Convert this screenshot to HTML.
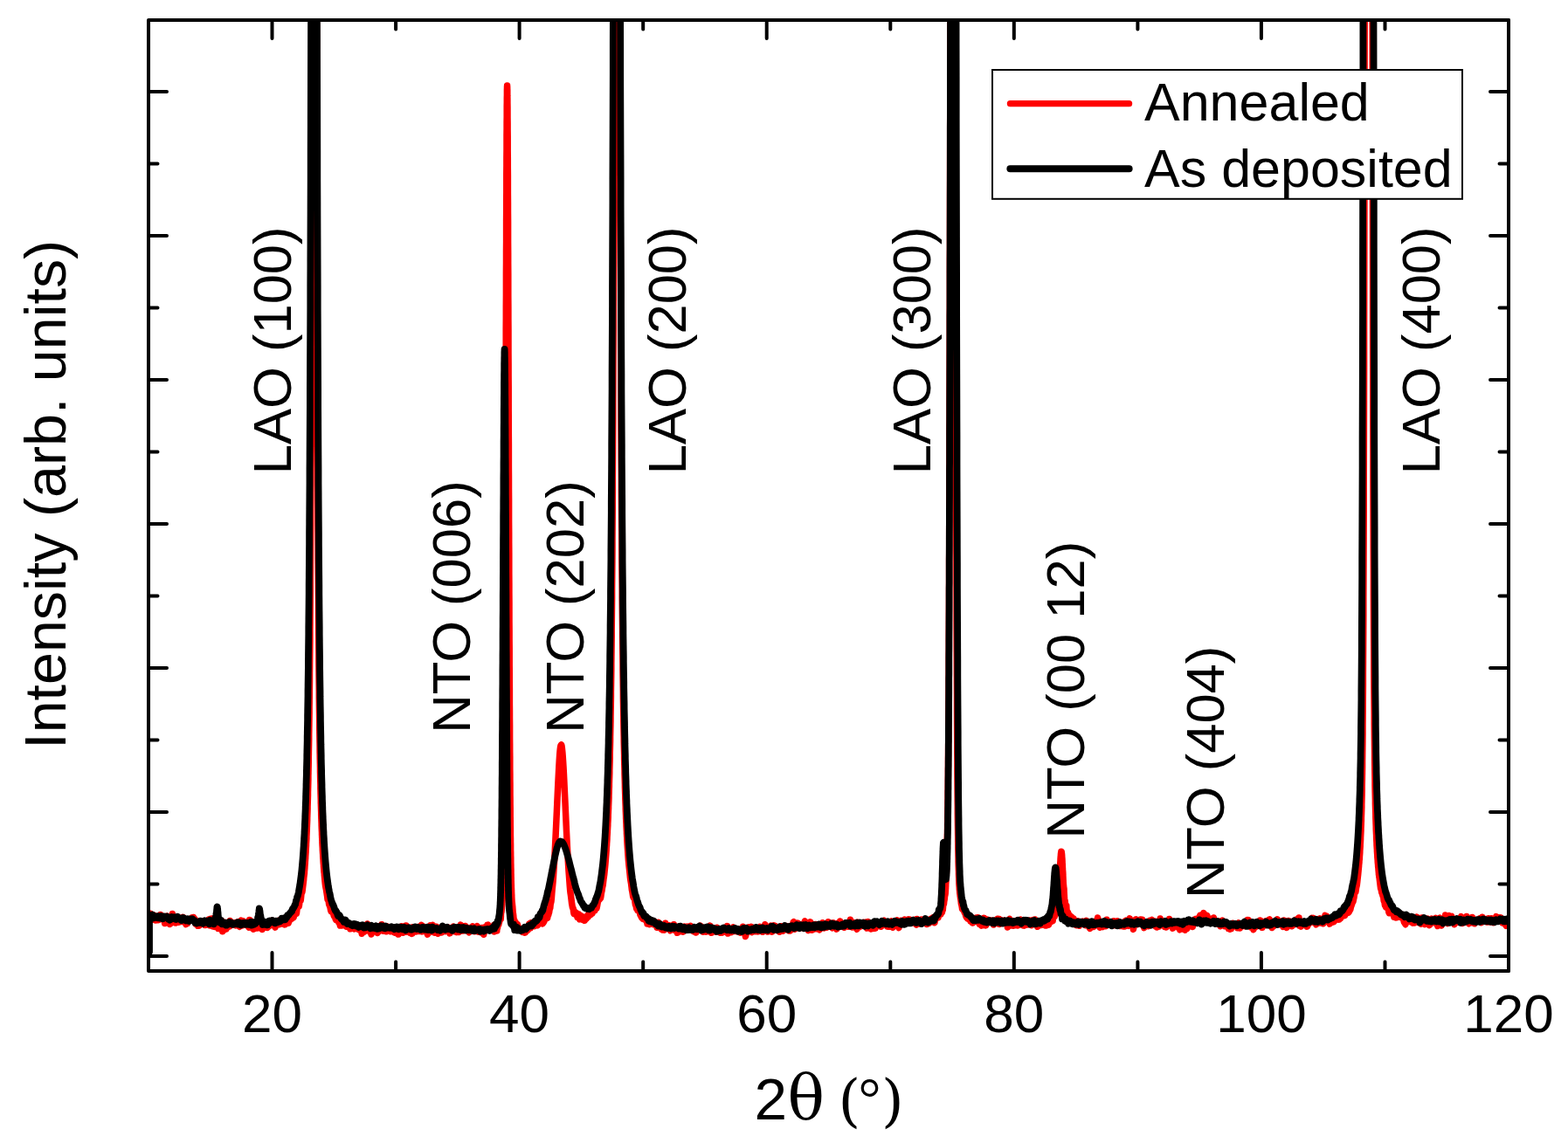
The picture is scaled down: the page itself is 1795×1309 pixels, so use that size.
<!DOCTYPE html>
<html><head><meta charset="utf-8"><title>XRD</title>
<style>
html,body{margin:0;padding:0;background:#fff;}
svg{display:block;}
text{font-family:"Liberation Sans",Arial,sans-serif;fill:#000;}
.serif{font-family:"DejaVu Serif","Liberation Serif",serif;}
.serif2{font-family:"Liberation Serif",serif;}
</style></head>
<body>
<svg width="1795" height="1309" viewBox="0 0 1795 1309">
<rect x="0" y="0" width="1795" height="1309" fill="#fff"/>
<defs><clipPath id="pc"><rect x="170.0" y="23.0" width="1557.0" height="1089.0"/></clipPath></defs>
<g clip-path="url(#pc)" fill="none" stroke-linejoin="round" stroke-linecap="round">
<polyline stroke="#ff0000" stroke-width="7.5" points="171.0,1048.0 171.4,1049.8 171.8,1049.2 172.2,1046.1 172.6,1047.5 173.0,1050.5 173.4,1049.6 173.8,1048.8 174.2,1048.5 174.6,1048.6 175.0,1051.7 175.4,1053.3 175.8,1052.3 176.2,1050.9 176.6,1048.3 177.0,1048.8 177.4,1051.3 177.8,1052.1 178.2,1054.0 178.6,1053.0 179.0,1051.7 179.4,1049.9 179.8,1050.4 180.2,1053.3 180.6,1053.7 181.0,1053.6 181.4,1052.5 181.8,1053.6 182.2,1052.2 182.6,1050.9 183.0,1052.9 183.4,1050.7 183.8,1047.4 184.2,1048.7 184.6,1050.0 185.0,1050.1 185.4,1050.7 185.8,1049.1 186.2,1049.3 186.6,1052.6 187.0,1052.7 187.4,1051.8 187.8,1051.5 188.2,1053.5 188.6,1057.5 189.0,1054.5 189.4,1052.5 189.8,1055.1 190.2,1052.9 190.6,1050.8 191.0,1049.9 191.4,1049.2 191.8,1050.7 192.2,1052.7 192.6,1052.9 193.0,1053.6 193.4,1054.5 193.8,1052.6 194.2,1055.1 194.6,1058.5 195.0,1055.8 195.4,1056.3 195.8,1057.2 196.2,1054.3 196.6,1055.3 197.0,1051.5 197.4,1046.4 197.8,1050.0 198.2,1052.0 198.6,1050.3 199.0,1053.1 199.4,1055.5 199.8,1052.2 200.2,1051.1 200.6,1053.9 201.0,1057.1 201.4,1053.3 201.8,1051.2 202.2,1053.2 202.6,1050.5 203.0,1050.8 203.4,1051.0 203.8,1050.4 204.2,1054.7 204.6,1056.1 205.0,1055.2 205.4,1055.5 205.8,1055.1 206.2,1055.7 206.6,1053.8 207.0,1052.0 207.4,1054.4 207.8,1053.4 208.2,1051.1 208.6,1053.1 209.0,1055.5 209.4,1053.2 209.8,1050.4 210.2,1052.5 210.6,1054.7 211.0,1053.9 211.4,1054.9 211.8,1056.7 212.2,1055.9 212.6,1057.5 213.0,1058.6 213.4,1056.2 213.8,1055.6 214.2,1057.3 214.6,1057.4 215.0,1053.9 215.4,1053.1 215.8,1054.4 216.2,1053.1 216.6,1053.1 217.0,1053.8 217.4,1053.1 217.8,1052.0 218.2,1053.1 218.6,1051.8 219.0,1052.0 219.4,1054.3 219.8,1053.7 220.2,1050.8 220.6,1052.7 221.0,1053.6 221.4,1050.4 221.8,1053.8 222.2,1054.8 222.6,1054.0 223.0,1052.4 223.4,1052.8 223.8,1056.4 224.2,1058.2 224.6,1057.8 225.0,1057.5 225.4,1058.8 225.8,1057.9 226.2,1056.6 226.6,1060.3 227.0,1060.2 227.4,1059.1 227.8,1060.1 228.2,1060.0 228.6,1058.7 229.0,1057.1 229.4,1058.0 229.8,1056.7 230.2,1056.4 230.6,1055.6 231.0,1055.2 231.4,1055.9 231.8,1057.3 232.2,1058.0 232.6,1055.4 233.0,1055.0 233.4,1056.6 233.8,1055.8 234.2,1057.6 234.6,1059.5 235.0,1059.1 235.4,1057.9 235.8,1056.6 236.2,1059.2 236.6,1057.8 236.6,1057.8 236.7,1056.5 236.8,1055.2 236.8,1055.0 236.9,1055.8 237.0,1056.7 237.0,1056.7 237.1,1057.5 237.2,1058.4 237.2,1058.7 237.3,1058.5 237.4,1058.2 237.4,1058.2 237.5,1058.0 237.6,1057.7 237.6,1057.3 237.7,1056.9 237.8,1056.5 237.8,1056.5 237.9,1056.0 238.0,1055.6 238.0,1055.5 238.1,1055.7 238.2,1055.9 238.2,1055.9 238.3,1056.1 238.4,1056.4 238.4,1056.1 238.5,1055.4 238.6,1054.7 238.6,1054.7 238.7,1054.1 238.8,1053.4 238.8,1053.4 238.9,1054.1 239.0,1054.7 239.0,1054.7 239.1,1055.4 239.2,1056.0 239.2,1056.0 239.3,1055.3 239.4,1054.6 239.4,1054.6 239.5,1053.9 239.6,1053.2 239.6,1052.8 239.7,1052.8 239.8,1052.8 239.8,1052.8 239.9,1052.9 240.0,1052.9 240.0,1053.7 240.1,1055.2 240.2,1056.7 240.2,1056.7 240.3,1058.2 240.4,1059.7 240.4,1059.9 240.5,1058.9 240.6,1057.9 240.6,1057.9 240.7,1056.9 240.8,1055.8 240.8,1055.0 240.9,1054.3 241.0,1053.7 241.0,1053.7 241.1,1053.0 241.2,1052.3 241.2,1052.8 241.3,1054.5 241.4,1056.1 241.4,1056.1 241.5,1057.8 241.6,1059.5 241.6,1059.9 241.7,1058.9 241.8,1058.0 241.8,1058.0 241.9,1057.1 242.0,1056.2 242.0,1055.3 242.1,1054.5 242.2,1053.7 242.2,1053.7 242.3,1052.9 242.4,1052.0 242.4,1052.2 242.5,1053.3 242.6,1054.4 242.6,1054.4 242.7,1055.6 242.8,1056.7 242.8,1057.5 242.9,1058.0 243.0,1058.4 243.0,1058.4 243.1,1058.9 243.2,1059.4 243.2,1059.4 243.3,1059.1 243.4,1058.7 243.4,1058.7 243.5,1058.4 243.6,1058.1 243.6,1058.2 243.7,1058.9 243.8,1059.6 243.8,1059.6 243.9,1060.3 244.0,1061.0 244.0,1060.9 244.1,1059.9 244.2,1058.9 244.2,1058.9 244.3,1058.0 244.4,1057.0 244.4,1056.7 244.5,1057.1 244.6,1057.5 244.6,1057.5 244.7,1057.9 244.8,1058.3 244.8,1058.1 244.9,1057.3 245.0,1056.5 245.0,1056.5 245.1,1055.7 245.2,1054.9 245.2,1054.8 245.3,1055.5 245.4,1056.1 245.4,1056.1 245.5,1056.8 245.6,1057.5 245.6,1058.2 245.7,1059.0 245.8,1059.8 245.8,1059.8 245.9,1060.6 246.0,1061.4 246.0,1061.5 246.1,1061.1 246.2,1060.6 246.2,1060.6 246.3,1060.2 246.4,1059.7 246.4,1059.4 246.5,1059.3 246.6,1059.2 246.6,1059.2 246.7,1059.1 246.8,1059.0 246.8,1058.5 246.9,1057.4 247.0,1056.4 247.0,1056.4 247.1,1055.3 247.2,1054.3 247.2,1054.2 247.3,1055.1 247.4,1056.0 247.4,1056.0 247.5,1056.9 247.6,1057.8 247.6,1058.0 247.7,1057.6 247.8,1057.1 247.8,1057.1 247.9,1056.7 248.0,1056.2 248.0,1056.5 248.1,1057.7 248.2,1058.8 248.2,1058.8 248.3,1059.9 248.4,1061.0 248.4,1061.1 248.5,1060.4 248.6,1059.6 248.6,1059.6 248.7,1058.8 248.8,1058.0 248.8,1057.9 248.9,1058.5 249.0,1059.1 249.0,1059.1 249.1,1059.6 249.2,1060.2 249.2,1060.2 249.3,1059.4 249.4,1058.7 249.4,1058.7 249.5,1058.0 249.6,1057.2 249.6,1057.6 249.7,1059.1 249.8,1060.5 249.8,1060.5 249.9,1062.0 250.0,1063.5 250.0,1063.4 250.1,1061.7 250.2,1060.0 250.2,1060.0 250.3,1058.3 250.4,1056.6 250.4,1056.1 250.5,1056.7 250.6,1057.3 250.6,1057.3 250.7,1057.9 250.8,1058.4 250.8,1059.2 250.9,1060.2 251.0,1061.1 251.0,1061.1 251.1,1062.1 251.2,1063.0 251.2,1062.9 251.3,1061.8 251.4,1060.6 251.4,1060.6 251.5,1059.4 251.6,1058.3 251.6,1057.3 251.7,1056.6 251.8,1055.9 251.8,1055.9 251.9,1055.3 252.0,1054.7 252.0,1054.8 252.1,1055.6 252.2,1056.3 252.2,1056.3 252.3,1057.1 252.4,1057.8 252.4,1058.4 252.5,1058.7 252.6,1059.0 252.6,1059.0 252.7,1059.3 252.8,1059.6 252.8,1059.8 252.9,1059.9 253.0,1059.9 253.0,1059.9 253.1,1060.1 253.2,1060.2 253.2,1059.7 253.3,1058.4 253.4,1057.2 253.4,1057.2 253.5,1055.9 253.6,1054.6 253.6,1054.7 253.7,1056.1 253.8,1057.5 253.8,1057.5 253.9,1058.9 254.0,1060.3 254.0,1060.5 254.1,1059.5 254.2,1058.5 254.2,1058.5 254.3,1057.4 254.4,1056.4 254.4,1057.0 254.5,1059.2 254.6,1061.5 254.6,1061.5 254.7,1063.8 254.8,1066.1 254.8,1066.7 254.9,1065.8 255.0,1064.9 255.0,1064.9 255.1,1064.0 255.2,1063.0 255.2,1062.4 255.3,1062.2 255.4,1061.9 255.4,1061.9 255.5,1061.6 255.6,1061.3 255.6,1061.4 255.7,1061.9 255.8,1062.4 255.8,1062.4 255.9,1063.0 256.0,1063.5 256.0,1063.7 256.1,1063.5 256.2,1063.3 256.2,1063.3 256.3,1063.1 256.4,1062.9 256.4,1062.4 256.5,1061.4 256.6,1060.4 256.6,1060.4 256.7,1059.5 256.8,1058.6 256.8,1058.8 256.9,1060.2 257.0,1061.6 257.0,1061.6 257.1,1063.1 257.2,1064.5 257.2,1064.7 257.3,1063.7 257.4,1062.7 257.4,1062.7 257.5,1061.7 257.6,1060.7 257.6,1059.7 257.7,1058.9 257.8,1058.1 257.8,1058.1 257.9,1057.3 258.0,1056.4 258.0,1056.8 258.1,1058.4 258.2,1060.1 258.2,1060.1 258.3,1061.7 258.4,1063.3 258.4,1064.1 258.5,1064.1 258.6,1064.1 258.6,1064.1 258.7,1064.1 258.8,1064.1 258.8,1064.0 258.9,1063.8 259.0,1063.6 259.0,1063.6 259.1,1063.3 259.2,1063.1 259.2,1062.7 259.3,1062.2 259.4,1061.8 259.4,1061.8 259.5,1061.3 259.6,1060.8 259.6,1060.1 259.7,1059.3 259.8,1058.4 259.8,1058.4 259.9,1057.6 260.0,1056.7 260.0,1056.8 260.1,1057.6 260.2,1058.5 260.2,1058.5 260.3,1059.4 260.4,1060.3 260.4,1061.0 260.5,1061.5 260.6,1061.9 260.6,1061.9 261.0,1061.7 261.4,1061.3 261.8,1059.3 262.2,1058.6 262.6,1061.0 263.0,1057.7 263.4,1054.4 263.8,1055.5 264.2,1057.9 264.6,1059.6 265.0,1059.4 265.4,1058.6 265.8,1058.6 266.2,1058.5 266.6,1059.0 267.0,1059.1 267.4,1057.9 267.8,1057.4 268.2,1056.9 268.6,1057.6 269.0,1057.7 269.4,1058.9 269.8,1059.8 270.2,1058.1 270.6,1057.1 271.0,1056.3 271.4,1057.5 271.8,1058.0 272.2,1057.0 272.6,1055.8 273.0,1056.9 273.4,1058.9 273.8,1059.8 274.2,1061.3 274.6,1060.2 275.0,1055.9 275.4,1055.9 275.8,1055.9 276.2,1054.1 276.6,1057.7 277.0,1060.0 277.4,1057.7 277.8,1055.9 278.2,1056.5 278.6,1054.8 279.0,1055.4 279.4,1057.1 279.8,1058.8 280.2,1057.9 280.6,1056.9 281.0,1057.8 281.4,1058.2 281.8,1058.4 282.2,1058.4 282.6,1059.5 283.0,1057.6 283.4,1057.9 283.8,1059.5 284.2,1060.2 284.6,1061.6 285.0,1062.1 285.0,1062.1 285.1,1061.7 285.2,1061.4 285.2,1060.3 285.3,1058.7 285.4,1057.1 285.4,1057.1 285.5,1055.5 285.6,1053.8 285.6,1053.5 285.7,1054.5 285.8,1055.5 285.8,1055.5 285.9,1056.5 286.0,1057.4 286.0,1057.5 286.1,1056.7 286.2,1055.8 286.2,1055.8 286.3,1055.0 286.4,1054.1 286.4,1054.1 286.5,1054.9 286.6,1055.8 286.6,1055.8 286.7,1056.6 286.8,1057.4 286.8,1058.1 286.9,1058.6 287.0,1059.1 287.0,1059.1 287.1,1059.7 287.2,1060.2 287.2,1059.9 287.3,1058.9 287.4,1057.8 287.4,1057.8 287.5,1056.8 287.6,1055.8 287.6,1055.3 287.7,1055.4 287.8,1055.4 287.8,1055.4 287.9,1055.5 288.0,1055.6 288.0,1056.1 288.1,1056.8 288.2,1057.5 288.2,1057.5 288.3,1058.2 288.4,1058.9 288.4,1059.2 288.5,1059.0 288.6,1058.8 288.6,1058.8 288.7,1058.6 288.8,1058.4 288.8,1058.9 288.9,1059.9 289.0,1060.9 289.0,1060.9 289.1,1061.9 289.2,1063.0 289.2,1063.2 289.3,1062.6 289.4,1061.9 289.4,1061.9 289.5,1061.3 289.6,1060.7 289.6,1060.5 289.7,1060.6 289.8,1060.8 289.8,1060.8 289.9,1060.9 290.0,1061.1 290.0,1061.5 290.1,1062.2 290.2,1062.8 290.2,1062.8 290.3,1063.5 290.4,1064.1 290.4,1063.9 290.5,1062.7 290.6,1061.6 290.6,1061.6 290.7,1060.4 290.8,1059.2 290.8,1058.8 290.9,1059.0 291.0,1059.3 291.0,1059.3 291.1,1059.5 291.2,1059.8 291.2,1059.6 291.3,1059.1 291.4,1058.5 291.4,1058.5 291.5,1058.0 291.6,1057.4 291.6,1057.5 291.7,1058.1 291.8,1058.7 291.8,1058.7 291.9,1059.4 292.0,1060.0 292.0,1060.5 292.1,1060.9 292.2,1061.3 292.2,1061.3 292.3,1061.6 292.4,1062.0 292.4,1062.3 292.5,1062.4 292.6,1062.6 292.6,1062.6 292.7,1062.7 292.8,1062.8 292.8,1062.5 292.9,1061.7 293.0,1061.0 293.0,1061.0 293.1,1060.2 293.2,1059.4 293.2,1058.8 293.3,1058.4 293.4,1058.1 293.4,1058.1 293.5,1057.7 293.6,1057.3 293.6,1057.1 293.7,1057.1 293.8,1057.0 293.8,1057.0 293.9,1057.0 294.0,1057.0 294.0,1056.9 294.1,1056.6 294.2,1056.3 294.2,1056.3 294.3,1056.0 294.4,1055.7 294.4,1056.0 294.5,1056.8 294.6,1057.7 294.6,1057.7 294.7,1058.5 294.8,1059.4 294.8,1060.2 294.9,1060.9 295.0,1061.6 295.0,1061.6 295.1,1062.2 295.2,1062.9 295.2,1062.3 295.3,1060.4 295.4,1058.6 295.4,1058.6 295.5,1056.7 295.6,1054.8 295.6,1053.9 295.7,1053.9 295.8,1054.0 295.8,1054.0 295.9,1054.0 296.0,1054.0 296.0,1055.0 296.1,1056.9 296.2,1058.7 296.2,1058.7 296.3,1060.6 296.4,1062.4 296.4,1062.5 296.5,1060.9 296.6,1059.3 296.6,1059.3 296.7,1057.7 296.8,1056.1 296.8,1055.8 296.9,1056.7 297.0,1057.7 297.0,1057.7 297.1,1058.6 297.2,1059.5 297.2,1059.6 297.3,1058.7 297.4,1057.7 297.4,1057.7 297.5,1056.8 297.6,1055.9 297.6,1056.0 297.7,1057.0 297.8,1058.0 297.8,1058.0 297.9,1059.0 298.0,1060.0 298.0,1060.5 298.1,1060.4 298.2,1060.4 298.2,1060.4 298.3,1060.4 298.4,1060.4 298.4,1060.2 298.5,1059.9 298.6,1059.6 298.6,1059.6 298.7,1059.3 298.8,1059.1 298.8,1059.1 298.9,1059.5 299.0,1059.9 299.0,1059.9 299.1,1060.3 299.2,1060.7 299.2,1060.7 299.3,1060.4 299.4,1060.1 299.4,1060.1 299.5,1059.7 299.6,1059.4 299.6,1059.4 299.7,1059.8 299.8,1060.1 299.8,1060.1 299.9,1060.4 300.0,1060.8 300.0,1061.3 300.1,1062.0 300.2,1062.8 300.2,1062.8 300.3,1063.5 300.4,1064.2 300.4,1064.4 300.5,1064.1 300.6,1063.7 300.6,1063.7 300.7,1063.4 300.8,1063.1 300.8,1062.5 300.9,1061.6 301.0,1060.7 301.0,1060.7 301.1,1059.8 301.2,1058.8 301.2,1058.3 301.3,1058.2 301.4,1058.1 301.4,1058.1 301.5,1058.0 301.6,1057.9 301.6,1058.0 301.7,1058.2 301.8,1058.5 301.8,1058.5 301.9,1058.7 302.0,1059.0 302.0,1059.1 302.1,1059.0 302.2,1059.0 302.2,1059.0 302.3,1058.9 302.4,1058.9 302.4,1058.9 302.5,1059.0 302.6,1059.1 302.6,1059.1 302.7,1059.2 302.8,1059.3 302.8,1059.1 302.9,1058.7 303.0,1058.3 303.0,1058.3 303.1,1057.9 303.2,1057.6 303.2,1057.7 303.3,1058.3 303.4,1058.9 303.4,1058.9 303.5,1059.5 303.6,1060.2 303.6,1060.3 303.7,1060.0 303.8,1059.7 303.8,1059.7 303.9,1059.3 304.0,1059.0 304.0,1058.9 304.1,1059.1 304.2,1059.2 304.2,1059.2 304.3,1059.4 304.4,1059.6 304.4,1059.6 304.5,1059.4 304.6,1059.2 304.6,1059.2 304.7,1059.0 304.8,1058.8 304.8,1058.9 304.9,1059.2 305.0,1059.5 305.0,1059.5 305.1,1059.9 305.2,1060.2 305.2,1059.9 305.3,1058.9 305.4,1058.0 305.4,1058.0 305.5,1057.0 305.6,1056.1 305.6,1056.3 305.7,1057.8 305.8,1059.2 305.8,1059.2 305.9,1060.7 306.0,1062.1 306.0,1062.5 306.1,1061.9 306.2,1061.2 306.2,1061.2 306.3,1060.6 306.4,1060.0 306.4,1059.7 306.5,1059.7 306.6,1059.8 306.6,1059.8 306.7,1059.8 306.8,1059.9 306.8,1059.9 306.9,1060.0 307.0,1060.1 307.0,1060.1 307.1,1060.1 307.2,1060.2 307.2,1060.3 307.3,1060.5 307.4,1060.7 307.4,1060.7 307.5,1060.9 307.6,1061.1 307.6,1061.1 307.7,1060.9 307.8,1060.6 307.8,1060.6 307.9,1060.4 308.0,1060.2 308.0,1059.9 308.1,1059.6 308.2,1059.2 308.2,1059.2 308.3,1058.9 308.4,1058.6 308.4,1058.3 308.5,1058.0 308.6,1057.8 308.6,1057.8 308.7,1057.5 308.8,1057.2 308.8,1056.7 308.9,1055.9 309.0,1055.1 309.4,1055.3 309.8,1056.8 310.2,1055.9 310.6,1058.9 311.0,1056.9 311.4,1054.2 311.8,1058.2 312.2,1059.5 312.6,1059.8 313.0,1057.3 313.4,1055.0 313.8,1058.0 314.2,1059.4 314.6,1061.2 315.0,1062.1 315.4,1060.3 315.8,1060.4 316.2,1059.6 316.6,1058.7 317.0,1057.8 317.4,1057.2 317.8,1057.2 318.2,1057.5 318.6,1056.3 319.0,1054.2 319.4,1056.6 319.8,1058.7 320.2,1056.8 320.6,1055.9 321.0,1055.5 321.4,1058.1 321.8,1057.4 322.2,1056.9 322.6,1057.9 323.0,1056.4 323.4,1057.0 323.8,1055.8 324.2,1056.8 324.6,1057.9 325.0,1056.0 325.4,1053.6 325.8,1056.3 326.2,1058.9 326.6,1056.3 327.0,1054.1 327.4,1054.1 327.8,1054.5 328.2,1055.6 328.6,1054.4 329.0,1053.0 329.4,1053.1 329.8,1054.6 330.2,1057.3 330.6,1055.3 331.0,1053.3 331.4,1054.5 331.8,1053.0 332.2,1049.9 332.6,1051.1 333.0,1052.5 333.4,1050.8 333.8,1051.8 334.2,1052.1 334.6,1048.4 335.0,1048.2 335.4,1049.8 335.8,1051.0 336.2,1050.4 336.6,1047.6 337.0,1047.5 337.4,1047.4 337.8,1044.8 338.2,1044.0 338.6,1044.4 339.0,1044.8 339.4,1046.4 339.8,1043.0 340.2,1039.1 340.6,1038.6 341.0,1038.3 341.4,1037.7 341.8,1037.6 342.2,1038.2 342.6,1035.8 343.0,1032.1 343.4,1030.2 343.8,1030.7 344.2,1031.4 344.6,1027.5 345.0,1023.5 345.4,1022.5 345.8,1022.0 346.2,1019.9 346.6,1016.4 347.0,1013.1 347.4,1009.7 347.5,1008.8 347.6,1008.0 347.7,1007.1 347.7,1006.2 347.8,1005.5 347.8,1005.3 347.9,1004.4 348.0,1003.5 348.1,1002.9 348.1,1002.4 348.2,1002.0 348.2,1001.8 348.3,1001.2 348.4,1000.6 348.5,999.5 348.5,998.4 348.6,997.5 348.6,997.2 348.7,996.1 348.8,995.0 348.9,993.9 348.9,992.8 349.0,992.0 349.0,991.7 349.1,990.6 349.2,989.5 349.3,988.4 349.3,987.3 349.4,986.4 349.4,986.1 349.5,985.0 349.6,983.8 349.7,982.5 349.7,981.2 349.8,980.2 349.8,979.8 349.9,978.4 350.0,977.0 350.1,975.7 350.1,974.3 350.2,973.3 350.2,972.9 350.3,971.5 350.4,970.0 350.5,968.5 350.5,967.0 350.6,965.8 350.6,965.3 350.7,963.7 350.8,962.0 350.9,960.1 350.9,958.1 351.0,956.6 351.0,956.1 351.1,954.0 351.2,951.9 351.3,949.9 351.3,947.9 351.4,946.4 351.4,945.8 351.5,943.7 351.6,941.5 351.7,939.2 351.7,936.9 351.8,935.0 351.8,934.4 351.9,931.8 352.0,929.2 352.1,926.4 352.1,923.5 352.2,921.2 352.2,920.5 352.3,917.4 352.4,914.2 352.5,910.9 352.5,907.5 352.6,904.8 352.6,904.0 352.7,900.3 352.8,896.6 352.9,892.8 352.9,888.9 353.0,885.9 353.0,884.9 353.1,880.7 353.2,876.3 353.3,871.9 353.3,867.2 353.4,863.6 353.4,862.4 353.5,857.4 353.6,852.3 353.7,846.8 353.7,841.2 353.8,836.8 353.8,835.3 353.9,829.2 354.0,822.8 354.1,816.2 354.1,809.4 354.2,804.1 354.2,802.3 354.3,794.9 354.4,787.2 354.5,779.1 354.5,770.8 354.6,764.2 354.6,762.0 354.7,752.9 354.8,743.3 354.9,733.3 354.9,722.7 355.0,714.5 355.0,711.7 355.1,700.1 355.2,688.0 355.3,675.3 355.3,661.9 355.4,651.4 355.4,647.9 355.5,633.1 355.6,617.5 355.7,601.0 355.7,583.5 355.8,569.7 355.8,565.0 355.9,545.5 356.0,524.9 356.1,503.3 356.1,480.4 356.2,462.3 356.2,456.1 356.3,430.3 356.4,402.8 356.5,373.4 356.5,342.0 356.6,317.1 356.6,308.5 356.7,272.6 356.8,234.3 356.9,193.3 356.9,149.2 357.0,114.1 357.0,101.9 357.1,51.0 357.2,-3.8 357.3,-50.0 357.3,-50.0 357.4,-50.0 357.4,-50.0 357.5,-50.0 357.6,-50.0 357.7,-50.0 357.7,-50.0 357.8,-50.0 357.8,-50.0 357.9,-50.0 358.0,-50.0 358.1,-50.0 358.1,-50.0 358.2,-50.0 358.2,-50.0 358.3,-50.0 358.4,-50.0 358.5,-50.0 358.5,-50.0 358.6,-50.0 358.6,-50.0 358.7,-50.0 358.8,-50.0 358.9,-50.0 358.9,-50.0 359.0,-50.0 359.0,-50.0 359.1,-50.0 359.2,-50.0 359.3,-50.0 359.3,-50.0 359.4,-50.0 359.4,-50.0 359.5,-50.0 359.6,-50.0 359.7,-50.0 359.7,-50.0 359.8,-50.0 359.8,-50.0 359.9,-50.0 360.0,-50.0 360.1,-50.0 360.1,-50.0 360.2,-50.0 360.2,-50.0 360.3,-50.0 360.4,-50.0 360.5,-50.0 360.5,-50.0 360.6,-50.0 360.6,-50.0 360.7,-50.0 360.8,-50.0 360.9,-50.0 360.9,-50.0 361.0,-50.0 361.0,-50.0 361.1,-50.0 361.2,-50.0 361.3,-50.0 361.3,-50.0 361.4,-50.0 361.4,-50.0 361.5,-50.0 361.6,-50.0 361.7,-50.0 361.7,-50.0 361.8,-50.0 361.8,-50.0 361.9,-50.0 362.0,-50.0 362.1,-50.0 362.1,-50.0 362.2,-50.0 362.2,-50.0 362.3,-50.0 362.4,-33.0 362.5,24.0 362.5,76.8 362.6,114.0 362.6,125.9 362.7,171.6 362.8,214.1 362.9,253.8 362.9,290.8 363.0,316.9 363.0,325.4 363.1,357.8 363.2,388.1 363.3,416.7 363.3,443.5 363.4,462.6 363.4,468.7 363.5,492.5 363.6,514.9 363.7,536.0 363.7,556.0 363.8,570.3 363.8,575.0 363.9,592.9 364.0,609.8 364.1,625.8 364.1,641.0 364.2,651.8 364.2,655.3 364.3,669.0 364.4,682.0 364.5,694.5 364.5,706.4 364.6,715.0 364.6,717.8 364.7,728.7 364.8,739.1 364.9,748.9 364.9,758.2 365.0,765.0 365.0,767.2 365.1,775.8 365.2,784.0 365.3,791.9 365.3,799.5 365.4,805.0 365.4,806.8 365.5,813.8 365.6,820.5 365.7,827.0 365.7,833.2 365.8,837.7 365.8,839.1 365.9,844.9 366.0,850.4 366.1,855.7 366.1,860.9 366.2,864.6 366.2,865.8 366.3,870.6 366.4,875.2 366.5,879.6 366.5,883.9 366.6,886.9 366.6,888.0 366.7,891.9 366.8,895.8 366.9,899.5 366.9,903.1 367.0,905.7 367.0,906.6 367.1,910.0 367.2,913.3 367.3,916.4 367.3,919.5 367.4,921.7 367.4,922.4 367.5,925.2 367.6,928.0 367.7,930.7 367.7,933.4 367.8,935.4 367.8,936.0 367.9,938.6 368.0,941.0 368.1,943.3 368.1,945.5 368.2,947.1 368.2,947.7 368.3,949.8 368.4,951.8 368.5,953.8 368.5,955.9 368.6,957.3 368.6,957.8 368.7,959.7 368.8,961.6 368.9,963.5 368.9,965.3 369.0,966.6 369.0,967.0 369.1,968.7 369.2,970.4 369.3,971.9 369.3,973.4 369.4,974.5 369.4,974.9 369.5,976.3 369.6,977.7 369.7,979.1 369.7,980.5 369.8,981.5 369.8,981.9 369.9,983.2 370.0,984.5 370.1,985.7 370.1,986.8 370.2,987.6 370.2,987.9 370.3,989.0 370.4,990.0 370.5,991.2 370.5,992.5 370.6,993.4 370.6,993.7 370.7,994.9 370.8,996.1 370.9,997.1 370.9,998.0 371.0,998.6 371.0,998.8 371.1,999.6 371.2,1000.3 371.3,1001.2 371.3,1002.2 371.4,1003.0 371.4,1003.2 371.8,1007.4 372.2,1011.5 372.6,1014.8 373.0,1016.8 373.4,1018.6 373.8,1021.3 374.2,1023.8 374.6,1026.3 375.0,1029.9 375.4,1029.5 375.8,1028.7 376.2,1032.1 376.6,1035.4 377.0,1036.7 377.4,1037.1 377.8,1038.5 378.2,1040.0 378.6,1042.3 379.0,1043.6 379.4,1041.8 379.8,1041.7 380.2,1044.1 380.6,1044.6 381.0,1045.0 381.4,1046.2 381.8,1046.5 382.2,1048.5 382.6,1049.4 383.0,1047.9 383.4,1047.8 383.8,1049.3 384.2,1052.7 384.6,1053.3 385.0,1053.0 385.4,1053.9 385.8,1050.4 386.2,1051.0 386.6,1053.3 387.0,1051.9 387.4,1052.2 387.8,1056.3 388.2,1056.3 388.6,1054.0 389.0,1057.8 389.4,1060.0 389.8,1057.2 390.2,1056.8 390.6,1058.6 391.0,1058.6 391.4,1059.9 391.8,1059.2 392.2,1057.5 392.6,1059.7 393.0,1057.7 393.4,1055.4 393.8,1058.3 394.2,1057.3 394.6,1056.0 395.0,1056.1 395.4,1057.1 395.8,1058.0 396.2,1058.9 396.6,1061.2 397.0,1060.5 397.4,1059.1 397.8,1059.6 398.2,1060.4 398.6,1058.7 399.0,1060.1 399.4,1062.1 399.8,1061.6 400.2,1059.4 400.6,1059.3 401.0,1063.8 401.4,1063.6 401.8,1059.4 402.2,1059.1 402.6,1061.3 403.0,1061.8 403.4,1061.8 403.8,1062.4 404.2,1062.3 404.6,1062.1 405.0,1061.9 405.4,1061.8 405.8,1063.9 406.2,1063.0 406.6,1062.4 407.0,1061.7 407.4,1060.2 407.8,1061.1 408.2,1063.5 408.6,1063.1 409.0,1063.4 409.4,1062.6 409.8,1060.8 410.2,1063.7 410.6,1064.7 411.0,1062.3 411.4,1059.9 411.8,1062.5 412.2,1062.7 412.6,1062.5 413.0,1063.6 413.4,1063.0 413.8,1066.7 414.2,1069.2 414.6,1068.0 415.0,1064.8 415.4,1064.6 415.8,1066.8 416.2,1066.2 416.6,1067.4 417.0,1064.6 417.4,1062.5 417.8,1064.2 418.2,1062.2 418.6,1063.8 419.0,1062.9 419.4,1060.6 419.8,1062.5 420.2,1059.7 420.6,1058.0 421.0,1059.9 421.4,1063.2 421.8,1066.0 422.2,1066.1 422.6,1065.6 423.0,1062.2 423.4,1062.5 423.8,1064.9 424.2,1066.3 424.6,1068.8 425.0,1069.9 425.4,1069.0 425.8,1067.1 426.2,1064.6 426.6,1063.6 427.0,1063.3 427.4,1064.7 427.8,1065.2 428.2,1064.1 428.6,1064.7 429.0,1064.4 429.4,1065.8 429.8,1065.2 430.2,1064.3 430.6,1063.1 431.0,1064.4 431.4,1064.8 431.8,1064.4 432.2,1068.4 432.6,1064.5 433.0,1060.7 433.4,1063.7 433.8,1066.7 434.2,1066.5 434.6,1065.5 435.0,1065.2 435.4,1065.4 435.8,1064.6 436.2,1064.7 436.6,1062.9 437.0,1058.8 437.4,1063.7 437.8,1065.8 438.2,1061.7 438.6,1063.9 439.0,1066.2 439.4,1065.0 439.8,1063.3 440.2,1062.9 440.6,1064.6 441.0,1061.9 441.4,1062.3 441.8,1064.3 442.2,1065.1 442.6,1066.8 443.0,1063.9 443.4,1061.0 443.8,1062.0 444.2,1063.8 444.6,1063.1 445.0,1062.3 445.4,1064.0 445.8,1065.1 446.2,1066.4 446.6,1066.6 447.0,1064.2 447.4,1061.9 447.8,1064.5 448.2,1066.8 448.6,1065.6 449.0,1065.8 449.4,1064.3 449.8,1064.2 450.2,1063.1 450.6,1062.8 451.0,1064.3 451.4,1066.8 451.8,1068.2 452.2,1064.9 452.6,1064.3 453.0,1065.5 453.4,1064.5 453.8,1063.6 454.2,1064.7 454.6,1068.4 455.0,1069.4 455.4,1064.0 455.8,1065.0 456.2,1070.1 456.6,1067.2 457.0,1066.6 457.4,1067.5 457.8,1065.7 458.2,1064.9 458.6,1063.3 459.0,1062.5 459.4,1061.7 459.8,1060.8 460.2,1064.3 460.6,1066.2 461.0,1065.7 461.4,1068.2 461.8,1067.1 462.2,1066.5 462.6,1066.8 463.0,1065.2 463.4,1064.5 463.8,1064.3 464.2,1062.1 464.6,1059.9 465.0,1059.9 465.4,1061.9 465.8,1065.1 466.2,1067.2 466.6,1066.0 467.0,1065.6 467.4,1065.6 467.8,1066.0 468.2,1066.4 468.6,1065.7 469.0,1065.5 469.4,1065.2 469.8,1068.5 470.2,1067.0 470.6,1064.4 471.0,1065.2 471.4,1066.4 471.8,1069.4 472.2,1067.4 472.6,1061.7 473.0,1063.0 473.4,1067.0 473.8,1063.9 474.2,1062.9 474.6,1065.2 475.0,1062.6 475.4,1063.6 475.8,1067.1 476.2,1066.5 476.6,1064.2 477.0,1062.7 477.4,1063.1 477.8,1064.4 478.2,1063.6 478.6,1064.6 479.0,1066.4 479.4,1061.3 479.8,1063.2 480.2,1066.5 480.6,1063.6 481.0,1063.6 481.4,1061.8 481.8,1061.8 482.2,1061.1 482.6,1059.3 483.0,1064.0 483.4,1066.9 483.8,1064.2 484.2,1060.8 484.6,1062.2 485.0,1063.4 485.4,1062.6 485.8,1063.8 486.2,1062.6 486.6,1063.6 487.0,1063.0 487.4,1064.8 487.8,1066.4 488.2,1064.1 488.6,1065.8 489.0,1068.0 489.4,1070.1 489.8,1069.4 490.2,1068.8 490.6,1068.5 491.0,1067.3 491.4,1063.7 491.8,1060.5 492.2,1060.0 492.6,1062.7 493.0,1065.0 493.4,1064.6 493.8,1064.9 494.2,1064.5 494.6,1062.6 495.0,1060.7 495.4,1059.4 495.8,1063.3 496.2,1067.4 496.6,1064.0 497.0,1062.6 497.4,1065.4 497.8,1068.2 498.2,1066.7 498.6,1064.7 499.0,1066.9 499.4,1064.0 499.8,1061.2 500.2,1063.6 500.6,1063.8 501.0,1066.9 501.4,1069.2 501.8,1066.6 502.2,1064.1 502.6,1064.9 503.0,1067.1 503.4,1065.3 503.8,1064.1 504.2,1063.0 504.6,1063.6 505.0,1066.9 505.4,1068.0 505.8,1067.2 506.2,1066.3 506.6,1064.2 507.0,1062.2 507.4,1064.6 507.8,1066.3 508.2,1063.9 508.6,1064.3 509.0,1066.5 509.4,1066.6 509.8,1065.3 510.2,1063.2 510.6,1063.2 511.0,1065.8 511.4,1065.2 511.8,1061.9 512.2,1062.3 512.6,1061.8 513.0,1062.0 513.4,1063.7 513.8,1065.0 514.2,1065.8 514.6,1066.1 515.0,1068.9 515.4,1067.1 515.8,1062.9 516.2,1063.7 516.6,1064.7 517.0,1064.3 517.4,1063.7 517.8,1064.4 518.2,1065.4 518.6,1061.6 519.0,1061.2 519.4,1064.6 519.8,1066.6 520.2,1065.5 520.6,1063.0 521.0,1065.7 521.4,1066.3 521.8,1065.2 522.2,1066.7 522.6,1067.6 523.0,1066.8 523.4,1064.0 523.8,1065.0 524.2,1065.6 524.6,1063.0 525.0,1065.9 525.4,1067.5 525.8,1063.0 526.2,1060.9 526.6,1061.9 527.0,1061.4 527.4,1059.1 527.8,1061.3 528.2,1065.2 528.6,1064.7 529.0,1063.5 529.4,1064.1 529.8,1066.0 530.2,1064.7 530.6,1063.5 531.0,1064.0 531.4,1065.1 531.8,1065.6 532.2,1062.3 532.6,1060.5 533.0,1064.5 533.4,1063.9 533.8,1061.8 534.2,1062.5 534.6,1064.3 535.0,1065.4 535.4,1063.6 535.8,1062.6 536.2,1063.3 536.6,1066.4 537.0,1067.8 537.4,1064.8 537.8,1065.7 538.2,1066.8 538.6,1062.8 539.0,1062.8 539.4,1063.0 539.8,1061.8 540.2,1061.8 540.6,1062.6 541.0,1063.0 541.4,1060.9 541.8,1062.5 542.2,1064.2 542.6,1065.2 543.0,1066.7 543.4,1066.0 543.8,1065.5 544.2,1066.5 544.6,1065.8 545.0,1062.6 545.4,1063.4 545.8,1061.6 546.2,1060.5 546.6,1063.7 547.0,1063.7 547.4,1065.4 547.8,1067.3 548.2,1066.0 548.6,1064.6 549.0,1065.9 549.4,1065.3 549.8,1063.0 550.2,1064.7 550.6,1065.9 551.0,1067.9 551.4,1067.2 551.8,1062.4 552.2,1064.1 552.6,1068.6 553.0,1067.7 553.4,1067.9 553.8,1070.2 554.2,1066.7 554.6,1063.2 555.0,1061.9 555.4,1062.9 555.8,1065.4 556.2,1065.3 556.6,1062.5 557.0,1060.6 557.4,1060.3 557.8,1059.2 558.2,1059.2 558.6,1059.1 559.0,1060.6 559.4,1063.2 559.8,1064.3 560.2,1063.8 560.6,1062.3 561.0,1062.5 561.4,1064.4 561.8,1064.2 562.2,1063.6 562.6,1063.6 563.0,1062.6 563.4,1062.8 563.8,1061.8 564.2,1062.9 564.6,1062.2 565.0,1061.4 565.4,1061.8 565.6,1059.6 565.7,1061.0 565.8,1062.5 565.8,1063.3 565.8,1064.0 565.9,1065.5 566.0,1067.0 566.1,1066.7 566.2,1066.4 566.2,1066.2 566.2,1066.0 566.3,1065.7 566.4,1065.4 566.5,1064.5 566.6,1063.6 566.6,1063.2 566.6,1062.8 566.7,1061.9 566.8,1061.0 566.9,1061.2 567.0,1061.3 567.0,1061.4 567.0,1061.4 567.1,1061.6 567.2,1061.7 567.3,1061.3 567.4,1060.9 567.4,1060.7 567.4,1060.5 567.5,1060.0 567.6,1059.6 567.7,1060.1 567.8,1060.5 567.8,1060.7 567.8,1060.9 567.9,1061.4 568.0,1061.8 568.1,1061.9 568.2,1062.0 568.2,1062.1 568.2,1062.2 568.3,1062.3 568.4,1062.4 568.5,1063.1 568.6,1063.8 568.6,1064.2 568.6,1064.2 568.6,1064.6 568.7,1064.9 568.7,1065.3 568.8,1065.6 568.8,1066.0 568.8,1065.1 568.9,1064.1 568.9,1063.2 569.0,1062.3 569.0,1061.4 569.0,1061.4 569.0,1060.4 569.1,1059.5 569.1,1058.6 569.2,1057.7 569.2,1056.8 569.2,1057.3 569.3,1057.9 569.3,1058.5 569.4,1059.0 569.4,1059.6 569.4,1059.6 569.4,1060.1 569.5,1060.7 569.5,1061.2 569.6,1061.8 569.6,1062.3 569.6,1061.8 569.7,1061.3 569.7,1060.8 569.8,1060.2 569.8,1059.7 569.8,1059.7 569.8,1059.2 569.9,1058.7 569.9,1058.2 570.0,1057.7 570.0,1057.2 570.0,1057.3 570.1,1057.4 570.1,1057.5 570.2,1057.6 570.2,1057.8 570.2,1057.8 570.2,1057.9 570.3,1058.0 570.3,1058.1 570.4,1058.2 570.4,1058.3 570.4,1058.4 570.5,1058.4 570.5,1058.5 570.6,1058.6 570.6,1058.6 570.6,1058.6 570.6,1058.7 570.7,1058.7 570.7,1058.8 570.8,1058.8 570.8,1058.8 570.8,1058.7 570.9,1058.5 570.9,1058.3 571.0,1058.1 571.0,1058.0 571.0,1058.0 571.0,1057.8 571.1,1057.6 571.1,1057.5 571.2,1057.3 571.2,1057.1 571.2,1057.0 571.3,1056.9 571.3,1056.8 571.4,1056.6 571.4,1056.5 571.4,1056.5 571.4,1056.4 571.5,1056.3 571.5,1056.1 571.6,1056.0 571.6,1055.9 571.6,1055.6 571.7,1055.4 571.7,1055.2 571.8,1055.0 571.8,1054.7 571.8,1054.7 571.8,1054.5 571.9,1054.3 571.9,1054.0 572.0,1053.8 572.0,1053.6 572.0,1053.5 572.1,1053.5 572.1,1053.4 572.2,1053.3 572.2,1053.3 572.2,1053.3 572.2,1053.2 572.3,1053.1 572.3,1053.1 572.4,1053.0 572.4,1052.9 572.4,1052.8 572.5,1052.7 572.5,1052.7 572.6,1052.6 572.6,1052.5 572.6,1052.5 572.6,1052.4 572.7,1052.3 572.7,1052.2 572.8,1052.1 572.8,1052.0 572.8,1052.0 572.9,1052.1 572.9,1052.2 573.0,1052.2 573.0,1052.3 573.0,1052.3 573.0,1052.3 573.1,1052.4 573.1,1052.4 573.2,1052.4 573.2,1052.5 573.2,1051.7 573.3,1051.0 573.3,1050.3 573.4,1049.5 573.4,1048.8 573.4,1048.8 573.4,1048.0 573.5,1047.3 573.5,1046.5 573.6,1045.8 573.6,1045.0 573.6,1045.0 573.7,1045.0 573.7,1044.9 573.8,1044.8 573.8,1044.8 573.8,1044.8 573.8,1044.7 573.9,1044.6 573.9,1044.5 574.0,1044.4 574.0,1044.3 574.0,1043.9 574.1,1043.4 574.1,1042.9 574.2,1042.4 574.2,1042.0 574.2,1042.0 574.2,1041.5 574.3,1041.0 574.3,1040.5 574.4,1040.0 574.4,1039.4 574.4,1039.1 574.5,1038.7 574.5,1038.3 574.6,1038.0 574.6,1037.6 574.6,1037.6 574.6,1037.1 574.7,1036.7 574.7,1036.2 574.8,1035.7 574.8,1035.2 574.8,1034.7 574.9,1034.2 574.9,1033.6 575.0,1033.0 575.0,1032.4 575.0,1032.4 575.0,1031.7 575.1,1031.1 575.1,1030.4 575.2,1029.7 575.2,1028.9 575.2,1028.4 575.3,1027.8 575.3,1027.2 575.4,1026.5 575.4,1025.8 575.4,1025.8 575.4,1025.0 575.5,1024.2 575.5,1023.3 575.6,1022.4 575.6,1021.4 575.6,1020.3 575.7,1019.1 575.7,1017.8 575.8,1016.5 575.8,1015.1 575.8,1015.1 575.8,1013.6 575.9,1012.1 575.9,1010.4 576.0,1008.7 576.0,1007.0 576.0,1005.0 576.1,1003.0 576.1,1000.9 576.2,998.7 576.2,996.6 576.2,996.6 576.2,994.3 576.3,991.9 576.3,989.5 576.4,986.9 576.4,984.2 576.4,981.4 576.5,978.5 576.5,975.4 576.6,972.3 576.6,969.0 576.6,969.0 576.6,965.6 576.7,962.0 576.7,958.3 576.8,954.5 576.8,950.5 576.8,946.5 576.9,942.3 576.9,938.0 577.0,933.5 577.0,928.9 577.0,928.9 577.0,924.1 577.1,919.1 577.1,914.0 577.2,908.6 577.2,903.1 577.2,897.4 577.3,891.4 577.3,885.3 577.4,879.0 577.4,872.5 577.4,872.5 577.4,865.7 577.5,858.8 577.5,851.7 577.6,844.4 577.6,836.9 577.6,829.2 577.7,821.3 577.7,813.3 577.8,805.0 577.8,796.5 577.8,796.5 577.8,787.8 577.9,778.8 577.9,769.7 578.0,760.4 578.0,750.8 578.0,741.1 578.1,731.1 578.1,720.9 578.2,710.6 578.2,700.0 578.2,700.0 578.2,689.2 578.3,678.3 578.3,667.1 578.4,655.8 578.4,644.4 578.4,632.7 578.5,620.8 578.5,608.8 578.6,596.7 578.6,584.4 578.6,584.4 578.6,571.9 578.7,559.4 578.7,546.7 578.8,534.0 578.8,521.1 578.8,508.2 578.9,495.2 578.9,482.2 579.0,469.1 579.0,455.9 579.0,455.9 579.0,442.8 579.1,429.6 579.1,416.5 579.2,403.4 579.2,390.3 579.2,377.2 579.3,364.2 579.3,351.3 579.4,338.5 579.4,325.8 579.4,325.8 579.4,313.2 579.5,300.8 579.5,288.6 579.6,276.6 579.6,264.8 579.6,253.2 579.7,241.9 579.7,230.8 579.8,220.1 579.8,209.7 579.8,209.7 579.8,199.6 579.9,189.8 579.9,180.5 580.0,171.5 580.0,163.0 580.0,155.0 580.1,147.4 580.1,140.3 580.2,133.7 580.2,127.6 580.2,127.6 580.2,122.1 580.3,117.1 580.3,112.6 580.4,108.7 580.4,105.4 580.4,102.8 580.5,100.7 580.5,99.2 580.6,98.4 580.6,98.1 580.6,98.1 580.6,98.5 580.7,99.5 580.7,101.1 580.8,103.2 580.8,106.0 580.8,109.4 580.9,113.3 580.9,117.8 581.0,122.8 581.0,128.4 581.0,128.4 581.0,134.5 581.1,141.1 581.1,148.2 581.2,155.8 581.2,163.9 581.2,172.4 581.3,181.3 581.3,190.7 581.4,200.4 581.4,210.5 581.4,210.5 581.4,220.9 581.5,231.6 581.5,242.6 581.6,253.9 581.6,265.5 581.6,277.2 581.7,289.2 581.7,301.4 581.8,313.7 581.8,326.2 581.8,326.2 581.8,338.8 581.9,351.6 581.9,364.4 582.0,377.4 582.0,390.4 582.0,403.5 582.1,416.7 582.1,429.8 582.2,443.0 582.2,456.2 582.2,456.2 582.2,469.4 582.3,482.5 582.3,495.6 582.4,508.6 582.4,521.5 582.4,534.4 582.5,547.1 582.5,559.8 582.6,572.4 582.6,584.8 582.6,584.8 582.6,597.1 582.7,609.2 582.7,621.2 582.8,633.1 582.8,644.8 582.8,656.3 582.9,667.7 582.9,678.9 583.0,689.9 583.0,700.7 583.0,700.7 583.0,711.3 583.1,721.7 583.1,732.0 583.2,742.0 583.2,751.8 583.2,761.4 583.3,770.8 583.3,779.9 583.4,788.8 583.4,797.6 583.4,797.6 583.4,806.1 583.5,814.4 583.5,822.5 583.6,830.4 583.6,838.1 583.6,845.6 583.7,852.8 583.7,859.9 583.8,866.8 583.8,873.4 583.8,873.4 583.8,879.9 583.9,886.2 583.9,892.2 584.0,898.1 584.0,903.8 584.0,909.5 584.1,914.9 584.1,920.1 584.2,925.2 584.2,930.1 584.2,930.1 584.2,934.9 584.3,939.5 584.3,943.9 584.4,948.1 584.4,952.3 584.4,956.1 584.5,959.9 584.5,963.5 584.6,967.0 584.6,970.3 584.6,970.3 584.6,973.5 584.7,976.6 584.7,979.6 584.8,982.4 584.8,985.2 584.8,987.8 584.9,990.4 584.9,992.8 585.0,995.2 585.0,997.4 585.0,997.4 585.0,999.6 585.1,1001.7 585.1,1003.7 585.2,1005.6 585.2,1007.4 585.2,1009.1 585.3,1010.7 585.3,1012.2 585.4,1013.6 585.4,1014.9 585.4,1014.9 585.4,1016.1 585.5,1017.3 585.5,1018.4 585.6,1019.5 585.6,1020.5 585.6,1021.7 585.7,1022.9 585.7,1024.0 585.8,1025.1 585.8,1026.2 585.8,1026.2 585.8,1027.3 585.9,1028.3 585.9,1029.3 586.0,1030.3 586.0,1031.2 586.0,1031.8 586.1,1032.3 586.1,1032.7 586.2,1033.1 586.2,1033.5 586.2,1033.5 586.2,1033.9 586.3,1034.2 586.3,1034.5 586.4,1034.7 586.4,1035.0 586.4,1035.4 586.5,1035.9 586.5,1036.3 586.6,1036.7 586.6,1037.0 586.6,1037.0 586.6,1037.4 586.7,1037.8 586.7,1038.1 586.8,1038.4 586.8,1038.7 586.8,1039.4 586.9,1040.0 586.9,1040.7 587.0,1041.3 587.0,1042.0 587.0,1042.0 587.0,1042.6 587.1,1043.2 587.1,1043.8 587.2,1044.5 587.2,1045.1 587.2,1045.3 587.3,1045.6 587.3,1045.8 587.4,1046.1 587.4,1046.3 587.4,1046.3 587.4,1046.5 587.5,1046.7 587.5,1046.9 587.6,1047.2 587.6,1047.4 587.6,1047.8 587.7,1048.2 587.7,1048.6 587.8,1049.0 587.8,1049.5 587.8,1049.5 587.8,1049.9 587.9,1050.3 587.9,1050.7 588.0,1051.2 588.0,1051.6 588.0,1052.0 588.1,1052.3 588.1,1052.7 588.2,1053.1 588.2,1053.5 588.2,1053.5 588.2,1053.9 588.3,1054.2 588.3,1054.6 588.4,1055.0 588.4,1055.4 588.4,1055.2 588.5,1055.1 588.5,1055.0 588.6,1054.9 588.6,1054.7 588.6,1054.7 588.6,1054.6 588.7,1054.5 588.7,1054.3 588.8,1054.2 588.8,1054.0 588.8,1054.6 588.9,1055.1 588.9,1055.6 589.0,1056.2 589.0,1056.7 589.0,1056.7 589.0,1057.3 589.1,1057.8 589.1,1058.4 589.2,1058.9 589.2,1059.4 589.2,1059.1 589.3,1058.7 589.3,1058.3 589.4,1057.9 589.4,1057.5 589.4,1057.5 589.4,1057.1 589.5,1056.7 589.5,1056.3 589.6,1055.9 589.6,1055.9 589.7,1056.8 589.8,1057.6 589.8,1057.6 589.9,1058.4 590.0,1059.2 590.0,1059.3 590.1,1058.6 590.2,1057.8 590.2,1057.8 590.3,1057.1 590.4,1056.4 590.4,1056.4 590.5,1057.2 590.6,1058.0 590.6,1058.0 590.7,1058.9 590.8,1059.7 590.8,1060.1 590.9,1060.0 591.0,1060.0 591.0,1060.0 591.1,1060.0 591.2,1060.0 591.2,1060.0 591.3,1060.3 591.4,1060.5 591.4,1060.5 591.5,1060.7 591.6,1060.9 591.6,1061.3 591.7,1061.8 591.8,1062.4 591.8,1062.4 591.9,1062.9 592.0,1063.5 592.0,1063.2 592.1,1062.1 592.2,1061.0 592.2,1061.0 592.3,1060.0 592.4,1058.9 592.4,1058.8 592.5,1059.9 592.6,1061.0 593.0,1062.4 593.4,1062.5 593.8,1064.2 594.2,1063.9 594.6,1063.4 595.0,1062.9 595.4,1064.3 595.8,1065.1 596.2,1065.2 596.6,1064.5 597.0,1065.8 597.4,1066.5 597.8,1066.5 598.2,1067.4 598.6,1066.9 599.0,1067.3 599.4,1067.4 599.8,1067.2 600.2,1067.6 600.6,1068.0 601.0,1066.9 601.4,1068.0 601.8,1066.1 602.2,1065.6 602.6,1066.5 603.0,1062.7 603.4,1063.0 603.8,1064.3 604.2,1065.3 604.6,1064.3 605.0,1061.3 605.4,1061.4 605.8,1058.1 606.2,1057.8 606.6,1058.5 607.0,1059.4 607.4,1062.8 607.8,1061.0 608.2,1056.8 608.6,1057.2 609.0,1059.5 609.4,1060.3 609.8,1059.6 610.2,1057.1 610.6,1057.3 611.0,1057.6 611.4,1060.2 611.8,1060.6 612.2,1057.5 612.6,1058.1 613.0,1057.1 613.4,1056.3 613.8,1057.4 614.2,1057.1 614.6,1056.8 615.0,1058.9 615.4,1059.8 615.8,1056.6 616.2,1055.6 616.6,1058.3 617.0,1057.9 617.4,1056.7 617.8,1057.1 618.2,1057.1 618.6,1056.5 619.0,1055.2 619.4,1054.1 619.8,1054.6 620.2,1054.5 620.6,1056.5 621.0,1057.9 621.4,1055.7 621.8,1056.7 622.2,1056.7 622.6,1055.4 623.0,1054.8 623.4,1053.1 623.8,1051.3 624.2,1050.4 624.6,1052.0 625.0,1051.2 625.4,1048.7 625.8,1048.4 626.2,1049.1 626.6,1051.6 627.0,1049.3 627.4,1047.2 627.8,1047.7 628.2,1045.8 628.6,1045.0 629.0,1042.3 629.4,1040.7 629.8,1039.9 630.2,1035.7 630.6,1034.1 631.0,1032.4 631.4,1028.6 631.8,1023.2 632.2,1018.4 632.6,1014.7 633.0,1010.3 633.4,1005.6 633.8,998.9 634.2,992.4 634.6,986.0 635.0,979.0 635.4,971.5 635.8,963.3 636.2,955.0 636.6,946.5 637.0,937.7 637.4,928.9 637.8,920.0 638.2,911.2 638.6,902.3 639.0,894.1 639.4,886.4 639.8,878.7 640.2,871.6 640.6,865.2 641.0,860.3 641.4,856.7 641.8,854.5 642.2,853.3 642.6,852.9 643.0,854.2 643.4,857.1 643.8,860.8 644.2,865.7 644.6,871.7 645.0,878.2 645.4,885.4 645.8,893.5 646.2,902.1 646.6,910.6 647.0,919.0 647.4,928.1 647.8,936.7 648.2,945.6 648.6,954.2 649.0,962.3 649.4,970.4 649.8,977.5 650.2,984.1 650.6,991.2 651.0,997.6 651.4,1002.8 651.8,1008.2 652.2,1013.6 652.6,1018.8 653.0,1022.4 653.4,1025.0 653.8,1028.0 654.2,1031.2 654.6,1034.8 655.0,1036.8 655.4,1039.2 655.8,1040.0 656.2,1040.3 656.6,1044.3 657.0,1046.4 657.4,1046.0 657.8,1044.6 658.2,1044.3 658.6,1045.7 659.0,1047.4 659.4,1047.7 659.8,1046.2 660.2,1046.0 660.6,1048.5 661.0,1050.5 661.4,1048.5 661.8,1047.3 662.2,1047.1 662.6,1047.0 663.0,1051.7 663.4,1052.8 663.8,1050.5 664.2,1050.3 664.6,1049.8 665.0,1048.5 665.4,1049.8 665.8,1051.4 666.2,1052.9 666.6,1051.1 667.0,1049.8 667.4,1053.4 667.8,1050.8 668.2,1050.3 668.6,1050.8 669.0,1050.8 669.4,1054.3 669.8,1053.4 670.2,1051.8 670.6,1050.7 671.0,1050.3 671.4,1052.1 671.8,1051.2 672.2,1049.4 672.6,1049.6 673.0,1050.4 673.4,1047.7 673.8,1046.5 674.2,1047.1 674.6,1047.0 675.0,1048.4 675.4,1047.7 675.8,1047.7 676.2,1046.2 676.6,1044.3 677.0,1044.5 677.4,1045.1 677.8,1046.3 678.2,1045.6 678.6,1043.8 679.0,1043.2 679.4,1043.2 679.8,1043.1 680.2,1042.4 680.6,1042.4 681.0,1042.5 681.4,1039.1 681.8,1038.3 682.2,1038.2 682.6,1038.6 683.0,1040.2 683.4,1038.2 683.8,1036.2 684.2,1033.8 684.6,1030.5 685.0,1030.3 685.4,1031.1 685.8,1029.6 686.2,1029.2 686.6,1029.7 687.0,1029.1 687.4,1028.7 687.8,1027.2 688.2,1024.2 688.6,1021.8 689.0,1020.3 689.4,1017.4 689.8,1015.3 690.2,1013.6 690.6,1010.1 691.0,1006.5 691.4,1004.1 691.8,1001.0 692.2,997.0 692.6,993.1 693.0,988.9 693.4,984.0 693.8,978.9 694.0,976.2 694.1,975.0 694.2,973.8 694.2,973.2 694.2,972.5 694.3,971.3 694.4,970.0 694.5,968.8 694.6,967.6 694.6,967.0 694.6,966.4 694.7,965.2 694.8,964.0 694.9,962.5 695.0,961.0 695.0,960.2 695.0,959.4 695.1,957.8 695.2,956.2 695.3,954.8 695.4,953.4 695.4,952.6 695.4,951.9 695.5,950.4 695.6,948.8 695.7,947.1 695.8,945.4 695.8,944.5 695.8,943.6 695.9,941.8 696.0,940.0 696.1,938.0 696.2,935.9 696.2,934.9 696.2,933.8 696.3,931.7 696.4,929.5 696.5,927.5 696.6,925.5 696.6,924.5 696.6,923.5 696.7,921.4 696.8,919.2 696.9,916.6 697.0,914.0 697.0,912.7 697.0,911.3 697.1,908.6 697.2,905.7 697.3,903.1 697.4,900.4 697.4,899.1 697.4,897.7 697.5,894.9 697.6,892.0 697.7,888.8 697.8,885.5 697.8,883.9 697.8,882.2 697.9,878.7 698.0,875.2 698.1,871.7 698.2,868.1 698.2,866.2 698.2,864.4 698.3,860.5 698.4,856.6 698.5,852.5 698.6,848.2 698.6,846.0 698.6,843.8 698.7,839.3 698.8,834.6 698.9,830.1 699.0,825.3 699.0,822.9 699.0,820.4 699.1,815.4 699.2,810.2 699.3,804.6 699.4,798.8 699.4,795.8 699.4,792.8 699.5,786.6 699.6,780.2 699.7,773.8 699.8,767.0 699.8,763.6 699.8,760.1 699.9,752.9 700.0,745.5 700.1,737.6 700.2,729.5 700.2,725.4 700.2,721.1 700.3,712.4 700.4,703.4 700.5,694.1 700.6,684.4 700.6,679.4 700.6,674.4 700.7,663.9 700.8,653.0 700.9,641.7 701.0,629.9 701.0,623.9 701.0,617.7 701.1,604.9 701.2,591.6 701.3,577.7 701.4,563.2 701.4,555.7 701.4,548.1 701.5,532.3 701.6,515.8 701.7,498.6 701.8,480.6 701.8,471.3 701.8,461.7 701.9,442.0 702.0,421.3 702.1,399.5 702.2,376.6 702.2,364.7 702.2,352.6 702.3,327.3 702.4,300.8 702.5,272.8 702.6,243.4 702.6,228.1 702.6,212.3 702.7,179.6 702.8,145.0 702.9,108.5 703.0,69.8 703.0,49.7 703.0,28.9 703.1,-14.4 703.2,-50.0 703.3,-50.0 703.4,-50.0 703.4,-50.0 703.4,-50.0 703.5,-50.0 703.6,-50.0 703.7,-50.0 703.8,-50.0 703.8,-50.0 703.8,-50.0 703.9,-50.0 704.0,-50.0 704.1,-50.0 704.2,-50.0 704.2,-50.0 704.2,-50.0 704.3,-50.0 704.4,-50.0 704.5,-50.0 704.6,-50.0 704.6,-50.0 704.6,-50.0 704.7,-50.0 704.8,-50.0 704.9,-50.0 705.0,-50.0 705.0,-50.0 705.0,-50.0 705.1,-50.0 705.2,-50.0 705.3,-50.0 705.4,-50.0 705.4,-50.0 705.4,-50.0 705.5,-50.0 705.6,-50.0 705.7,-50.0 705.8,-50.0 705.8,-50.0 705.8,-50.0 705.9,-50.0 706.0,-50.0 706.1,-50.0 706.2,-50.0 706.2,-50.0 706.2,-50.0 706.3,-50.0 706.4,-50.0 706.5,-50.0 706.6,-50.0 706.6,-50.0 706.6,-50.0 706.7,-50.0 706.8,-50.0 706.9,-50.0 707.0,-50.0 707.0,-50.0 707.0,-50.0 707.1,-50.0 707.2,-50.0 707.3,-50.0 707.4,-50.0 707.4,-50.0 707.4,-50.0 707.5,-50.0 707.6,-50.0 707.7,-50.0 707.8,-50.0 707.8,-50.0 707.8,-50.0 707.9,-50.0 708.0,-50.0 708.1,-50.0 708.2,-50.0 708.2,-50.0 708.2,-50.0 708.3,-50.0 708.4,-50.0 708.5,-50.0 708.6,-50.0 708.6,-50.0 708.6,-50.0 708.7,-50.0 708.8,-50.0 708.9,-50.0 709.0,-50.0 709.0,-50.0 709.0,-50.0 709.1,-50.0 709.2,-50.0 709.3,-50.0 709.4,-50.0 709.4,-50.0 709.4,-50.0 709.5,-50.0 709.6,-50.0 709.7,-13.6 709.8,29.7 709.8,50.5 709.8,70.7 709.9,109.4 710.0,146.0 710.1,180.6 710.2,213.2 710.2,228.9 710.2,244.2 710.3,273.6 710.4,301.5 710.5,328.0 710.6,353.2 710.6,365.3 710.6,377.1 710.7,399.9 710.8,421.7 710.9,442.4 711.0,462.2 711.0,471.8 711.0,481.2 711.1,499.2 711.2,516.5 711.3,532.9 711.4,548.7 711.4,556.3 711.4,563.7 711.5,578.1 711.6,592.0 711.7,605.3 711.8,618.1 711.8,624.3 711.8,630.4 711.9,642.2 712.0,653.5 712.1,664.3 712.2,674.7 712.2,679.7 712.2,684.6 712.3,694.2 712.4,703.4 712.5,712.4 712.6,721.1 712.6,725.3 712.6,729.4 712.7,737.4 712.8,745.2 712.9,752.7 713.0,759.9 713.0,763.5 713.0,767.0 713.1,773.7 713.2,780.3 713.3,786.7 713.4,792.9 713.4,796.0 713.4,799.0 713.5,804.8 713.6,810.5 713.7,815.9 713.8,821.1 713.8,823.6 713.8,826.1 713.9,831.0 714.0,835.8 714.1,840.3 714.2,844.6 714.2,846.7 714.2,848.8 714.3,852.9 714.4,856.9 714.5,861.0 714.6,865.0 714.6,866.9 714.6,868.8 714.7,872.6 714.8,876.2 714.9,879.6 715.0,882.9 715.0,884.5 715.0,886.1 715.1,889.2 715.2,892.2 715.3,895.3 715.4,898.3 715.4,899.8 715.4,901.3 715.5,904.1 715.6,906.9 715.7,909.5 715.8,912.0 715.8,913.3 715.8,914.5 715.9,916.9 716.0,919.2 716.1,921.6 716.2,924.0 716.2,925.1 716.2,926.3 716.3,928.5 716.4,930.7 716.5,932.8 716.6,934.8 716.6,935.7 716.6,936.7 716.7,938.6 716.8,940.4 716.9,942.3 717.0,944.1 717.0,945.0 717.0,945.8 717.1,947.6 717.2,949.3 717.3,951.0 717.4,952.6 717.4,953.4 717.4,954.2 717.5,955.8 717.6,957.3 717.7,958.9 717.8,960.3 717.8,961.1 717.8,961.8 717.9,963.2 718.2,967.9 718.6,973.8 719.0,979.8 719.4,985.1 719.8,989.3 720.2,993.3 720.6,996.9 721.0,1000.7 721.4,1005.0 721.8,1007.8 722.2,1010.0 722.6,1012.5 723.0,1015.7 723.4,1019.2 723.8,1021.0 724.2,1023.5 724.6,1026.2 725.0,1027.7 725.4,1027.6 725.8,1027.3 726.2,1028.3 726.6,1029.4 727.0,1033.2 727.4,1036.1 727.8,1036.1 728.2,1037.8 728.6,1040.5 729.0,1040.8 729.4,1040.8 729.8,1042.4 730.2,1041.8 730.6,1040.3 731.0,1042.0 731.4,1043.8 731.8,1043.1 732.2,1044.8 732.6,1046.2 733.0,1048.1 733.4,1048.3 733.8,1048.2 734.2,1050.2 734.6,1050.7 735.0,1051.5 735.4,1051.5 735.8,1052.1 736.2,1051.6 736.6,1048.7 737.0,1049.6 737.4,1052.8 737.8,1052.5 738.2,1050.9 738.6,1051.7 739.0,1053.2 739.4,1054.1 739.8,1054.8 740.2,1053.5 740.6,1055.2 741.0,1058.0 741.4,1055.3 741.8,1056.3 742.2,1057.9 742.6,1058.1 743.0,1056.4 743.4,1056.8 743.8,1058.6 744.2,1054.3 744.6,1055.2 745.0,1057.4 745.4,1055.2 745.8,1055.3 746.2,1054.2 746.6,1055.1 747.0,1057.2 747.4,1056.0 747.8,1058.1 748.2,1058.6 748.6,1056.2 749.0,1055.3 749.4,1056.4 749.8,1059.3 750.2,1059.0 750.6,1056.7 751.0,1058.9 751.4,1060.5 751.8,1059.6 752.2,1062.3 752.6,1060.8 753.0,1058.3 753.4,1057.3 753.8,1056.3 754.2,1059.1 754.6,1060.8 755.0,1058.6 755.4,1058.6 755.8,1061.8 756.2,1061.2 756.6,1063.4 757.0,1064.1 757.4,1060.5 757.8,1061.1 758.2,1059.8 758.6,1061.3 759.0,1065.0 759.4,1062.5 759.8,1062.2 760.2,1063.5 760.6,1065.2 761.0,1063.6 761.4,1059.3 761.8,1057.3 762.2,1058.5 762.6,1059.1 763.0,1059.2 763.4,1061.8 763.8,1061.4 764.2,1059.6 764.6,1061.9 765.0,1063.0 765.4,1062.0 765.8,1063.8 766.2,1062.1 766.6,1059.9 767.0,1064.6 767.4,1065.8 767.8,1061.8 768.2,1061.8 768.6,1062.5 769.0,1061.4 769.4,1061.7 769.8,1063.4 770.2,1063.9 770.6,1064.3 771.0,1061.7 771.4,1058.8 771.8,1062.1 772.2,1063.6 772.6,1064.4 773.0,1065.7 773.4,1062.4 773.8,1062.9 774.2,1063.3 774.6,1062.9 775.0,1065.8 775.4,1068.3 775.8,1066.6 776.2,1064.9 776.6,1065.6 777.0,1065.8 777.4,1062.6 777.8,1061.0 778.2,1064.3 778.6,1065.4 779.0,1063.9 779.4,1064.4 779.8,1066.8 780.2,1065.7 780.6,1063.8 781.0,1063.1 781.4,1063.4 781.8,1065.4 782.2,1067.2 782.6,1065.0 783.0,1061.7 783.4,1061.3 783.8,1063.8 784.2,1065.1 784.6,1064.0 785.0,1064.3 785.4,1064.3 785.8,1063.6 786.2,1061.8 786.6,1061.3 787.0,1063.0 787.4,1064.5 787.8,1063.8 788.2,1062.6 788.6,1064.8 789.0,1064.6 789.4,1062.9 789.8,1063.2 790.2,1061.8 790.6,1060.4 791.0,1061.3 791.4,1062.7 791.8,1065.1 792.2,1065.1 792.6,1063.7 793.0,1066.2 793.4,1066.4 793.8,1065.9 794.2,1066.8 794.6,1063.8 795.0,1062.1 795.4,1063.1 795.8,1065.6 796.2,1066.8 796.6,1065.7 797.0,1068.0 797.4,1066.7 797.8,1064.2 798.2,1064.8 798.6,1063.9 799.0,1064.5 799.4,1065.5 799.8,1064.9 800.2,1063.6 800.6,1061.9 801.0,1061.5 801.4,1061.7 801.8,1060.1 802.2,1061.1 802.6,1064.5 803.0,1064.0 803.4,1062.4 803.8,1062.6 804.2,1063.9 804.6,1064.7 805.0,1067.2 805.4,1065.7 805.8,1063.9 806.2,1065.9 806.6,1065.5 807.0,1064.2 807.4,1062.6 807.8,1062.1 808.2,1064.4 808.6,1067.1 809.0,1065.3 809.4,1064.1 809.8,1065.8 810.2,1066.6 810.6,1066.2 811.0,1065.3 811.4,1066.2 811.8,1064.0 812.2,1063.0 812.6,1062.5 813.0,1060.1 813.4,1061.8 813.8,1062.7 814.2,1064.7 814.6,1068.2 815.0,1066.8 815.4,1065.1 815.8,1065.0 816.2,1064.8 816.6,1065.2 817.0,1066.0 817.4,1065.2 817.8,1063.7 818.2,1063.7 818.6,1066.0 819.0,1066.2 819.4,1067.0 819.8,1067.1 820.2,1066.8 820.6,1065.2 821.0,1062.2 821.4,1064.2 821.8,1065.6 822.2,1064.7 822.6,1066.9 823.0,1067.4 823.4,1065.2 823.8,1064.4 824.2,1066.2 824.6,1068.2 825.0,1066.8 825.4,1063.7 825.8,1064.0 826.2,1065.9 826.6,1066.2 827.0,1068.1 827.4,1066.4 827.8,1065.3 828.2,1067.3 828.6,1067.1 829.0,1065.3 829.4,1063.6 829.8,1063.0 830.2,1062.6 830.6,1064.7 831.0,1066.5 831.4,1063.4 831.8,1063.3 832.2,1063.4 832.6,1060.6 833.0,1064.3 833.4,1069.1 833.8,1065.9 834.2,1063.7 834.6,1066.3 835.0,1067.0 835.4,1065.8 835.8,1065.7 836.2,1066.7 836.6,1066.7 837.0,1067.2 837.4,1067.5 837.8,1065.8 838.2,1065.7 838.6,1064.0 839.0,1065.2 839.4,1064.6 839.8,1061.9 840.2,1064.5 840.6,1065.0 841.0,1065.0 841.4,1066.5 841.8,1065.0 842.2,1063.6 842.6,1065.6 843.0,1065.3 843.4,1064.4 843.8,1066.7 844.2,1066.3 844.6,1063.8 845.0,1064.2 845.4,1064.4 845.8,1064.9 846.2,1065.1 846.6,1065.6 847.0,1066.3 847.4,1066.5 847.8,1068.2 848.2,1066.4 848.6,1066.5 849.0,1066.7 849.4,1064.9 849.8,1065.4 850.2,1064.0 850.6,1061.2 851.0,1064.1 851.4,1066.2 851.8,1063.6 852.2,1066.7 852.6,1068.4 853.0,1070.1 853.4,1072.5 853.8,1071.0 854.2,1068.8 854.6,1068.3 855.0,1065.5 855.4,1064.0 855.8,1065.2 856.2,1063.7 856.6,1063.4 857.0,1061.9 857.4,1062.7 857.8,1066.4 858.2,1063.6 858.6,1062.2 859.0,1066.0 859.4,1066.5 859.8,1063.1 860.2,1061.3 860.6,1063.9 861.0,1067.7 861.4,1065.2 861.8,1063.0 862.2,1063.6 862.6,1063.4 863.0,1065.0 863.4,1065.2 863.8,1063.7 864.2,1066.1 864.6,1066.5 865.0,1063.2 865.4,1064.9 865.8,1065.2 866.2,1063.6 866.6,1065.0 867.0,1064.1 867.4,1064.0 867.8,1066.9 868.2,1066.8 868.6,1065.3 869.0,1064.3 869.4,1062.0 869.8,1061.6 870.2,1064.0 870.6,1065.1 871.0,1064.8 871.4,1063.5 871.8,1062.7 872.2,1063.7 872.6,1065.4 873.0,1067.3 873.4,1067.1 873.8,1064.5 874.2,1063.9 874.6,1063.4 875.0,1062.9 875.4,1060.5 875.8,1058.7 876.2,1060.0 876.6,1062.8 877.0,1064.3 877.4,1064.0 877.8,1065.8 878.2,1064.5 878.6,1064.8 879.0,1067.0 879.4,1064.8 879.8,1066.6 880.2,1065.8 880.6,1062.3 881.0,1063.6 881.4,1065.1 881.8,1064.6 882.2,1060.7 882.6,1060.1 883.0,1062.4 883.4,1065.5 883.8,1067.2 884.2,1064.3 884.6,1060.9 885.0,1060.9 885.4,1060.5 885.8,1060.0 886.2,1061.8 886.6,1060.9 887.0,1060.9 887.4,1061.3 887.8,1060.5 888.2,1063.4 888.6,1065.3 889.0,1063.2 889.4,1061.6 889.8,1062.3 890.2,1064.0 890.6,1064.9 891.0,1066.1 891.4,1065.6 891.8,1062.1 892.2,1064.2 892.6,1067.2 893.0,1065.6 893.4,1066.0 893.8,1063.0 894.2,1060.7 894.6,1062.1 895.0,1064.3 895.4,1063.5 895.8,1061.5 896.2,1065.0 896.6,1066.2 897.0,1063.7 897.4,1065.3 897.8,1064.1 898.2,1062.2 898.6,1063.7 899.0,1063.7 899.4,1063.4 899.8,1061.4 900.2,1061.7 900.6,1060.7 901.0,1061.0 901.4,1062.3 901.8,1063.0 902.2,1063.1 902.6,1061.4 903.0,1062.9 903.4,1065.9 903.8,1063.0 904.2,1061.9 904.6,1065.9 905.0,1064.1 905.4,1062.0 905.8,1064.4 906.2,1063.6 906.6,1061.0 907.0,1063.3 907.4,1062.1 907.8,1058.1 908.2,1056.0 908.6,1055.7 909.0,1057.1 909.4,1061.0 909.8,1064.2 910.2,1060.1 910.6,1060.9 911.0,1063.4 911.4,1060.4 911.8,1060.5 912.2,1061.4 912.6,1059.6 913.0,1057.1 913.4,1057.2 913.8,1059.8 914.2,1060.8 914.6,1059.9 915.0,1061.7 915.4,1061.3 915.8,1061.4 916.2,1062.5 916.6,1061.7 917.0,1061.1 917.4,1061.0 917.8,1061.4 918.2,1058.9 918.6,1059.8 919.0,1061.8 919.4,1062.8 919.8,1062.9 920.2,1060.2 920.6,1058.4 921.0,1056.2 921.4,1054.9 921.8,1059.2 922.2,1062.5 922.6,1061.9 923.0,1060.8 923.4,1061.1 923.8,1061.9 924.2,1059.5 924.6,1058.2 925.0,1062.6 925.4,1065.6 925.8,1064.3 926.2,1062.2 926.6,1060.9 927.0,1059.9 927.4,1058.4 927.8,1055.9 928.2,1057.1 928.6,1059.2 929.0,1059.6 929.4,1063.3 929.8,1065.2 930.2,1062.5 930.6,1062.7 931.0,1061.7 931.4,1061.9 931.8,1063.8 932.2,1061.4 932.6,1061.3 933.0,1063.1 933.4,1061.5 933.8,1058.4 934.2,1062.0 934.6,1063.8 935.0,1063.6 935.4,1063.2 935.8,1062.3 936.2,1062.5 936.6,1062.9 937.0,1063.2 937.4,1061.3 937.8,1063.7 938.2,1065.0 938.6,1060.3 939.0,1059.5 939.4,1060.9 939.8,1059.3 940.2,1059.3 940.6,1059.7 941.0,1060.1 941.4,1059.4 941.8,1056.8 942.2,1057.3 942.6,1061.2 943.0,1060.4 943.4,1060.3 943.8,1062.9 944.2,1061.5 944.6,1061.0 945.0,1060.2 945.4,1058.8 945.8,1058.1 946.2,1059.1 946.6,1062.2 947.0,1060.8 947.4,1060.6 947.8,1058.7 948.2,1055.8 948.6,1057.2 949.0,1060.6 949.4,1061.1 949.8,1059.9 950.2,1058.1 950.6,1057.6 951.0,1061.5 951.4,1061.6 951.8,1057.9 952.2,1058.0 952.6,1061.7 953.0,1062.8 953.4,1061.9 953.8,1057.6 954.2,1056.8 954.6,1060.3 955.0,1059.7 955.4,1059.5 955.8,1060.3 956.2,1060.0 956.6,1061.9 957.0,1061.0 957.4,1063.0 957.8,1064.1 958.2,1061.5 958.6,1060.4 959.0,1060.0 959.4,1060.7 959.8,1058.6 960.2,1056.8 960.6,1059.1 961.0,1061.1 961.4,1057.8 961.8,1055.0 962.2,1057.4 962.6,1059.9 963.0,1060.7 963.4,1058.8 963.8,1058.3 964.2,1059.3 964.6,1057.6 965.0,1058.1 965.4,1060.5 965.8,1062.0 966.2,1062.2 966.6,1060.7 967.0,1059.1 967.4,1058.0 967.8,1057.2 968.2,1057.7 968.6,1057.5 969.0,1058.8 969.4,1060.0 969.8,1060.4 970.2,1060.4 970.6,1061.3 971.0,1061.3 971.4,1060.8 971.8,1060.8 972.2,1059.7 972.6,1058.3 973.0,1055.1 973.4,1053.2 973.8,1057.6 974.2,1060.3 974.6,1058.9 975.0,1058.8 975.4,1058.3 975.8,1061.9 976.2,1061.2 976.6,1058.3 977.0,1059.8 977.4,1058.3 977.8,1056.6 978.2,1057.1 978.6,1058.4 979.0,1058.8 979.4,1060.7 979.8,1060.2 980.2,1060.0 980.6,1063.6 981.0,1064.2 981.4,1060.5 981.8,1056.2 982.2,1058.8 982.6,1062.4 983.0,1060.4 983.4,1061.4 983.8,1061.6 984.2,1059.9 984.6,1058.7 985.0,1058.6 985.4,1059.1 985.8,1057.7 986.2,1059.5 986.6,1060.3 987.0,1056.8 987.4,1057.3 987.8,1060.3 988.2,1058.1 988.6,1056.3 989.0,1057.4 989.4,1057.5 989.8,1057.7 990.2,1059.0 990.6,1058.2 991.0,1060.1 991.4,1059.7 991.8,1056.0 992.2,1059.4 992.6,1063.0 993.0,1060.3 993.4,1057.1 993.8,1055.7 994.2,1057.6 994.6,1059.4 995.0,1056.9 995.4,1057.3 995.8,1060.4 996.2,1061.2 996.6,1062.7 997.0,1063.9 997.4,1062.2 997.8,1061.0 998.2,1061.5 998.6,1063.2 999.0,1063.4 999.4,1062.9 999.8,1061.8 1000.2,1061.2 1000.6,1062.5 1001.0,1061.4 1001.4,1058.1 1001.8,1060.7 1002.2,1063.1 1002.6,1060.0 1003.0,1059.3 1003.4,1059.3 1003.8,1056.6 1004.2,1056.5 1004.6,1056.9 1005.0,1057.4 1005.4,1059.2 1005.8,1060.4 1006.2,1060.4 1006.6,1059.4 1007.0,1059.4 1007.4,1058.5 1007.8,1057.3 1008.2,1059.3 1008.6,1061.3 1009.0,1059.1 1009.4,1058.8 1009.8,1058.7 1010.2,1057.0 1010.6,1057.4 1011.0,1059.6 1011.4,1058.6 1011.8,1054.9 1012.2,1054.3 1012.6,1058.7 1013.0,1058.7 1013.4,1058.2 1013.8,1059.3 1014.2,1059.1 1014.6,1059.5 1015.0,1056.7 1015.4,1056.3 1015.8,1061.1 1016.2,1061.2 1016.6,1058.7 1017.0,1058.2 1017.4,1057.1 1017.8,1057.9 1018.2,1058.7 1018.6,1061.3 1019.0,1060.9 1019.4,1057.9 1019.8,1057.3 1020.2,1056.0 1020.6,1054.9 1021.0,1057.6 1021.4,1057.4 1021.8,1058.5 1022.2,1062.2 1022.6,1059.9 1023.0,1057.0 1023.4,1057.3 1023.8,1058.6 1024.2,1059.8 1024.6,1058.6 1025.0,1056.5 1025.4,1057.4 1025.8,1057.6 1026.2,1057.0 1026.6,1055.1 1027.0,1053.8 1027.4,1055.0 1027.8,1056.7 1028.2,1058.7 1028.6,1061.7 1029.0,1062.5 1029.4,1060.0 1029.8,1060.0 1030.2,1059.0 1030.6,1055.5 1031.0,1058.4 1031.4,1057.6 1031.8,1054.2 1032.2,1055.5 1032.6,1058.3 1033.0,1058.2 1033.4,1057.5 1033.8,1057.8 1034.2,1055.0 1034.6,1055.5 1035.0,1057.0 1035.4,1054.8 1035.8,1053.1 1036.2,1053.4 1036.6,1055.8 1037.0,1057.6 1037.4,1056.7 1037.8,1056.8 1038.2,1056.0 1038.6,1056.0 1039.0,1055.8 1039.4,1053.2 1039.8,1052.9 1040.2,1054.8 1040.6,1055.8 1041.0,1057.0 1041.4,1054.7 1041.8,1053.1 1042.2,1056.1 1042.6,1055.3 1043.0,1055.3 1043.4,1056.1 1043.8,1054.3 1044.2,1056.2 1044.6,1055.7 1045.0,1055.5 1045.4,1056.7 1045.8,1054.1 1046.2,1053.4 1046.6,1053.7 1047.0,1053.8 1047.4,1055.1 1047.8,1053.8 1048.2,1055.1 1048.6,1058.7 1049.0,1059.0 1049.4,1056.8 1049.8,1052.4 1050.2,1053.2 1050.6,1056.3 1051.0,1057.8 1051.4,1057.5 1051.8,1057.1 1052.2,1057.9 1052.6,1055.6 1053.0,1057.4 1053.4,1057.4 1053.8,1054.7 1054.2,1057.0 1054.6,1055.1 1055.0,1053.1 1055.4,1055.8 1055.8,1054.9 1056.2,1053.8 1056.6,1054.3 1057.0,1053.2 1057.4,1054.1 1057.8,1054.0 1058.2,1053.4 1058.6,1055.5 1059.0,1056.6 1059.4,1056.5 1059.8,1054.7 1060.2,1054.2 1060.6,1057.3 1061.0,1058.4 1061.4,1057.3 1061.8,1055.6 1062.2,1054.3 1062.6,1055.4 1063.0,1057.8 1063.4,1056.8 1063.8,1056.1 1064.2,1055.2 1064.6,1054.7 1065.0,1053.6 1065.4,1052.3 1065.8,1052.5 1066.2,1053.4 1066.6,1055.9 1067.0,1054.2 1067.4,1052.7 1067.8,1053.4 1068.0,1053.7 1068.1,1053.1 1068.2,1052.6 1068.2,1052.3 1068.2,1052.0 1068.3,1051.4 1068.4,1050.9 1068.5,1051.1 1068.6,1051.3 1068.6,1051.5 1068.6,1051.6 1068.7,1051.8 1068.8,1052.0 1068.9,1052.0 1069.0,1052.0 1069.0,1052.0 1069.0,1052.0 1069.1,1051.9 1069.2,1051.9 1069.3,1052.6 1069.4,1053.4 1069.4,1053.8 1069.4,1054.2 1069.5,1054.9 1069.6,1055.7 1069.7,1055.9 1069.8,1056.1 1069.8,1056.2 1069.8,1056.3 1069.9,1056.5 1070.0,1056.7 1070.1,1055.7 1070.2,1054.7 1070.2,1054.2 1070.2,1053.7 1070.3,1052.6 1070.4,1051.6 1070.5,1051.6 1070.6,1051.6 1070.6,1051.5 1070.6,1051.5 1070.7,1051.5 1070.8,1051.5 1070.9,1051.6 1071.0,1051.7 1071.0,1051.8 1071.0,1051.9 1071.1,1052.0 1071.2,1052.1 1071.3,1051.6 1071.4,1051.2 1071.4,1050.9 1071.4,1050.7 1071.5,1050.2 1071.6,1049.7 1071.7,1049.7 1071.8,1049.7 1071.8,1049.7 1071.8,1049.7 1071.9,1049.7 1072.0,1049.7 1072.1,1050.1 1072.2,1050.5 1072.2,1050.7 1072.2,1050.9 1072.3,1051.2 1072.4,1051.6 1072.5,1051.2 1072.6,1050.7 1072.6,1050.5 1072.6,1050.3 1072.7,1049.9 1072.8,1049.5 1072.9,1049.2 1073.0,1048.9 1073.0,1048.7 1073.0,1048.6 1073.1,1048.3 1073.2,1048.0 1073.3,1047.7 1073.4,1047.4 1073.4,1047.2 1073.4,1047.1 1073.5,1046.7 1073.6,1046.4 1073.7,1047.3 1073.8,1048.2 1073.8,1048.6 1073.8,1049.1 1073.9,1050.0 1074.0,1050.9 1074.1,1049.8 1074.2,1048.8 1074.2,1048.2 1074.2,1047.7 1074.3,1046.6 1074.4,1045.6 1074.5,1045.9 1074.6,1046.2 1074.6,1046.4 1074.6,1046.5 1074.7,1046.8 1074.8,1047.1 1074.9,1046.6 1075.0,1046.0 1075.0,1045.7 1075.0,1045.4 1075.1,1044.9 1075.2,1044.3 1075.3,1044.5 1075.4,1044.7 1075.4,1044.8 1075.4,1044.9 1075.5,1045.1 1075.6,1045.3 1075.7,1045.6 1075.8,1045.9 1075.8,1046.1 1075.8,1046.2 1075.9,1046.6 1076.0,1046.9 1076.1,1046.6 1076.2,1046.4 1076.2,1046.2 1076.2,1046.1 1076.3,1045.8 1076.4,1045.5 1076.5,1045.9 1076.6,1046.3 1076.6,1046.4 1076.6,1046.6 1076.7,1047.0 1076.8,1047.3 1076.9,1047.0 1077.0,1046.7 1077.0,1046.5 1077.0,1046.4 1077.1,1046.1 1077.2,1045.7 1077.3,1045.0 1077.4,1044.2 1077.4,1043.8 1077.4,1043.4 1077.5,1042.6 1077.6,1041.8 1077.7,1041.3 1077.8,1040.7 1077.8,1040.5 1077.8,1040.2 1077.9,1039.6 1078.0,1039.1 1078.1,1040.3 1078.2,1041.4 1078.2,1042.0 1078.2,1042.6 1078.3,1043.7 1078.4,1044.8 1078.5,1043.9 1078.6,1042.9 1078.6,1042.4 1078.6,1042.0 1078.7,1041.0 1078.8,1040.0 1078.9,1040.6 1079.0,1041.1 1079.0,1041.4 1079.0,1041.7 1079.1,1042.2 1079.2,1042.7 1079.3,1041.8 1079.3,1041.5 1079.4,1040.8 1079.4,1040.6 1079.4,1040.4 1079.4,1039.9 1079.5,1039.7 1079.5,1039.0 1079.5,1038.7 1079.6,1038.0 1079.6,1037.9 1079.7,1037.4 1079.7,1037.2 1079.8,1036.7 1079.8,1036.5 1079.8,1036.4 1079.8,1036.1 1079.9,1035.9 1079.9,1035.4 1079.9,1035.3 1080.0,1034.8 1080.0,1034.8 1080.1,1035.0 1080.1,1035.0 1080.2,1035.1 1080.2,1035.2 1080.2,1035.2 1080.2,1035.3 1080.3,1035.3 1080.3,1035.4 1080.3,1035.5 1080.4,1035.6 1080.4,1035.4 1080.5,1034.9 1080.5,1034.7 1080.6,1034.2 1080.6,1034.0 1080.6,1033.8 1080.6,1033.5 1080.7,1033.3 1080.7,1032.7 1080.7,1032.6 1080.8,1032.0 1080.8,1031.9 1080.9,1031.7 1080.9,1031.6 1081.0,1031.4 1081.0,1031.3 1081.0,1031.2 1081.0,1031.0 1081.1,1030.9 1081.1,1030.6 1081.1,1030.5 1081.2,1030.3 1081.2,1030.0 1081.3,1029.4 1081.3,1029.2 1081.4,1028.6 1081.4,1028.3 1081.4,1028.1 1081.4,1027.7 1081.5,1027.5 1081.5,1026.8 1081.5,1026.6 1081.6,1025.9 1081.6,1025.9 1081.7,1025.8 1081.7,1025.7 1081.8,1025.6 1081.8,1025.6 1081.8,1025.5 1081.8,1025.4 1081.9,1025.3 1081.9,1025.1 1081.9,1025.0 1082.0,1024.8 1082.0,1024.6 1082.1,1024.0 1082.1,1023.9 1082.2,1023.3 1082.2,1023.0 1082.2,1022.8 1082.2,1022.4 1082.3,1022.2 1082.3,1021.5 1082.3,1021.2 1082.4,1020.5 1082.4,1020.0 1082.5,1018.8 1082.5,1018.4 1082.6,1017.1 1082.6,1016.7 1082.6,1016.3 1082.6,1015.4 1082.7,1014.9 1082.7,1013.6 1082.7,1013.2 1082.8,1011.8 1082.8,1011.5 1082.9,1010.7 1082.9,1010.5 1083.0,1009.6 1083.0,1009.3 1083.0,1008.9 1083.0,1008.3 1083.1,1007.9 1083.1,1006.8 1083.1,1006.4 1083.2,1005.1 1083.2,1004.5 1083.3,1002.5 1083.3,1001.9 1083.4,999.9 1083.4,999.2 1083.4,998.6 1083.4,997.2 1083.5,996.5 1083.5,994.5 1083.5,993.8 1083.6,991.7 1083.6,991.0 1083.7,989.1 1083.7,988.4 1083.8,986.3 1083.8,985.6 1083.8,984.8 1083.8,983.3 1083.9,982.6 1083.9,980.2 1083.9,979.4 1084.0,976.9 1084.0,976.1 1084.1,973.4 1084.1,972.4 1084.2,969.6 1084.2,968.6 1084.2,967.7 1084.2,965.7 1084.3,964.7 1084.3,961.6 1084.3,960.5 1084.4,957.3 1084.4,956.2 1084.5,952.9 1084.5,951.8 1084.6,948.3 1084.6,947.1 1084.6,946.0 1084.6,943.5 1084.7,942.3 1084.7,938.5 1084.7,937.2 1084.8,933.3 1084.8,932.0 1084.9,928.0 1084.9,926.6 1085.0,922.4 1085.0,921.0 1085.0,919.5 1085.0,916.6 1085.1,915.0 1085.1,910.3 1085.1,908.7 1085.2,903.7 1085.2,901.9 1085.3,896.4 1085.3,894.5 1085.4,888.6 1085.4,886.5 1085.4,884.4 1085.4,880.2 1085.5,878.0 1085.5,871.1 1085.5,868.8 1085.6,861.4 1085.6,858.9 1085.7,850.9 1085.7,848.2 1085.8,839.6 1085.8,836.7 1085.8,833.6 1085.8,827.4 1085.9,824.2 1085.9,814.2 1085.9,810.8 1086.0,800.0 1086.0,796.2 1086.1,784.5 1086.1,780.5 1086.2,767.9 1086.2,763.5 1086.2,759.1 1086.2,749.9 1086.3,745.3 1086.3,730.7 1086.3,725.7 1086.4,710.1 1086.4,704.8 1086.5,688.3 1086.5,682.6 1086.6,665.0 1086.6,659.0 1086.6,652.8 1086.6,640.2 1086.7,633.7 1086.7,613.7 1086.7,606.9 1086.8,585.6 1086.8,578.3 1086.9,555.7 1086.9,548.0 1087.0,524.1 1087.0,515.9 1087.0,507.6 1087.0,490.7 1087.1,482.1 1087.1,455.5 1087.1,446.4 1087.2,418.5 1087.2,408.9 1087.3,379.6 1087.3,369.6 1087.4,338.9 1087.4,328.4 1087.4,317.8 1087.4,296.3 1087.5,285.3 1087.5,251.9 1087.5,240.5 1087.6,205.6 1087.6,193.8 1087.7,157.6 1087.7,145.3 1087.8,107.9 1087.8,95.1 1087.8,82.3 1087.8,56.4 1087.9,43.3 1087.9,3.3 1087.9,-10.3 1088.0,-50.0 1088.0,-50.0 1088.1,-50.0 1088.1,-50.0 1088.2,-50.0 1088.2,-50.0 1088.2,-50.0 1088.2,-50.0 1088.3,-50.0 1088.3,-50.0 1088.3,-50.0 1088.4,-50.0 1088.4,-50.0 1088.5,-50.0 1088.5,-50.0 1088.6,-50.0 1088.6,-50.0 1088.6,-50.0 1088.6,-50.0 1088.7,-50.0 1088.7,-50.0 1088.7,-50.0 1088.8,-50.0 1088.8,-50.0 1088.9,-50.0 1088.9,-50.0 1089.0,-50.0 1089.0,-50.0 1089.0,-50.0 1089.0,-50.0 1089.1,-50.0 1089.1,-50.0 1089.1,-50.0 1089.2,-50.0 1089.2,-50.0 1089.3,-50.0 1089.3,-50.0 1089.4,-50.0 1089.4,-50.0 1089.4,-50.0 1089.4,-50.0 1089.5,-50.0 1089.5,-50.0 1089.5,-50.0 1089.6,-50.0 1089.6,-50.0 1089.7,-50.0 1089.7,-50.0 1089.8,-50.0 1089.8,-50.0 1089.8,-50.0 1089.8,-50.0 1089.9,-50.0 1089.9,-50.0 1089.9,-50.0 1090.0,-50.0 1090.0,-50.0 1090.1,-50.0 1090.1,-50.0 1090.2,-50.0 1090.2,-50.0 1090.2,-50.0 1090.2,-50.0 1090.3,-50.0 1090.3,-50.0 1090.3,-50.0 1090.4,-50.0 1090.4,-50.0 1090.5,-50.0 1090.5,-50.0 1090.6,-50.0 1090.6,-50.0 1090.6,-50.0 1090.6,-50.0 1090.7,-50.0 1090.7,-50.0 1090.7,-50.0 1090.8,-50.0 1090.8,-50.0 1090.9,-50.0 1090.9,-50.0 1091.0,-50.0 1091.0,-50.0 1091.0,-50.0 1091.0,-50.0 1091.1,-50.0 1091.1,-50.0 1091.1,-50.0 1091.2,-50.0 1091.2,-50.0 1091.3,-50.0 1091.3,-50.0 1091.4,-50.0 1091.4,-50.0 1091.4,-50.0 1091.4,-50.0 1091.5,-50.0 1091.5,-50.0 1091.5,-50.0 1091.6,-50.0 1091.6,-50.0 1091.7,-50.0 1091.7,-50.0 1091.8,-50.0 1091.8,-50.0 1091.8,-50.0 1091.8,-50.0 1091.9,-50.0 1091.9,-50.0 1091.9,-50.0 1092.0,-50.0 1092.1,-50.0 1092.2,-50.0 1092.2,-50.0 1092.3,-50.0 1092.3,-50.0 1092.4,-50.0 1092.5,-50.0 1092.6,-50.0 1092.6,-50.0 1092.7,-50.0 1092.7,-50.0 1092.8,-50.0 1092.9,-50.0 1093.0,-50.0 1093.0,-50.0 1093.1,-50.0 1093.1,-50.0 1093.2,-50.0 1093.3,-50.0 1093.4,-50.0 1093.4,-50.0 1093.5,-50.0 1093.5,-50.0 1093.6,-33.4 1093.7,21.3 1093.8,74.5 1093.8,87.5 1093.9,126.0 1093.9,175.9 1094.0,223.9 1094.1,270.1 1094.2,314.6 1094.2,325.4 1094.3,357.2 1094.3,398.0 1094.4,437.1 1094.5,474.4 1094.6,510.0 1094.6,518.6 1094.7,543.8 1094.7,576.0 1094.8,606.4 1094.9,635.2 1095.0,662.3 1095.0,668.8 1095.1,687.9 1095.1,712.0 1095.2,734.7 1095.3,756.1 1095.4,776.2 1095.4,781.0 1095.5,795.0 1095.5,812.5 1095.6,828.9 1095.7,844.0 1095.8,858.0 1095.8,861.3 1095.9,871.0 1095.9,883.1 1096.0,894.3 1096.1,904.7 1096.2,914.4 1096.2,916.7 1096.3,923.3 1096.3,931.6 1096.4,939.2 1096.5,946.3 1096.6,952.9 1096.6,954.4 1096.7,958.9 1096.7,964.5 1096.8,969.6 1096.9,974.3 1097.0,978.6 1097.0,979.6 1097.1,982.6 1097.1,986.2 1097.2,989.8 1097.3,993.0 1097.4,995.9 1097.4,996.6 1097.5,998.6 1097.5,1001.1 1097.6,1003.3 1097.7,1005.6 1097.8,1007.7 1097.8,1008.2 1097.9,1009.7 1097.9,1011.5 1098.0,1013.2 1098.1,1014.5 1098.2,1015.8 1098.2,1016.0 1098.3,1016.9 1098.3,1017.9 1098.4,1018.9 1098.5,1019.8 1098.6,1020.7 1098.6,1021.0 1098.7,1021.6 1098.7,1022.4 1098.8,1023.1 1098.9,1023.8 1099.0,1024.5 1099.0,1024.6 1099.1,1025.1 1099.1,1025.7 1099.2,1026.2 1099.3,1026.8 1099.4,1027.4 1099.4,1027.5 1099.5,1027.9 1099.5,1028.5 1099.6,1029.0 1099.7,1029.5 1099.8,1029.9 1099.8,1030.0 1099.9,1030.4 1099.9,1030.8 1100.0,1031.3 1100.1,1032.1 1100.2,1032.9 1100.2,1033.1 1100.3,1033.7 1100.3,1034.5 1100.4,1035.1 1100.5,1035.3 1100.6,1035.6 1100.6,1035.6 1100.7,1035.8 1100.7,1036.0 1100.8,1036.3 1100.9,1036.7 1101.0,1037.2 1101.0,1037.3 1101.1,1037.6 1101.1,1038.1 1101.2,1038.5 1101.3,1039.1 1101.4,1039.6 1101.4,1039.8 1101.5,1040.2 1101.5,1040.7 1101.6,1041.1 1101.7,1041.2 1101.8,1041.2 1101.8,1041.2 1101.9,1041.2 1101.9,1041.3 1102.0,1041.2 1102.1,1040.9 1102.2,1040.6 1102.2,1040.5 1102.3,1040.3 1102.3,1040.0 1102.4,1039.9 1102.5,1040.3 1102.6,1040.8 1102.6,1040.9 1102.7,1041.2 1102.7,1041.7 1102.8,1042.0 1102.9,1042.1 1103.0,1042.1 1103.0,1042.1 1103.1,1042.1 1103.1,1042.2 1103.2,1042.1 1103.4,1041.7 1103.8,1043.7 1104.2,1045.1 1104.6,1044.1 1105.0,1044.8 1105.4,1047.8 1105.8,1049.3 1106.2,1050.1 1106.6,1050.9 1107.0,1049.7 1107.4,1050.8 1107.8,1052.2 1108.2,1051.6 1108.6,1049.5 1109.0,1048.7 1109.4,1048.5 1109.8,1048.8 1110.2,1050.5 1110.6,1052.9 1111.0,1054.9 1111.4,1054.2 1111.8,1053.8 1112.2,1053.5 1112.6,1055.1 1113.0,1056.9 1113.4,1057.0 1113.8,1055.8 1114.2,1053.9 1114.6,1055.1 1115.0,1055.2 1115.4,1054.6 1115.8,1053.3 1116.2,1054.1 1116.6,1055.4 1117.0,1055.1 1117.4,1054.4 1117.8,1051.0 1118.2,1051.8 1118.6,1055.7 1119.0,1053.4 1119.4,1050.7 1119.8,1052.1 1120.2,1053.2 1120.6,1051.6 1121.0,1054.5 1121.4,1058.4 1121.8,1055.7 1122.2,1052.4 1122.6,1054.0 1123.0,1059.3 1123.4,1060.0 1123.8,1058.9 1124.2,1056.5 1124.6,1055.2 1125.0,1054.4 1125.4,1056.7 1125.8,1059.6 1126.2,1054.4 1126.6,1051.4 1127.0,1054.9 1127.4,1057.7 1127.8,1056.7 1128.2,1057.1 1128.6,1059.9 1129.0,1059.2 1129.4,1054.0 1129.8,1053.3 1130.2,1054.0 1130.6,1053.2 1131.0,1055.4 1131.4,1056.3 1131.8,1054.2 1132.2,1054.1 1132.6,1054.0 1133.0,1054.2 1133.4,1054.6 1133.8,1054.1 1134.2,1054.1 1134.6,1054.8 1135.0,1055.4 1135.4,1054.9 1135.8,1054.9 1136.2,1055.6 1136.6,1054.4 1137.0,1057.3 1137.4,1059.0 1137.8,1056.2 1138.2,1056.4 1138.6,1055.5 1139.0,1056.7 1139.4,1056.6 1139.8,1055.5 1140.2,1054.1 1140.6,1053.2 1141.0,1053.3 1141.4,1056.6 1141.8,1056.2 1142.2,1052.3 1142.6,1054.3 1143.0,1057.9 1143.4,1055.8 1143.8,1052.4 1144.2,1055.4 1144.6,1058.4 1145.0,1056.4 1145.4,1053.5 1145.8,1053.9 1146.2,1056.7 1146.6,1057.4 1147.0,1056.8 1147.4,1056.5 1147.8,1055.4 1148.2,1056.4 1148.6,1056.5 1149.0,1056.2 1149.4,1055.3 1149.8,1054.1 1150.2,1055.9 1150.6,1056.2 1151.0,1054.7 1151.4,1056.1 1151.8,1058.1 1152.2,1057.7 1152.6,1056.4 1153.0,1058.0 1153.4,1062.0 1153.8,1059.5 1154.2,1054.1 1154.6,1053.6 1155.0,1053.9 1155.4,1052.8 1155.8,1052.4 1156.2,1055.3 1156.6,1058.4 1157.0,1059.7 1157.4,1059.9 1157.8,1057.7 1158.2,1058.3 1158.6,1058.3 1159.0,1056.4 1159.4,1055.5 1159.8,1057.5 1160.2,1060.3 1160.6,1058.2 1161.0,1056.5 1161.4,1057.4 1161.8,1058.3 1162.2,1059.6 1162.6,1059.7 1163.0,1059.0 1163.4,1056.6 1163.8,1055.3 1164.2,1054.2 1164.6,1056.3 1165.0,1059.9 1165.4,1058.0 1165.8,1057.4 1166.2,1059.1 1166.6,1059.2 1167.0,1054.9 1167.4,1053.9 1167.8,1053.6 1168.2,1053.2 1168.6,1054.8 1169.0,1056.1 1169.4,1058.6 1169.8,1057.7 1170.2,1057.2 1170.6,1059.2 1171.0,1059.7 1171.4,1059.1 1171.8,1056.4 1172.2,1055.9 1172.6,1059.4 1173.0,1060.0 1173.4,1056.6 1173.8,1055.6 1174.2,1057.6 1174.6,1056.4 1175.0,1056.6 1175.4,1056.6 1175.8,1055.0 1176.2,1055.7 1176.6,1059.0 1177.0,1058.5 1177.4,1054.8 1177.8,1056.2 1178.2,1056.4 1178.6,1056.0 1179.0,1054.1 1179.4,1054.7 1179.8,1058.0 1180.2,1056.2 1180.6,1058.3 1181.0,1059.6 1181.4,1057.4 1181.8,1055.8 1182.2,1053.7 1182.6,1054.5 1183.0,1054.4 1183.4,1055.5 1183.8,1058.4 1184.2,1056.5 1184.6,1052.9 1185.0,1053.0 1185.4,1053.7 1185.8,1054.7 1186.2,1056.8 1186.6,1056.5 1187.0,1056.8 1187.4,1059.0 1187.8,1061.3 1188.2,1059.2 1188.6,1057.8 1189.0,1058.0 1189.4,1055.6 1189.8,1057.5 1190.2,1059.3 1190.6,1057.7 1191.0,1057.5 1191.4,1056.9 1191.8,1054.8 1192.2,1057.1 1192.6,1059.4 1193.0,1057.2 1193.4,1057.1 1193.8,1058.2 1194.2,1056.5 1194.6,1055.6 1195.0,1055.5 1195.4,1056.0 1195.8,1056.6 1196.2,1059.4 1196.6,1059.9 1196.7,1058.3 1196.8,1057.0 1196.9,1057.1 1196.9,1057.6 1197.0,1058.0 1197.0,1058.1 1197.1,1058.6 1197.2,1059.1 1197.3,1059.3 1197.3,1059.3 1197.4,1059.3 1197.4,1059.3 1197.5,1059.2 1197.6,1059.2 1197.7,1058.8 1197.7,1058.4 1197.8,1058.1 1197.8,1058.0 1197.9,1057.5 1198.0,1057.1 1198.1,1057.4 1198.1,1058.1 1198.2,1058.5 1198.2,1058.7 1198.3,1059.3 1198.4,1059.9 1198.5,1059.7 1198.5,1059.1 1198.6,1058.7 1198.6,1058.5 1198.7,1058.0 1198.8,1057.4 1198.9,1057.1 1198.9,1056.9 1199.0,1056.8 1199.0,1056.7 1199.1,1056.5 1199.2,1056.3 1199.3,1056.4 1199.3,1056.6 1199.4,1056.7 1199.4,1056.7 1199.5,1056.9 1199.6,1057.1 1199.7,1056.8 1199.7,1056.4 1199.8,1056.0 1199.8,1055.9 1199.9,1055.4 1200.0,1054.9 1200.1,1055.5 1200.1,1056.5 1200.2,1057.1 1200.2,1057.4 1200.3,1058.3 1200.4,1059.2 1200.5,1059.1 1200.5,1058.7 1200.6,1058.4 1200.6,1058.3 1200.7,1057.9 1200.8,1057.5 1200.9,1057.4 1200.9,1057.5 1201.0,1057.5 1201.0,1057.5 1201.1,1057.6 1201.2,1057.6 1201.3,1056.6 1201.3,1055.3 1201.4,1054.2 1201.4,1053.9 1201.5,1052.6 1201.6,1051.2 1201.7,1051.4 1201.7,1052.1 1201.8,1052.6 1201.8,1052.8 1201.9,1053.5 1202.0,1054.2 1202.1,1053.9 1202.1,1053.2 1202.2,1052.7 1202.2,1052.5 1202.3,1051.9 1202.4,1051.3 1202.5,1051.4 1202.5,1051.8 1202.6,1052.1 1202.6,1052.2 1202.7,1052.5 1202.8,1052.9 1202.9,1053.4 1202.9,1053.9 1203.0,1054.3 1203.0,1054.3 1203.0,1054.5 1203.1,1054.9 1203.1,1055.0 1203.2,1055.4 1203.2,1055.6 1203.2,1055.4 1203.3,1055.3 1203.3,1054.9 1203.3,1054.7 1203.4,1054.3 1203.4,1054.3 1203.4,1054.1 1203.5,1053.7 1203.5,1053.5 1203.6,1053.1 1203.6,1052.9 1203.6,1052.6 1203.7,1052.6 1203.7,1052.3 1203.7,1052.2 1203.8,1052.0 1203.8,1052.0 1203.8,1051.9 1203.9,1051.7 1203.9,1051.6 1204.0,1051.4 1204.0,1051.3 1204.0,1051.5 1204.1,1051.7 1204.1,1052.1 1204.1,1052.2 1204.2,1052.6 1204.2,1052.6 1204.2,1052.8 1204.3,1053.2 1204.3,1053.3 1204.4,1053.7 1204.4,1053.8 1204.4,1053.9 1204.5,1053.8 1204.5,1053.7 1204.5,1053.7 1204.6,1053.5 1204.6,1053.5 1204.6,1053.5 1204.7,1053.4 1204.7,1053.4 1204.8,1053.3 1204.8,1053.2 1204.8,1053.4 1204.9,1053.4 1204.9,1053.7 1204.9,1053.8 1205.0,1054.0 1205.0,1054.0 1205.0,1054.1 1205.1,1054.3 1205.1,1054.4 1205.2,1054.7 1205.2,1054.7 1205.2,1053.9 1205.3,1053.4 1205.3,1052.0 1205.3,1051.5 1205.4,1050.1 1205.4,1050.1 1205.4,1049.7 1205.5,1048.2 1205.5,1047.8 1205.6,1046.4 1205.6,1045.9 1205.6,1046.0 1205.7,1046.2 1205.7,1047.0 1205.7,1047.3 1205.8,1048.0 1205.8,1048.0 1205.8,1048.3 1205.9,1049.1 1205.9,1049.4 1206.0,1050.2 1206.0,1050.5 1206.0,1050.5 1206.1,1050.5 1206.1,1050.2 1206.1,1050.1 1206.2,1049.8 1206.2,1049.8 1206.2,1049.7 1206.3,1049.4 1206.3,1049.3 1206.4,1049.0 1206.4,1048.9 1206.4,1048.7 1206.5,1048.7 1206.5,1048.5 1206.5,1048.4 1206.6,1048.3 1206.6,1048.3 1206.6,1048.2 1206.7,1048.0 1206.7,1047.9 1206.8,1047.8 1206.8,1047.7 1206.8,1047.9 1206.9,1048.0 1206.9,1048.3 1206.9,1048.4 1207.0,1048.7 1207.0,1048.7 1207.0,1048.8 1207.1,1049.1 1207.1,1049.2 1207.2,1049.5 1207.2,1049.6 1207.2,1049.4 1207.3,1049.2 1207.3,1048.6 1207.3,1048.5 1207.4,1047.9 1207.4,1047.9 1207.4,1047.8 1207.5,1047.2 1207.5,1047.0 1207.6,1046.5 1207.6,1046.3 1207.6,1045.8 1207.7,1045.6 1207.7,1045.1 1207.7,1045.0 1207.8,1044.5 1207.8,1044.5 1207.8,1044.3 1207.9,1043.8 1207.9,1043.6 1208.0,1043.1 1208.0,1042.9 1208.0,1042.9 1208.1,1043.0 1208.1,1043.3 1208.1,1043.4 1208.2,1043.6 1208.2,1043.6 1208.2,1043.7 1208.3,1043.9 1208.3,1043.9 1208.4,1044.1 1208.4,1044.2 1208.4,1044.2 1208.5,1044.2 1208.5,1044.2 1208.5,1044.2 1208.6,1044.1 1208.6,1044.1 1208.6,1044.1 1208.7,1044.1 1208.7,1044.1 1208.8,1044.0 1208.8,1044.0 1208.8,1044.3 1208.9,1044.4 1208.9,1044.8 1208.9,1045.0 1209.0,1045.4 1209.0,1045.4 1209.0,1045.5 1209.1,1045.9 1209.1,1046.0 1209.2,1046.4 1209.2,1046.5 1209.2,1045.9 1209.3,1045.5 1209.3,1044.3 1209.3,1043.9 1209.4,1042.7 1209.4,1042.7 1209.4,1042.4 1209.5,1041.2 1209.5,1040.8 1209.6,1039.7 1209.6,1039.3 1209.6,1038.7 1209.7,1038.5 1209.7,1038.0 1209.7,1037.9 1209.8,1037.4 1209.8,1037.4 1209.8,1037.3 1209.9,1036.8 1209.9,1036.6 1210.0,1036.2 1210.0,1036.0 1210.0,1035.5 1210.1,1035.3 1210.1,1034.7 1210.1,1034.6 1210.2,1034.0 1210.2,1034.0 1210.2,1033.8 1210.3,1033.2 1210.3,1033.1 1210.4,1032.5 1210.4,1032.3 1210.4,1032.2 1210.5,1032.2 1210.5,1032.3 1210.5,1032.4 1210.6,1032.4 1210.6,1032.4 1210.6,1032.5 1210.7,1032.6 1210.7,1032.6 1210.8,1032.7 1210.8,1032.7 1210.8,1032.5 1210.9,1032.3 1210.9,1031.9 1210.9,1031.8 1211.0,1031.4 1211.0,1031.4 1211.0,1031.3 1211.1,1030.8 1211.1,1030.7 1211.2,1030.2 1211.2,1030.0 1211.2,1029.6 1211.3,1029.5 1211.3,1029.0 1211.3,1028.9 1211.4,1028.4 1211.4,1028.4 1211.4,1028.2 1211.5,1027.7 1211.5,1027.5 1211.6,1027.0 1211.6,1026.8 1211.6,1026.0 1211.7,1025.6 1211.7,1024.6 1211.7,1024.2 1211.8,1023.2 1211.8,1023.2 1211.8,1022.8 1211.9,1021.7 1211.9,1021.3 1212.0,1020.2 1212.0,1019.8 1212.0,1019.0 1212.1,1018.8 1212.1,1018.2 1212.1,1017.9 1212.2,1017.2 1212.2,1017.2 1212.2,1017.0 1212.3,1016.3 1212.3,1016.0 1212.4,1015.2 1212.4,1015.0 1212.4,1013.9 1212.5,1013.5 1212.5,1012.3 1212.5,1011.8 1212.6,1010.6 1212.6,1010.6 1212.6,1010.2 1212.7,1009.0 1212.7,1008.5 1212.8,1007.3 1212.8,1006.9 1212.8,1006.0 1212.9,1005.8 1212.9,1005.0 1212.9,1004.8 1213.0,1004.0 1213.0,1004.0 1213.0,1003.7 1213.1,1002.8 1213.1,1002.6 1213.2,1001.6 1213.2,1001.3 1213.2,1000.1 1213.3,999.6 1213.3,998.2 1213.3,997.8 1213.4,996.4 1213.4,996.4 1213.4,996.0 1213.5,994.6 1213.5,994.2 1213.6,992.9 1213.6,992.5 1213.6,991.3 1213.7,990.9 1213.7,989.7 1213.7,989.3 1213.8,988.2 1213.8,988.2 1213.8,987.8 1213.9,986.7 1213.9,986.4 1214.0,985.3 1214.0,984.9 1214.0,984.0 1214.1,983.7 1214.1,982.8 1214.1,982.5 1214.2,981.7 1214.2,981.7 1214.2,981.4 1214.3,980.7 1214.3,980.4 1214.4,979.7 1214.4,979.5 1214.4,978.8 1214.5,978.6 1214.5,977.9 1214.5,977.7 1214.6,977.1 1214.6,977.1 1214.6,976.9 1214.7,976.4 1214.7,976.3 1214.8,975.9 1214.8,975.8 1214.8,975.5 1214.9,975.4 1214.9,975.3 1214.9,975.2 1215.0,975.2 1215.0,975.2 1215.0,975.2 1215.1,975.3 1215.1,975.3 1215.2,975.5 1215.2,975.5 1215.2,975.8 1215.3,975.9 1215.3,976.3 1215.3,976.5 1215.4,976.9 1215.4,976.9 1215.4,977.1 1215.5,977.7 1215.5,977.9 1215.6,978.6 1215.6,978.8 1215.6,979.5 1215.7,979.8 1215.7,980.6 1215.7,980.8 1215.8,981.7 1215.8,981.7 1215.8,982.0 1215.9,982.9 1215.9,983.2 1216.0,984.1 1216.0,984.5 1216.0,985.6 1216.1,986.0 1216.1,987.1 1216.1,987.5 1216.2,988.7 1216.2,988.7 1216.2,989.2 1216.3,990.4 1216.3,990.9 1216.4,992.2 1216.4,992.6 1216.4,993.8 1216.5,994.1 1216.5,995.2 1216.5,995.5 1216.6,996.5 1216.6,996.5 1216.6,996.8 1216.7,997.8 1216.7,998.1 1216.8,999.0 1216.8,999.3 1216.8,1000.6 1216.9,1001.1 1216.9,1002.6 1216.9,1003.1 1217.0,1004.6 1217.0,1004.6 1217.0,1005.1 1217.1,1006.7 1217.1,1007.2 1217.2,1008.7 1217.2,1009.3 1217.2,1010.4 1217.3,1010.7 1217.3,1011.5 1217.3,1011.8 1217.4,1012.5 1217.4,1012.5 1217.4,1012.8 1217.5,1013.5 1217.5,1013.8 1217.6,1014.4 1217.6,1014.7 1217.6,1015.2 1217.7,1015.4 1217.7,1015.9 1217.7,1016.1 1217.8,1016.6 1217.8,1016.6 1217.8,1016.7 1217.9,1017.1 1217.9,1017.2 1218.0,1017.5 1218.0,1017.6 1218.0,1018.6 1218.1,1019.1 1218.1,1020.4 1218.1,1020.9 1218.2,1022.2 1218.2,1022.2 1218.2,1022.6 1218.3,1024.0 1218.3,1024.4 1218.4,1025.8 1218.4,1026.2 1218.4,1027.3 1218.5,1027.6 1218.5,1028.5 1218.5,1028.8 1218.6,1029.7 1218.6,1029.7 1218.6,1030.0 1218.7,1030.9 1218.7,1031.2 1218.8,1032.1 1218.8,1032.4 1218.8,1032.7 1218.9,1032.7 1218.9,1032.6 1218.9,1032.6 1219.0,1032.5 1219.0,1032.5 1219.0,1032.5 1219.1,1032.4 1219.1,1032.3 1219.2,1032.2 1219.2,1032.1 1219.2,1032.6 1219.3,1032.9 1219.3,1033.7 1219.3,1034.0 1219.4,1034.8 1219.4,1034.8 1219.4,1035.1 1219.5,1035.9 1219.5,1036.1 1219.6,1036.9 1219.6,1037.2 1219.6,1037.5 1219.7,1037.5 1219.7,1037.5 1219.7,1037.5 1219.8,1037.5 1219.8,1037.5 1219.8,1037.5 1219.9,1037.5 1219.9,1037.5 1220.0,1037.4 1220.0,1037.4 1220.0,1037.5 1220.1,1037.6 1220.1,1037.8 1220.1,1037.9 1220.2,1038.1 1220.2,1038.1 1220.2,1038.1 1220.3,1038.3 1220.3,1038.4 1220.4,1038.5 1220.4,1038.6 1220.4,1038.5 1220.5,1038.4 1220.5,1038.2 1220.5,1038.1 1220.6,1037.9 1220.6,1037.9 1220.6,1037.8 1220.7,1037.6 1220.8,1037.2 1220.8,1038.0 1220.9,1039.8 1221.0,1041.6 1221.0,1041.6 1221.1,1043.4 1221.2,1045.2 1221.2,1045.9 1221.3,1045.4 1221.4,1044.9 1221.4,1044.9 1221.5,1044.4 1221.6,1043.9 1221.6,1044.0 1221.7,1044.6 1221.8,1045.3 1221.8,1045.3 1221.9,1045.9 1222.0,1046.5 1222.0,1046.6 1222.1,1046.1 1222.2,1045.6 1222.2,1045.6 1222.3,1045.1 1222.4,1044.6 1222.4,1044.5 1222.5,1044.8 1222.6,1045.1 1222.6,1045.1 1222.7,1045.4 1222.8,1045.7 1222.8,1046.4 1222.9,1047.5 1223.0,1048.7 1223.0,1048.7 1223.1,1049.8 1223.2,1051.0 1223.2,1051.3 1223.3,1050.7 1223.4,1050.1 1223.4,1050.1 1223.5,1049.6 1223.6,1049.0 1223.6,1048.8 1223.7,1048.9 1223.8,1049.1 1223.8,1049.1 1223.9,1049.2 1224.0,1049.3 1224.0,1049.2 1224.1,1048.9 1224.2,1048.6 1224.2,1048.6 1224.3,1048.3 1224.4,1048.0 1224.4,1048.3 1224.5,1049.1 1224.6,1049.9 1224.6,1049.9 1224.7,1050.7 1224.8,1051.5 1224.8,1052.1 1224.9,1052.5 1225.0,1052.9 1225.0,1052.9 1225.1,1053.2 1225.2,1053.6 1225.2,1053.4 1225.3,1052.9 1225.4,1052.3 1225.4,1052.3 1225.5,1051.7 1225.6,1051.2 1225.6,1051.0 1225.7,1051.2 1225.8,1051.4 1225.8,1051.4 1225.9,1051.6 1226.0,1051.9 1226.0,1051.7 1226.1,1051.3 1226.2,1050.8 1226.2,1050.8 1226.3,1050.4 1226.4,1050.0 1226.4,1050.5 1226.5,1051.9 1226.6,1053.4 1226.6,1053.4 1226.7,1054.8 1226.8,1056.3 1226.8,1056.5 1226.9,1055.6 1227.0,1054.6 1227.4,1053.0 1227.8,1056.3 1228.2,1056.5 1228.6,1052.5 1229.0,1051.9 1229.4,1053.7 1229.8,1057.5 1230.2,1058.5 1230.6,1056.1 1231.0,1057.0 1231.4,1059.1 1231.8,1057.1 1232.2,1057.4 1232.6,1059.7 1233.0,1058.6 1233.4,1055.0 1233.8,1054.9 1234.2,1059.7 1234.6,1059.1 1235.0,1060.0 1235.4,1060.2 1235.8,1055.5 1236.2,1055.8 1236.6,1057.2 1237.0,1057.2 1237.4,1056.5 1237.8,1057.3 1238.2,1057.1 1238.6,1056.1 1239.0,1055.7 1239.4,1055.1 1239.8,1057.5 1240.2,1057.9 1240.6,1057.0 1241.0,1057.4 1241.4,1058.0 1241.8,1059.0 1242.2,1059.4 1242.6,1059.6 1243.0,1058.7 1243.4,1056.6 1243.8,1054.4 1244.2,1055.0 1244.6,1056.5 1245.0,1055.0 1245.4,1058.6 1245.8,1059.0 1246.2,1057.5 1246.6,1061.0 1247.0,1060.5 1247.4,1062.9 1247.8,1063.4 1248.2,1059.6 1248.6,1062.0 1249.0,1061.9 1249.4,1057.2 1249.8,1056.6 1250.2,1057.1 1250.6,1058.1 1251.0,1059.1 1251.4,1056.7 1251.8,1056.6 1252.2,1061.4 1252.6,1059.8 1253.0,1056.5 1253.4,1058.2 1253.8,1059.9 1254.2,1057.9 1254.6,1054.8 1255.0,1054.1 1255.4,1056.8 1255.8,1059.3 1256.2,1055.0 1256.6,1051.0 1257.0,1052.5 1257.4,1053.7 1257.8,1056.3 1258.2,1058.9 1258.6,1061.2 1259.0,1062.2 1259.4,1059.8 1259.8,1060.5 1260.2,1059.4 1260.6,1056.1 1261.0,1057.7 1261.4,1061.0 1261.8,1058.7 1262.2,1058.6 1262.6,1061.6 1263.0,1059.3 1263.4,1058.1 1263.8,1058.0 1264.2,1057.6 1264.6,1058.9 1265.0,1057.7 1265.4,1058.2 1265.8,1060.7 1266.2,1060.6 1266.6,1056.9 1267.0,1053.3 1267.4,1057.2 1267.8,1059.3 1268.2,1057.9 1268.6,1058.0 1269.0,1057.5 1269.4,1058.4 1269.8,1059.1 1270.2,1058.2 1270.6,1059.3 1271.0,1057.8 1271.4,1058.0 1271.8,1056.2 1272.2,1057.5 1272.6,1058.5 1273.0,1056.5 1273.4,1059.6 1273.8,1058.8 1274.2,1058.4 1274.6,1058.2 1275.0,1054.8 1275.4,1055.5 1275.8,1059.8 1276.2,1058.8 1276.6,1055.2 1277.0,1055.3 1277.4,1058.0 1277.8,1058.9 1278.2,1059.5 1278.6,1059.5 1279.0,1058.3 1279.4,1054.7 1279.8,1056.9 1280.2,1059.6 1280.6,1057.6 1281.0,1057.0 1281.4,1055.5 1281.8,1056.1 1282.2,1058.4 1282.6,1060.5 1283.0,1059.4 1283.4,1060.4 1283.8,1059.4 1284.2,1057.6 1284.6,1057.6 1285.0,1058.5 1285.4,1059.1 1285.8,1058.6 1286.2,1060.9 1286.6,1056.9 1287.0,1057.6 1287.4,1061.0 1287.8,1057.8 1288.2,1054.8 1288.6,1054.8 1289.0,1054.3 1289.4,1054.6 1289.8,1057.1 1290.2,1059.3 1290.6,1058.9 1291.0,1057.5 1291.4,1059.3 1291.8,1060.3 1292.2,1058.2 1292.6,1056.2 1293.0,1054.4 1293.4,1051.9 1293.8,1053.8 1294.2,1055.6 1294.6,1054.7 1295.0,1054.8 1295.4,1058.2 1295.8,1059.0 1296.2,1058.7 1296.6,1058.7 1297.0,1061.2 1297.4,1064.4 1297.8,1062.2 1298.2,1058.7 1298.6,1059.8 1299.0,1059.8 1299.4,1055.8 1299.8,1053.0 1300.2,1052.8 1300.6,1057.5 1301.0,1057.5 1301.4,1057.6 1301.8,1058.6 1302.2,1055.7 1302.6,1057.9 1303.0,1058.3 1303.4,1057.4 1303.8,1056.5 1304.2,1054.4 1304.6,1054.7 1305.0,1056.5 1305.4,1056.3 1305.8,1053.0 1306.2,1054.3 1306.6,1056.7 1307.0,1055.8 1307.4,1055.4 1307.8,1053.2 1308.2,1056.8 1308.6,1059.5 1309.0,1058.6 1309.4,1061.5 1309.8,1062.6 1310.2,1061.1 1310.6,1059.3 1311.0,1059.1 1311.4,1059.9 1311.8,1059.8 1312.2,1057.6 1312.6,1057.2 1313.0,1058.5 1313.4,1059.2 1313.8,1059.4 1314.2,1060.7 1314.6,1060.8 1315.0,1060.0 1315.4,1059.2 1315.8,1056.4 1316.2,1054.2 1316.6,1054.1 1317.0,1055.5 1317.4,1057.1 1317.8,1056.2 1318.2,1053.8 1318.6,1053.5 1319.0,1056.2 1319.4,1057.3 1319.8,1055.1 1320.2,1056.2 1320.6,1055.3 1321.0,1054.7 1321.4,1056.6 1321.8,1056.4 1322.2,1055.1 1322.6,1056.8 1323.0,1060.9 1323.4,1057.9 1323.8,1056.0 1324.2,1058.9 1324.6,1062.0 1325.0,1060.7 1325.4,1056.5 1325.8,1057.1 1326.2,1061.1 1326.6,1061.1 1327.0,1058.7 1327.4,1060.9 1327.8,1057.5 1328.2,1052.0 1328.6,1055.9 1329.0,1059.6 1329.4,1056.1 1329.8,1055.3 1330.2,1057.0 1330.6,1056.5 1331.0,1055.5 1331.4,1054.8 1331.8,1055.0 1332.2,1056.0 1332.6,1057.2 1333.0,1059.8 1333.4,1061.4 1333.8,1057.3 1334.2,1057.5 1334.6,1061.9 1335.0,1062.0 1335.4,1061.7 1335.8,1061.1 1336.2,1060.4 1336.6,1058.8 1337.0,1058.6 1337.4,1057.7 1337.8,1058.1 1338.2,1057.5 1338.6,1052.5 1339.0,1054.8 1339.4,1057.2 1339.8,1056.6 1340.2,1057.5 1340.6,1057.8 1341.0,1056.5 1341.4,1057.4 1341.8,1059.7 1342.2,1060.5 1342.6,1063.1 1343.0,1061.4 1343.4,1058.7 1343.8,1060.3 1344.2,1059.5 1344.6,1056.9 1345.0,1056.5 1345.4,1059.4 1345.8,1059.6 1346.2,1058.9 1346.6,1058.1 1347.0,1057.9 1347.4,1058.1 1347.8,1056.6 1348.2,1058.1 1348.6,1059.7 1349.0,1062.1 1349.4,1060.2 1349.8,1059.2 1350.2,1063.7 1350.6,1064.8 1351.0,1061.9 1351.4,1059.0 1351.8,1058.9 1352.2,1060.5 1352.6,1062.1 1353.0,1062.8 1353.4,1064.0 1353.8,1062.4 1354.2,1060.2 1354.6,1059.9 1355.0,1059.3 1355.4,1060.4 1355.8,1062.2 1356.2,1064.9 1356.6,1065.1 1357.0,1062.3 1357.4,1063.7 1357.8,1062.7 1358.2,1061.3 1358.6,1063.2 1359.0,1063.4 1359.4,1062.1 1359.8,1060.1 1360.2,1057.5 1360.6,1057.5 1361.0,1058.4 1361.4,1059.6 1361.8,1060.3 1362.2,1060.2 1362.6,1058.3 1363.0,1058.7 1363.4,1059.6 1363.8,1056.2 1364.2,1055.5 1364.6,1056.7 1365.0,1059.8 1365.4,1061.4 1365.8,1058.1 1366.2,1056.9 1366.6,1057.7 1367.0,1055.2 1367.4,1053.7 1367.8,1052.8 1368.2,1052.8 1368.6,1052.5 1369.0,1052.4 1369.4,1053.8 1369.8,1053.6 1370.2,1053.5 1370.6,1055.3 1371.0,1055.2 1371.4,1053.5 1371.8,1054.3 1372.2,1054.5 1372.6,1054.0 1373.0,1051.8 1373.4,1049.2 1373.8,1048.3 1374.2,1048.4 1374.6,1048.6 1375.0,1048.3 1375.4,1048.7 1375.8,1048.0 1376.2,1048.3 1376.6,1049.4 1377.0,1046.9 1377.4,1046.9 1377.8,1045.5 1378.2,1046.5 1378.6,1049.9 1379.0,1049.3 1379.4,1047.5 1379.8,1049.6 1380.2,1051.2 1380.6,1048.7 1381.0,1050.2 1381.4,1050.3 1381.8,1048.5 1382.2,1050.0 1382.6,1050.5 1383.0,1051.3 1383.4,1053.3 1383.8,1054.1 1384.2,1052.8 1384.6,1053.0 1385.0,1054.6 1385.4,1055.4 1385.8,1054.3 1386.2,1054.3 1386.6,1056.2 1387.0,1055.2 1387.4,1053.7 1387.8,1053.5 1388.2,1055.2 1388.6,1053.4 1389.0,1051.1 1389.4,1051.0 1389.8,1054.2 1390.2,1055.4 1390.6,1055.0 1391.0,1055.7 1391.4,1055.2 1391.8,1055.6 1392.2,1055.4 1392.6,1056.9 1393.0,1057.9 1393.4,1056.7 1393.8,1054.7 1394.2,1054.8 1394.6,1055.9 1395.0,1055.0 1395.4,1057.5 1395.8,1057.1 1396.2,1055.8 1396.6,1058.5 1397.0,1060.7 1397.4,1059.6 1397.8,1058.9 1398.2,1060.2 1398.6,1058.5 1399.0,1055.3 1399.4,1054.1 1399.8,1057.4 1400.2,1059.7 1400.6,1056.7 1401.0,1055.3 1401.4,1056.3 1401.8,1056.6 1402.2,1057.2 1402.6,1060.8 1403.0,1060.2 1403.4,1057.9 1403.8,1058.5 1404.2,1058.1 1404.6,1058.6 1405.0,1059.8 1405.4,1060.8 1405.8,1062.0 1406.2,1063.2 1406.6,1061.3 1407.0,1063.3 1407.4,1062.5 1407.8,1060.0 1408.2,1064.2 1408.6,1062.4 1409.0,1061.1 1409.4,1063.8 1409.8,1062.2 1410.2,1057.4 1410.6,1058.4 1411.0,1060.5 1411.4,1057.3 1411.8,1058.6 1412.2,1058.2 1412.6,1058.2 1413.0,1059.0 1413.4,1059.0 1413.8,1059.0 1414.2,1058.4 1414.6,1059.2 1415.0,1058.9 1415.4,1060.5 1415.8,1061.2 1416.2,1061.0 1416.6,1062.7 1417.0,1062.0 1417.4,1057.5 1417.8,1057.1 1418.2,1059.7 1418.6,1061.5 1419.0,1062.9 1419.4,1062.9 1419.8,1061.0 1420.2,1060.4 1420.6,1058.5 1421.0,1058.9 1421.4,1061.1 1421.8,1059.8 1422.2,1058.7 1422.6,1058.3 1423.0,1058.2 1423.4,1058.9 1423.8,1057.8 1424.2,1057.9 1424.6,1059.8 1425.0,1060.6 1425.4,1059.3 1425.8,1056.2 1426.2,1056.4 1426.6,1056.6 1427.0,1056.4 1427.4,1054.9 1427.8,1053.6 1428.2,1054.3 1428.6,1055.3 1429.0,1054.5 1429.4,1053.6 1429.8,1055.2 1430.2,1058.4 1430.6,1059.0 1431.0,1059.4 1431.4,1061.4 1431.8,1061.8 1432.2,1060.1 1432.6,1058.6 1433.0,1056.7 1433.4,1056.5 1433.8,1059.9 1434.2,1059.6 1434.6,1061.0 1435.0,1064.7 1435.4,1062.4 1435.8,1061.8 1436.2,1060.3 1436.6,1057.3 1437.0,1058.3 1437.4,1059.1 1437.8,1058.8 1438.2,1057.0 1438.6,1059.5 1439.0,1061.0 1439.4,1058.6 1439.8,1059.3 1440.2,1059.3 1440.6,1058.1 1441.0,1057.2 1441.4,1055.0 1441.8,1057.6 1442.2,1058.4 1442.6,1054.0 1443.0,1054.2 1443.4,1054.3 1443.8,1058.4 1444.2,1061.3 1444.6,1060.7 1445.0,1062.3 1445.4,1061.0 1445.8,1059.5 1446.2,1057.3 1446.6,1055.9 1447.0,1055.7 1447.4,1055.7 1447.8,1055.6 1448.2,1057.4 1448.6,1059.7 1449.0,1058.0 1449.4,1054.8 1449.8,1055.8 1450.2,1059.2 1450.6,1057.9 1451.0,1054.5 1451.4,1054.7 1451.8,1057.5 1452.2,1054.0 1452.6,1053.2 1453.0,1053.3 1453.4,1053.0 1453.8,1058.3 1454.2,1059.0 1454.6,1057.9 1455.0,1057.9 1455.4,1057.5 1455.8,1060.8 1456.2,1062.5 1456.6,1059.0 1457.0,1056.5 1457.4,1056.9 1457.8,1060.3 1458.2,1060.7 1458.6,1059.4 1459.0,1058.8 1459.4,1055.4 1459.8,1057.5 1460.2,1058.7 1460.6,1055.5 1461.0,1054.3 1461.4,1054.1 1461.8,1054.0 1462.2,1052.8 1462.6,1055.3 1463.0,1058.1 1463.4,1057.9 1463.8,1056.9 1464.2,1056.0 1464.6,1056.6 1465.0,1057.7 1465.4,1058.8 1465.8,1058.0 1466.2,1056.5 1466.6,1055.1 1467.0,1055.6 1467.4,1056.9 1467.8,1057.6 1468.2,1056.8 1468.6,1059.7 1469.0,1061.4 1469.4,1056.2 1469.8,1054.0 1470.2,1054.9 1470.6,1056.7 1471.0,1060.1 1471.4,1058.6 1471.8,1058.2 1472.2,1059.4 1472.6,1060.2 1473.0,1062.4 1473.4,1061.1 1473.8,1059.7 1474.2,1058.8 1474.6,1056.6 1475.0,1054.5 1475.4,1055.0 1475.8,1056.1 1476.2,1055.2 1476.6,1055.4 1477.0,1056.0 1477.4,1055.3 1477.8,1055.4 1478.2,1059.0 1478.6,1059.9 1479.0,1060.7 1479.4,1059.6 1479.8,1055.6 1480.2,1056.9 1480.6,1059.2 1481.0,1057.4 1481.4,1056.6 1481.8,1058.2 1482.2,1058.6 1482.6,1057.0 1483.0,1055.4 1483.4,1053.4 1483.8,1053.5 1484.2,1056.0 1484.6,1057.7 1485.0,1055.5 1485.4,1052.4 1485.8,1052.7 1486.2,1055.0 1486.6,1053.4 1487.0,1051.0 1487.4,1057.3 1487.8,1060.3 1488.2,1056.7 1488.6,1056.5 1489.0,1060.1 1489.4,1061.1 1489.8,1059.5 1490.2,1057.4 1490.6,1058.2 1491.0,1058.7 1491.4,1058.2 1491.8,1058.8 1492.2,1057.2 1492.6,1058.8 1493.0,1059.0 1493.4,1057.9 1493.8,1057.9 1494.2,1056.9 1494.6,1057.3 1495.0,1056.5 1495.4,1056.9 1495.8,1059.3 1496.2,1061.2 1496.6,1061.0 1497.0,1057.9 1497.4,1057.5 1497.8,1057.9 1498.2,1058.0 1498.6,1055.4 1499.0,1054.7 1499.4,1055.4 1499.8,1054.9 1500.2,1055.2 1500.6,1055.1 1501.0,1055.7 1501.4,1052.2 1501.8,1051.5 1502.2,1053.8 1502.6,1055.2 1503.0,1052.8 1503.4,1051.3 1503.8,1053.5 1504.2,1055.0 1504.6,1056.6 1505.0,1056.2 1505.4,1054.4 1505.8,1056.3 1506.2,1058.1 1506.6,1058.8 1507.0,1058.4 1507.4,1057.6 1507.8,1056.6 1508.2,1055.5 1508.6,1056.0 1509.0,1055.5 1509.4,1053.5 1509.8,1052.4 1510.2,1052.2 1510.6,1052.0 1511.0,1053.9 1511.4,1057.0 1511.8,1056.3 1512.2,1054.4 1512.6,1054.4 1513.0,1054.8 1513.4,1055.0 1513.8,1054.8 1514.2,1054.6 1514.6,1056.2 1515.0,1057.8 1515.4,1053.0 1515.8,1051.6 1516.2,1053.7 1516.6,1050.2 1517.0,1048.4 1517.4,1050.2 1517.8,1049.9 1518.2,1050.5 1518.6,1049.2 1519.0,1050.1 1519.4,1053.8 1519.8,1053.8 1520.2,1052.9 1520.6,1053.0 1521.0,1053.4 1521.4,1055.5 1521.8,1057.0 1522.2,1058.1 1522.6,1056.8 1523.0,1055.7 1523.4,1054.9 1523.8,1052.3 1524.2,1051.5 1524.6,1052.3 1525.0,1053.6 1525.4,1053.9 1525.8,1056.1 1526.2,1055.4 1526.6,1054.3 1527.0,1055.6 1527.4,1055.1 1527.8,1052.9 1528.2,1052.8 1528.6,1053.4 1529.0,1053.1 1529.4,1052.7 1529.8,1050.3 1530.2,1049.6 1530.6,1051.9 1531.0,1051.0 1531.4,1050.3 1531.8,1050.3 1532.2,1050.3 1532.6,1053.1 1533.0,1053.0 1533.4,1049.6 1533.8,1049.7 1534.2,1051.0 1534.6,1051.9 1535.0,1050.0 1535.4,1047.5 1535.8,1049.1 1536.2,1048.0 1536.6,1049.0 1537.0,1047.9 1537.4,1045.0 1537.8,1045.2 1538.2,1045.0 1538.6,1047.4 1539.0,1048.6 1539.4,1048.5 1539.8,1048.1 1540.2,1044.2 1540.6,1043.3 1541.0,1042.9 1541.4,1041.5 1541.8,1042.7 1542.2,1042.4 1542.6,1043.2 1543.0,1042.7 1543.4,1043.9 1543.8,1045.1 1544.2,1044.1 1544.6,1043.8 1545.0,1042.8 1545.4,1041.3 1545.8,1041.7 1546.2,1039.9 1546.6,1037.5 1547.0,1037.5 1547.4,1035.8 1547.8,1035.0 1548.2,1033.3 1548.6,1032.5 1549.0,1032.5 1549.4,1030.4 1549.8,1028.9 1550.2,1026.4 1550.6,1022.8 1551.0,1021.7 1551.4,1021.4 1551.8,1021.7 1552.2,1019.6 1552.6,1016.6 1553.0,1014.9 1553.4,1012.9 1553.8,1009.6 1554.2,1005.7 1554.6,1002.3 1555.0,998.1 1555.4,993.8 1555.4,993.8 1555.5,993.0 1555.6,992.1 1555.6,991.2 1555.7,990.3 1555.8,989.4 1555.8,989.4 1555.9,988.5 1556.0,987.5 1556.0,986.6 1556.1,985.7 1556.2,984.7 1556.2,984.7 1556.3,983.7 1556.4,982.7 1556.4,981.5 1556.5,980.3 1556.6,979.0 1556.6,979.0 1556.7,977.7 1556.8,976.3 1556.8,974.9 1556.9,973.5 1557.0,972.1 1557.0,972.1 1557.1,970.6 1557.2,969.1 1557.2,967.6 1557.3,966.0 1557.4,964.4 1557.4,964.4 1557.5,962.7 1557.6,961.0 1557.6,959.2 1557.7,957.3 1557.8,955.3 1557.8,955.3 1557.9,953.3 1558.0,951.2 1558.0,949.0 1558.1,946.8 1558.2,944.5 1558.2,944.5 1558.3,942.1 1558.4,939.6 1558.4,936.9 1558.5,934.1 1558.6,931.1 1558.6,931.1 1558.7,928.0 1558.8,924.7 1558.8,921.3 1558.9,917.6 1559.0,913.8 1559.0,913.8 1559.1,909.7 1559.2,905.3 1559.2,900.6 1559.3,895.7 1559.4,890.3 1559.4,890.3 1559.5,884.6 1559.6,878.5 1559.6,871.9 1559.7,864.7 1559.8,857.0 1559.8,857.0 1559.9,848.7 1560.0,839.9 1560.0,830.4 1560.1,820.3 1560.2,809.5 1560.2,809.5 1560.3,797.8 1560.4,785.1 1560.4,771.5 1560.5,756.7 1560.6,740.8 1560.6,740.8 1560.7,723.6 1560.8,705.1 1560.8,685.0 1560.9,663.3 1561.0,639.9 1561.0,639.9 1561.1,614.7 1561.2,587.7 1561.2,558.7 1561.3,527.7 1561.4,494.4 1561.4,494.4 1561.5,458.7 1561.6,420.4 1561.6,379.5 1561.7,335.7 1561.8,289.0 1561.8,289.0 1561.9,239.1 1562.0,185.9 1562.0,129.3 1562.1,69.2 1562.2,5.3 1562.2,5.3 1562.3,-50.0 1562.4,-50.0 1562.4,-50.0 1562.5,-50.0 1562.6,-50.0 1562.6,-50.0 1562.7,-50.0 1562.8,-50.0 1562.8,-50.0 1562.9,-50.0 1563.0,-50.0 1563.0,-50.0 1563.1,-50.0 1563.2,-50.0 1563.2,-50.0 1563.3,-50.0 1563.4,-50.0 1563.4,-50.0 1563.5,-50.0 1563.6,-50.0 1563.6,-50.0 1563.7,-50.0 1563.8,-50.0 1563.8,-50.0 1563.9,-50.0 1564.0,-50.0 1564.0,-50.0 1564.1,-50.0 1564.2,-50.0 1564.2,-50.0 1564.3,-50.0 1564.4,-50.0 1564.4,-50.0 1564.5,-50.0 1564.6,-50.0 1564.6,-50.0 1564.7,-50.0 1564.8,-50.0 1564.8,-50.0 1564.9,-50.0 1565.0,-50.0 1565.0,-50.0 1565.1,-50.0 1565.2,-50.0 1565.2,-50.0 1565.3,-50.0 1565.4,-50.0 1565.4,-50.0 1565.5,-50.0 1565.6,-50.0 1565.6,-50.0 1565.7,-50.0 1565.8,-50.0 1565.8,-50.0 1565.9,-50.0 1566.0,-50.0 1566.0,-50.0 1566.1,-50.0 1566.2,-50.0 1566.2,-50.0 1566.3,-50.0 1566.4,-50.0 1566.4,-50.0 1566.5,-50.0 1566.6,-50.0 1566.6,-50.0 1566.7,-50.0 1566.8,-50.0 1566.8,-50.0 1566.9,-50.0 1567.0,-50.0 1567.0,-50.0 1567.1,-50.0 1567.2,-50.0 1567.2,-50.0 1567.3,-50.0 1567.4,-50.0 1567.4,-50.0 1567.5,-50.0 1567.6,-50.0 1567.6,-50.0 1567.7,-50.0 1567.8,-50.0 1567.8,-50.0 1567.9,-50.0 1568.0,-50.0 1568.0,-50.0 1568.1,-50.0 1568.2,-50.0 1568.2,-50.0 1568.3,-50.0 1568.4,-50.0 1568.4,-50.0 1568.5,-50.0 1568.6,-50.0 1568.6,-50.0 1568.7,-50.0 1568.8,-50.0 1568.8,-50.0 1568.9,-50.0 1569.0,-50.0 1569.0,-50.0 1569.1,-50.0 1569.2,-50.0 1569.2,-50.0 1569.3,-50.0 1569.4,-50.0 1569.4,-50.0 1569.5,-50.0 1569.6,-50.0 1569.6,-50.0 1569.7,-50.0 1569.8,-50.0 1569.8,-50.0 1569.9,-50.0 1570.0,-50.0 1570.0,-50.0 1570.1,-50.0 1570.2,-50.0 1570.2,-50.0 1570.3,-50.0 1570.4,-50.0 1570.4,-50.0 1570.5,-50.0 1570.6,-50.0 1570.6,-50.0 1570.7,-50.0 1570.8,-50.0 1570.8,-50.0 1570.9,-50.0 1571.0,-50.0 1571.0,-50.0 1571.1,-11.3 1571.2,53.5 1571.2,114.6 1571.3,172.1 1571.4,226.1 1571.4,226.1 1571.5,276.8 1571.6,324.3 1571.6,368.9 1571.7,410.8 1571.8,449.8 1571.8,449.8 1571.9,486.4 1572.0,520.4 1572.0,552.1 1572.1,581.5 1572.2,608.9 1572.2,608.9 1572.3,634.4 1572.4,658.0 1572.4,679.9 1572.5,700.2 1572.6,719.0 1572.6,719.0 1572.7,736.4 1572.8,752.6 1572.8,767.6 1572.9,781.7 1573.0,794.7 1573.0,794.7 1573.1,806.8 1573.2,818.0 1573.2,828.4 1573.3,838.0 1573.4,846.9 1573.4,846.9 1573.5,855.2 1573.6,863.0 1573.6,870.2 1573.7,876.9 1573.8,883.1 1573.8,883.1 1573.9,888.9 1574.0,894.4 1574.0,899.5 1574.1,904.2 1574.2,908.6 1574.2,908.6 1574.3,912.8 1574.4,916.7 1574.4,920.3 1574.5,923.8 1574.6,927.0 1574.6,927.0 1574.7,930.1 1574.8,933.1 1574.8,935.9 1574.9,938.8 1575.0,941.5 1575.0,941.5 1575.1,944.1 1575.2,946.6 1575.2,948.9 1575.3,951.0 1575.4,953.0 1575.4,953.0 1575.5,955.0 1575.6,956.9 1575.6,958.8 1575.7,960.7 1575.8,962.5 1575.8,962.5 1575.9,964.3 1576.0,966.0 1576.0,967.6 1576.1,969.1 1576.2,970.5 1576.2,970.5 1576.3,971.9 1576.4,973.3 1576.4,974.7 1576.5,976.0 1576.6,977.4 1576.6,977.4 1576.7,978.7 1576.8,980.0 1576.8,981.2 1576.9,982.3 1577.0,983.5 1577.0,983.5 1577.1,984.6 1577.2,985.7 1577.2,986.8 1577.3,987.9 1577.4,989.0 1577.4,989.0 1577.5,990.0 1577.6,991.0 1577.6,992.0 1577.7,992.8 1577.8,993.6 1577.8,993.6 1577.9,994.4 1578.0,995.1 1578.0,996.0 1578.1,997.0 1578.2,998.1 1578.2,998.1 1578.3,999.1 1578.4,1000.2 1578.4,1001.0 1578.5,1001.7 1578.6,1002.4 1578.6,1002.4 1578.7,1003.0 1578.8,1003.6 1578.8,1004.2 1578.9,1004.6 1579.0,1005.0 1579.0,1005.0 1579.1,1005.4 1579.2,1005.8 1579.2,1006.4 1579.3,1007.2 1579.4,1008.0 1579.8,1011.4 1580.2,1014.6 1580.6,1017.5 1581.0,1018.4 1581.4,1020.0 1581.8,1022.3 1582.2,1022.3 1582.6,1024.3 1583.0,1025.9 1583.4,1025.5 1583.8,1028.3 1584.2,1031.8 1584.6,1032.0 1585.0,1033.6 1585.4,1036.5 1585.8,1036.1 1586.2,1037.9 1586.6,1039.1 1587.0,1037.8 1587.4,1036.1 1587.8,1037.0 1588.2,1039.3 1588.6,1039.7 1589.0,1039.2 1589.4,1040.5 1589.8,1044.4 1590.2,1045.6 1590.6,1041.7 1591.0,1040.5 1591.4,1043.6 1591.8,1040.8 1592.2,1039.9 1592.6,1042.9 1593.0,1046.0 1593.4,1045.8 1593.8,1045.1 1594.2,1046.6 1594.6,1047.3 1595.0,1047.3 1595.4,1048.3 1595.8,1050.2 1596.2,1047.7 1596.6,1048.2 1597.0,1049.2 1597.4,1047.8 1597.8,1050.2 1598.2,1050.8 1598.6,1050.1 1599.0,1050.8 1599.4,1050.7 1599.8,1048.8 1600.2,1046.6 1600.6,1047.8 1601.0,1049.8 1601.4,1049.5 1601.8,1048.6 1602.2,1049.7 1602.6,1050.2 1603.0,1047.6 1603.4,1048.0 1603.8,1050.2 1604.2,1050.7 1604.6,1049.0 1605.0,1047.3 1605.4,1049.1 1605.8,1050.2 1606.2,1050.5 1606.6,1053.1 1607.0,1054.4 1607.4,1056.1 1607.8,1056.5 1608.2,1056.8 1608.6,1058.0 1609.0,1058.7 1609.4,1057.1 1609.8,1053.9 1610.2,1055.0 1610.6,1053.9 1611.0,1051.2 1611.4,1052.0 1611.8,1053.5 1612.2,1051.9 1612.6,1052.4 1613.0,1054.3 1613.4,1054.2 1613.8,1054.9 1614.2,1054.4 1614.6,1055.2 1615.0,1055.7 1615.4,1054.0 1615.8,1053.6 1616.2,1055.4 1616.6,1056.5 1617.0,1056.9 1617.4,1055.6 1617.8,1053.9 1618.2,1056.5 1618.6,1056.1 1619.0,1055.8 1619.4,1057.0 1619.8,1054.4 1620.2,1051.6 1620.6,1052.8 1621.0,1053.5 1621.4,1051.4 1621.8,1050.0 1622.2,1052.5 1622.6,1055.2 1623.0,1054.2 1623.4,1055.1 1623.8,1056.0 1624.2,1056.0 1624.6,1056.6 1625.0,1056.1 1625.4,1052.5 1625.8,1053.8 1626.2,1057.4 1626.6,1056.6 1627.0,1058.2 1627.4,1056.3 1627.8,1051.0 1628.2,1054.5 1628.6,1057.8 1629.0,1053.4 1629.4,1052.0 1629.8,1054.7 1630.2,1053.4 1630.6,1053.1 1631.0,1057.5 1631.4,1058.6 1631.8,1055.9 1632.2,1054.7 1632.6,1053.6 1633.0,1053.5 1633.4,1054.5 1633.8,1053.2 1634.2,1052.1 1634.6,1056.1 1635.0,1058.2 1635.4,1054.4 1635.8,1053.8 1636.2,1057.0 1636.6,1059.6 1637.0,1056.7 1637.4,1054.6 1637.8,1056.5 1638.2,1055.7 1638.6,1053.0 1639.0,1052.3 1639.4,1053.9 1639.8,1054.2 1640.2,1052.5 1640.6,1053.1 1641.0,1055.8 1641.4,1056.6 1641.8,1054.4 1642.2,1055.5 1642.6,1054.3 1643.0,1051.8 1643.4,1051.5 1643.8,1053.3 1644.2,1055.9 1644.6,1053.6 1645.0,1053.5 1645.4,1058.4 1645.8,1060.5 1646.2,1058.0 1646.6,1057.6 1647.0,1054.6 1647.4,1051.7 1647.8,1051.5 1648.2,1051.2 1648.6,1052.3 1649.0,1054.5 1649.4,1056.8 1649.8,1058.0 1650.2,1060.0 1650.6,1058.4 1651.0,1055.8 1651.4,1056.8 1651.8,1055.3 1652.2,1053.6 1652.6,1054.5 1653.0,1053.1 1653.4,1052.5 1653.8,1055.0 1654.2,1052.8 1654.6,1048.1 1655.0,1050.0 1655.4,1052.1 1655.8,1052.7 1656.2,1053.8 1656.6,1054.4 1657.0,1056.7 1657.4,1057.5 1657.8,1055.5 1658.2,1052.8 1658.6,1050.1 1659.0,1048.6 1659.4,1050.5 1659.8,1053.4 1660.2,1053.4 1660.6,1052.4 1661.0,1051.0 1661.4,1049.6 1661.8,1049.4 1662.2,1052.6 1662.6,1052.6 1663.0,1053.0 1663.4,1054.9 1663.8,1055.1 1664.2,1056.9 1664.6,1057.3 1665.0,1058.7 1665.4,1056.6 1665.8,1053.6 1666.2,1053.9 1666.6,1054.0 1667.0,1055.3 1667.4,1056.1 1667.8,1055.1 1668.2,1055.8 1668.6,1055.2 1669.0,1056.2 1669.4,1054.3 1669.8,1053.0 1670.2,1055.8 1670.6,1054.0 1671.0,1052.1 1671.4,1054.1 1671.8,1054.5 1672.2,1050.8 1672.6,1049.5 1673.0,1053.4 1673.4,1054.1 1673.8,1054.5 1674.2,1057.5 1674.6,1055.7 1675.0,1054.8 1675.4,1054.3 1675.8,1053.3 1676.2,1053.7 1676.6,1055.2 1677.0,1054.5 1677.4,1053.5 1677.8,1055.0 1678.2,1055.7 1678.6,1052.5 1679.0,1049.4 1679.4,1051.0 1679.8,1053.0 1680.2,1054.3 1680.6,1054.8 1681.0,1057.2 1681.4,1057.7 1681.8,1055.7 1682.2,1054.0 1682.6,1053.9 1683.0,1055.3 1683.4,1055.0 1683.8,1054.1 1684.2,1054.3 1684.6,1056.8 1685.0,1055.2 1685.4,1050.6 1685.8,1053.0 1686.2,1057.0 1686.6,1055.8 1687.0,1054.4 1687.4,1057.7 1687.8,1057.8 1688.2,1053.3 1688.6,1053.3 1689.0,1055.6 1689.4,1055.3 1689.8,1053.9 1690.2,1054.9 1690.6,1054.7 1691.0,1054.6 1691.4,1055.1 1691.8,1053.6 1692.2,1053.7 1692.6,1053.4 1693.0,1054.4 1693.4,1054.6 1693.8,1052.9 1694.2,1051.7 1694.6,1051.6 1695.0,1052.4 1695.4,1055.1 1695.8,1056.7 1696.2,1055.3 1696.6,1052.9 1697.0,1050.3 1697.4,1052.2 1697.8,1051.8 1698.2,1053.3 1698.6,1054.4 1699.0,1053.0 1699.4,1053.8 1699.8,1053.3 1700.2,1053.8 1700.6,1053.2 1701.0,1052.8 1701.4,1055.6 1701.8,1055.8 1702.2,1054.7 1702.6,1054.3 1703.0,1054.4 1703.4,1055.8 1703.8,1055.3 1704.2,1051.8 1704.6,1051.9 1705.0,1053.6 1705.4,1053.9 1705.8,1054.3 1706.2,1056.0 1706.6,1054.8 1707.0,1051.8 1707.4,1054.7 1707.8,1054.7 1708.2,1054.3 1708.6,1055.5 1709.0,1052.1 1709.4,1052.7 1709.8,1056.7 1710.2,1055.8 1710.6,1051.9 1711.0,1052.4 1711.4,1052.7 1711.8,1051.4 1712.2,1053.3 1712.6,1052.4 1713.0,1049.6 1713.4,1050.5 1713.8,1052.7 1714.2,1051.7 1714.6,1050.7 1715.0,1052.7 1715.4,1053.4 1715.8,1051.7 1716.2,1051.0 1716.6,1051.8 1717.0,1052.7 1717.4,1052.4 1717.8,1050.8 1718.2,1050.9 1718.6,1052.3 1719.0,1053.2 1719.4,1055.7 1719.8,1056.9 1720.2,1056.2 1720.6,1055.0 1721.0,1053.9 1721.4,1054.5 1721.8,1054.7 1722.2,1054.5 1722.6,1054.7 1723.0,1055.7 1723.4,1057.0 1723.8,1059.6 1724.2,1060.2 1724.6,1056.9 1725.0,1056.7 1725.4,1056.0 1725.8,1055.8 1726.2,1057.1 1726.6,1058.6"/>
<polyline stroke="#000" stroke-width="7.8" points="171.0,1090.0 171.0,1047.9 171.4,1049.8 171.8,1050.8 172.2,1049.6 172.6,1049.5 173.0,1050.2 173.4,1050.1 173.8,1049.8 174.2,1049.1 174.6,1047.6 175.0,1049.5 175.4,1051.6 175.8,1051.0 176.2,1050.2 176.6,1049.8 177.0,1049.1 177.4,1049.9 177.8,1050.9 178.2,1050.2 178.6,1050.1 179.0,1050.6 179.4,1050.6 179.8,1050.4 180.2,1049.2 180.6,1049.1 181.0,1051.4 181.4,1050.9 181.8,1049.5 182.2,1050.7 182.6,1051.5 183.0,1051.4 183.4,1049.8 183.8,1049.7 184.2,1050.0 184.6,1049.1 185.0,1050.2 185.4,1050.5 185.8,1050.6 186.2,1052.3 186.6,1052.3 187.0,1051.3 187.4,1050.3 187.8,1049.5 188.2,1049.5 188.6,1049.6 189.0,1049.7 189.4,1049.6 189.8,1050.4 190.2,1050.3 190.6,1049.7 191.0,1049.5 191.4,1050.7 191.8,1051.7 192.2,1052.0 192.6,1052.6 193.0,1051.6 193.4,1051.4 193.8,1050.8 194.2,1051.9 194.6,1053.8 195.0,1052.3 195.4,1050.9 195.8,1051.3 196.2,1050.9 196.6,1050.1 197.0,1051.7 197.4,1052.2 197.8,1051.2 198.2,1051.7 198.6,1051.2 199.0,1050.7 199.4,1051.1 199.8,1050.4 200.2,1051.2 200.6,1051.3 201.0,1052.5 201.4,1052.9 201.8,1053.0 202.2,1052.6 202.6,1051.5 203.0,1051.3 203.4,1049.8 203.8,1050.6 204.2,1052.0 204.6,1051.2 205.0,1051.8 205.4,1052.4 205.8,1051.9 206.2,1053.0 206.6,1053.3 207.0,1051.9 207.4,1052.5 207.8,1054.1 208.2,1052.8 208.6,1051.8 209.0,1051.1 209.4,1051.0 209.8,1052.5 210.2,1053.2 210.6,1052.1 211.0,1051.9 211.4,1053.7 211.8,1053.8 212.2,1052.4 212.6,1053.5 213.0,1054.4 213.4,1053.7 213.8,1053.2 214.2,1052.4 214.6,1052.3 215.0,1053.1 215.4,1053.9 215.8,1054.5 216.2,1055.0 216.6,1055.0 217.0,1054.8 217.4,1054.1 217.8,1052.5 218.2,1052.8 218.6,1053.5 219.0,1053.3 219.4,1053.6 219.8,1053.0 220.2,1052.2 220.6,1052.9 221.0,1053.7 221.4,1053.5 221.8,1054.0 222.2,1054.7 222.6,1054.1 223.0,1054.7 223.4,1056.8 223.8,1056.4 224.2,1055.9 224.6,1057.3 225.0,1057.5 225.4,1056.0 225.8,1056.5 226.2,1057.2 226.6,1055.9 227.0,1055.7 227.4,1056.3 227.8,1056.5 228.2,1055.9 228.6,1056.7 229.0,1056.3 229.4,1054.6 229.8,1055.6 230.2,1056.7 230.6,1057.0 231.0,1055.9 231.4,1056.0 231.8,1057.1 232.2,1057.7 232.6,1056.7 233.0,1055.7 233.4,1056.3 233.8,1055.0 234.2,1054.5 234.6,1056.1 235.0,1056.1 235.4,1054.7 235.8,1055.5 236.2,1056.7 236.6,1056.8 236.6,1056.8 236.7,1056.9 236.8,1056.9 236.8,1056.7 236.9,1056.2 237.0,1055.8 237.0,1055.8 237.1,1055.3 237.2,1054.9 237.2,1054.7 237.3,1055.0 237.4,1055.2 237.4,1055.2 237.5,1055.4 237.6,1055.6 237.6,1055.9 237.7,1056.2 237.8,1056.5 237.8,1056.5 237.9,1056.8 238.0,1057.1 238.0,1057.1 238.1,1056.6 238.2,1056.2 238.2,1056.2 238.3,1055.8 238.4,1055.4 238.4,1055.1 238.5,1055.1 238.6,1055.1 238.6,1055.1 238.7,1055.1 238.8,1055.1 238.8,1055.4 238.9,1055.8 239.0,1056.3 239.0,1056.3 239.1,1056.7 239.2,1057.2 239.2,1057.5 239.3,1057.7 239.4,1057.9 239.4,1057.9 239.5,1058.1 239.6,1058.3 239.6,1058.1 239.7,1057.4 239.8,1056.7 239.8,1056.7 239.9,1056.0 240.0,1055.3 240.0,1054.8 240.1,1054.5 240.2,1054.2 240.2,1054.2 240.3,1054.0 240.4,1053.7 240.4,1053.7 240.5,1053.9 240.6,1054.1 240.6,1054.1 240.7,1054.3 240.8,1054.5 240.8,1054.7 240.9,1054.8 241.0,1054.9 241.0,1054.9 241.1,1055.0 241.2,1055.2 241.2,1055.4 241.3,1055.6 241.4,1055.9 241.4,1055.9 241.5,1056.1 241.6,1056.4 241.6,1056.6 241.7,1056.8 241.8,1057.0 241.8,1057.0 241.9,1057.3 242.0,1057.5 242.0,1057.5 242.1,1057.3 242.2,1057.1 242.2,1057.1 242.3,1056.9 242.4,1056.7 242.4,1056.6 242.5,1056.4 242.6,1056.3 242.6,1056.3 242.7,1056.1 242.8,1056.0 242.8,1056.0 242.9,1056.2 243.0,1056.4 243.0,1056.4 243.1,1056.6 243.2,1056.8 243.2,1056.7 243.3,1056.4 243.4,1056.1 243.4,1056.1 243.5,1055.7 243.6,1055.4 243.6,1055.3 243.7,1055.5 243.8,1055.7 243.8,1055.7 243.9,1055.8 244.0,1056.0 244.0,1056.0 244.1,1055.8 244.2,1055.6 244.2,1055.6 244.3,1055.4 244.4,1055.1 244.4,1055.4 244.5,1056.1 244.6,1056.7 244.6,1056.7 244.7,1057.4 244.8,1058.1 244.8,1058.3 244.9,1057.9 245.0,1057.4 245.0,1057.4 245.1,1057.0 245.2,1056.6 245.2,1056.1 245.3,1055.6 245.4,1055.1 245.4,1055.1 245.5,1054.6 245.6,1054.1 245.6,1053.8 245.7,1053.7 245.8,1053.5 245.8,1053.5 245.9,1053.3 246.0,1053.2 246.0,1053.1 246.1,1053.1 246.2,1053.0 246.2,1053.0 246.3,1053.0 246.4,1053.0 246.4,1052.7 246.5,1052.1 246.6,1051.6 246.6,1051.6 246.7,1051.0 246.8,1050.4 246.8,1050.0 246.9,1049.9 247.0,1049.7 247.0,1049.7 247.1,1049.5 247.2,1049.3 247.2,1048.9 247.3,1048.4 247.4,1047.8 247.4,1047.8 247.5,1047.2 247.6,1046.5 247.6,1046.0 247.7,1045.6 247.8,1045.2 247.8,1045.2 247.9,1044.7 248.0,1044.3 248.0,1043.5 248.1,1042.3 248.2,1041.3 248.2,1041.3 248.3,1040.4 248.4,1039.5 248.4,1038.9 248.5,1038.6 248.6,1038.5 248.6,1038.5 248.7,1038.5 248.8,1038.8 248.8,1039.1 248.9,1039.6 249.0,1040.2 249.0,1040.2 249.1,1040.9 249.2,1041.7 249.2,1042.5 249.3,1043.4 249.4,1044.3 249.4,1044.3 249.5,1045.1 249.6,1045.9 249.6,1046.8 249.7,1047.8 249.8,1048.7 249.8,1048.7 249.9,1049.5 250.0,1050.4 250.0,1051.0 250.1,1051.4 250.2,1051.8 250.2,1051.8 250.3,1052.1 250.4,1052.4 250.4,1052.9 250.5,1053.5 250.6,1054.2 250.6,1054.2 250.7,1054.7 250.8,1055.3 250.8,1055.4 250.9,1055.1 251.0,1054.8 251.0,1054.8 251.1,1054.5 251.2,1054.2 251.2,1054.3 251.3,1054.9 251.4,1055.4 251.4,1055.4 251.5,1055.9 251.6,1056.4 251.6,1056.6 251.7,1056.5 251.8,1056.3 251.8,1056.3 251.9,1056.2 252.0,1056.1 252.0,1056.0 252.1,1056.0 252.2,1055.9 252.2,1055.9 252.3,1055.9 252.4,1055.9 252.4,1055.6 252.5,1055.2 252.6,1054.7 252.6,1054.7 252.7,1054.2 252.8,1053.7 252.8,1053.6 252.9,1053.8 253.0,1054.1 253.0,1054.1 253.1,1054.3 253.2,1054.5 253.2,1054.9 253.3,1055.5 253.4,1056.0 253.4,1056.0 253.5,1056.6 253.6,1057.2 253.6,1057.6 253.7,1057.7 253.8,1057.9 253.8,1057.9 253.9,1058.1 254.0,1058.3 254.0,1058.2 254.1,1057.9 254.2,1057.6 254.2,1057.6 254.3,1057.3 254.4,1057.0 254.4,1057.0 254.5,1057.1 254.6,1057.3 254.6,1057.3 254.7,1057.4 254.8,1057.6 254.8,1057.5 254.9,1057.2 255.0,1057.0 255.0,1057.0 255.1,1056.7 255.2,1056.4 255.2,1056.3 255.3,1056.3 255.4,1056.3 255.4,1056.3 255.5,1056.4 255.6,1056.4 255.6,1056.4 255.7,1056.4 255.8,1056.3 255.8,1056.3 255.9,1056.3 256.0,1056.3 256.0,1056.5 256.1,1056.9 256.2,1057.4 256.2,1057.4 256.3,1057.8 256.4,1058.3 256.4,1058.5 256.5,1058.3 256.6,1058.2 256.6,1058.2 256.7,1058.0 256.8,1057.9 256.8,1057.8 256.9,1057.6 257.0,1057.5 257.0,1057.5 257.1,1057.4 257.2,1057.3 257.2,1057.2 257.3,1057.2 257.4,1057.2 257.4,1057.2 257.5,1057.2 257.6,1057.2 257.6,1057.3 257.7,1057.6 257.8,1057.8 257.8,1057.8 257.9,1058.0 258.0,1058.3 258.0,1058.4 258.1,1058.3 258.2,1058.3 258.2,1058.3 258.3,1058.2 258.4,1058.2 258.4,1058.0 258.5,1057.7 258.6,1057.4 258.6,1057.4 258.7,1057.1 258.8,1056.8 258.8,1056.9 258.9,1057.6 259.0,1058.3 259.0,1058.3 259.1,1059.0 259.2,1059.6 259.2,1059.7 259.3,1059.3 259.4,1058.9 259.4,1058.9 259.5,1058.5 259.6,1058.1 259.6,1057.9 259.7,1057.8 259.8,1057.7 259.8,1057.7 259.9,1057.6 260.0,1057.5 260.0,1057.6 260.1,1058.0 260.2,1058.3 260.2,1058.3 260.3,1058.7 260.4,1059.1 260.4,1059.2 260.5,1059.1 260.6,1058.9 260.6,1058.9 261.0,1057.9 261.4,1057.7 261.8,1057.1 262.2,1056.5 262.6,1055.9 263.0,1057.1 263.4,1057.3 263.8,1057.0 264.2,1057.6 264.6,1056.4 265.0,1056.7 265.4,1057.5 265.8,1057.9 266.2,1058.9 266.6,1058.8 267.0,1058.4 267.4,1057.9 267.8,1057.9 268.2,1058.4 268.6,1057.6 269.0,1057.4 269.4,1057.6 269.8,1057.7 270.2,1058.0 270.6,1057.6 271.0,1056.8 271.4,1057.7 271.8,1057.1 272.2,1056.3 272.6,1058.6 273.0,1057.6 273.4,1056.3 273.8,1058.1 274.2,1057.3 274.6,1058.1 275.0,1057.6 275.4,1057.0 275.8,1059.5 276.2,1059.2 276.6,1058.2 277.0,1058.0 277.4,1057.6 277.8,1058.0 278.2,1057.9 278.6,1057.2 279.0,1058.6 279.4,1058.0 279.8,1057.1 280.2,1057.8 280.6,1057.1 281.0,1057.7 281.4,1058.8 281.8,1057.0 282.2,1056.9 282.6,1057.5 283.0,1057.3 283.4,1058.1 283.8,1058.1 284.2,1058.7 284.6,1058.4 285.0,1058.1 285.0,1058.1 285.1,1058.5 285.2,1058.8 285.2,1058.9 285.3,1058.5 285.4,1058.2 285.4,1058.2 285.5,1057.9 285.6,1057.6 285.6,1057.5 285.7,1057.7 285.8,1057.9 285.8,1057.9 285.9,1058.0 286.0,1058.2 286.0,1058.1 286.1,1057.7 286.2,1057.4 286.2,1057.4 286.3,1057.0 286.4,1056.6 286.4,1056.4 286.5,1056.4 286.6,1056.4 286.6,1056.4 286.7,1056.5 286.8,1056.5 286.8,1056.4 286.9,1056.3 287.0,1056.2 287.0,1056.2 287.1,1056.0 287.2,1055.9 287.2,1056.0 287.3,1056.5 287.4,1056.9 287.4,1056.9 287.5,1057.4 287.6,1057.8 287.6,1058.1 287.7,1058.2 287.8,1058.3 287.8,1058.3 287.9,1058.3 288.0,1058.4 288.0,1058.6 288.1,1058.8 288.2,1059.1 288.2,1059.1 288.3,1059.4 288.4,1059.6 288.4,1059.7 288.5,1059.4 288.6,1059.2 288.6,1059.2 288.7,1058.9 288.8,1058.7 288.8,1058.4 288.9,1058.1 289.0,1057.8 289.0,1057.8 289.1,1057.5 289.2,1057.2 289.2,1057.0 289.3,1056.9 289.4,1056.8 289.4,1056.8 289.5,1056.7 289.6,1056.5 289.6,1056.5 289.7,1056.7 289.8,1056.9 289.8,1056.9 289.9,1057.1 290.0,1057.2 290.0,1057.3 290.1,1057.2 290.2,1057.1 290.2,1057.1 290.3,1057.0 290.4,1056.9 290.4,1057.1 290.5,1057.5 290.6,1057.9 290.6,1057.9 290.7,1058.3 290.8,1058.7 290.8,1058.9 290.9,1058.7 291.0,1058.6 291.0,1058.6 291.1,1058.5 291.2,1058.3 291.2,1058.0 291.3,1057.6 291.4,1057.1 291.4,1057.1 291.5,1056.6 291.6,1056.1 291.6,1055.9 291.7,1055.9 291.8,1055.9 291.8,1055.9 291.9,1055.8 292.0,1055.8 292.0,1056.1 292.1,1056.6 292.2,1057.0 292.2,1057.0 292.3,1057.5 292.4,1058.0 292.4,1058.0 292.5,1057.7 292.6,1057.4 292.6,1057.4 292.7,1057.0 292.8,1056.7 292.8,1056.4 292.9,1056.2 293.0,1056.0 293.0,1056.0 293.1,1055.8 293.2,1055.6 293.2,1055.7 293.3,1056.0 293.4,1056.3 293.4,1056.3 293.5,1056.6 293.6,1056.8 293.6,1056.7 293.7,1056.3 293.8,1055.8 293.8,1055.8 293.9,1055.3 294.0,1054.8 294.0,1054.6 294.1,1054.5 294.2,1054.4 294.2,1054.4 294.3,1054.4 294.4,1054.3 294.4,1054.2 294.5,1054.0 294.6,1053.8 294.6,1053.8 294.7,1053.6 294.8,1053.4 294.8,1053.1 294.9,1052.5 295.0,1052.0 295.0,1052.0 295.1,1051.4 295.2,1050.8 295.2,1050.7 295.3,1051.1 295.4,1051.4 295.4,1051.4 295.5,1051.8 295.6,1052.1 295.6,1051.7 295.7,1050.7 295.8,1049.7 295.8,1049.7 295.9,1048.7 296.0,1047.6 296.0,1046.8 296.1,1046.3 296.2,1045.7 296.2,1045.7 296.3,1045.1 296.4,1044.4 296.4,1043.7 296.5,1042.9 296.6,1042.1 296.6,1042.1 296.7,1041.4 296.8,1040.8 296.8,1040.5 296.9,1040.5 297.0,1040.7 297.0,1040.7 297.1,1041.1 297.2,1041.6 297.2,1042.1 297.3,1042.5 297.4,1042.9 297.4,1042.9 297.5,1043.5 297.6,1044.1 297.6,1044.7 297.7,1045.5 297.8,1046.3 297.8,1046.3 297.9,1047.0 298.0,1047.8 298.0,1048.2 298.1,1048.4 298.2,1048.6 298.2,1048.6 298.3,1048.7 298.4,1048.8 298.4,1049.3 298.5,1050.0 298.6,1050.8 298.6,1050.8 298.7,1051.5 298.8,1052.2 298.8,1052.6 298.9,1052.5 299.0,1052.4 299.0,1052.4 299.1,1052.3 299.2,1052.2 299.2,1052.5 299.3,1053.1 299.4,1053.7 299.4,1053.7 299.5,1054.4 299.6,1055.0 299.6,1055.4 299.7,1055.5 299.8,1055.7 299.8,1055.7 299.9,1055.9 300.0,1056.0 300.0,1056.1 300.1,1056.1 300.2,1056.2 300.2,1056.2 300.3,1056.2 300.4,1056.2 300.4,1056.5 300.5,1057.1 300.6,1057.8 300.6,1057.8 300.7,1058.4 300.8,1059.0 300.8,1059.1 300.9,1058.8 301.0,1058.6 301.0,1058.6 301.1,1058.2 301.2,1057.9 301.2,1057.8 301.3,1057.9 301.4,1057.9 301.4,1057.9 301.5,1058.0 301.6,1058.1 301.6,1058.1 301.7,1058.0 301.8,1057.9 301.8,1057.9 301.9,1057.8 302.0,1057.7 302.0,1057.7 302.1,1057.6 302.2,1057.6 302.2,1057.6 302.3,1057.5 302.4,1057.4 302.4,1057.5 302.5,1057.8 302.6,1058.1 302.6,1058.1 302.7,1058.4 302.8,1058.7 302.8,1058.8 302.9,1058.9 303.0,1058.9 303.0,1058.9 303.1,1058.9 303.2,1058.9 303.2,1058.6 303.3,1058.0 303.4,1057.4 303.4,1057.4 303.5,1056.7 303.6,1056.1 303.6,1056.0 303.7,1056.6 303.8,1057.2 303.8,1057.2 303.9,1057.7 304.0,1058.3 304.0,1058.5 304.1,1058.4 304.2,1058.2 304.2,1058.2 304.3,1058.1 304.4,1057.9 304.4,1057.9 304.5,1058.0 304.6,1058.0 304.6,1058.0 304.7,1058.2 304.8,1058.3 304.8,1058.3 304.9,1058.1 305.0,1058.0 305.0,1058.0 305.1,1057.9 305.2,1057.7 305.2,1057.5 305.3,1057.0 305.4,1056.6 305.4,1056.6 305.5,1056.2 305.6,1055.8 305.6,1055.6 305.7,1055.6 305.8,1055.6 305.8,1055.6 305.9,1055.7 306.0,1055.7 306.0,1056.1 306.1,1056.9 306.2,1057.7 306.2,1057.7 306.3,1058.5 306.4,1059.2 306.4,1059.4 306.5,1059.1 306.6,1058.7 306.6,1058.7 306.7,1058.3 306.8,1057.9 306.8,1057.5 306.9,1057.1 307.0,1056.7 307.0,1056.7 307.1,1056.3 307.2,1055.9 307.2,1055.9 307.3,1056.4 307.4,1056.9 307.4,1056.9 307.5,1057.3 307.6,1057.8 307.6,1057.9 307.7,1057.7 307.8,1057.5 307.8,1057.5 307.9,1057.3 308.0,1057.2 308.0,1056.9 308.1,1056.5 308.2,1056.1 308.2,1056.1 308.3,1055.7 308.4,1055.3 308.4,1055.0 308.5,1054.9 308.6,1054.8 308.6,1054.8 308.7,1054.7 308.8,1054.5 308.8,1054.5 308.9,1054.6 309.0,1054.7 309.4,1056.0 309.8,1056.6 310.2,1055.9 310.6,1055.7 311.0,1056.0 311.4,1054.5 311.8,1054.1 312.2,1055.2 312.6,1054.9 313.0,1055.3 313.4,1056.1 313.8,1056.3 314.2,1055.4 314.6,1055.2 315.0,1057.3 315.4,1057.0 315.8,1054.7 316.2,1055.4 316.6,1056.7 317.0,1056.7 317.4,1055.6 317.8,1055.8 318.2,1055.9 318.6,1054.5 319.0,1054.4 319.4,1054.8 319.8,1055.3 320.2,1055.5 320.6,1054.8 321.0,1054.8 321.4,1054.7 321.8,1054.5 322.2,1053.4 322.6,1051.7 323.0,1052.7 323.4,1052.6 323.8,1051.8 324.2,1052.6 324.6,1052.4 325.0,1052.1 325.4,1053.1 325.8,1051.8 326.2,1051.2 326.6,1053.2 327.0,1052.1 327.4,1050.3 327.8,1050.3 328.2,1050.9 328.6,1049.5 329.0,1048.2 329.4,1048.4 329.8,1048.4 330.2,1048.2 330.6,1047.8 331.0,1047.2 331.4,1046.5 331.8,1046.0 332.2,1045.3 332.6,1045.1 333.0,1044.9 333.4,1043.8 333.8,1043.9 334.2,1043.6 334.6,1041.3 335.0,1041.2 335.4,1040.7 335.8,1039.7 336.2,1039.4 336.6,1038.6 337.0,1038.0 337.4,1036.7 337.8,1035.6 338.2,1035.6 338.6,1033.4 339.0,1031.2 339.4,1030.9 339.8,1029.1 340.2,1027.0 340.6,1026.7 341.0,1025.5 341.4,1023.7 341.8,1022.1 342.2,1019.5 342.6,1017.3 343.0,1015.0 343.4,1012.7 343.8,1009.9 344.2,1006.8 344.6,1003.7 345.0,1000.5 345.4,996.9 345.8,992.6 346.2,988.2 346.6,983.5 347.0,978.3 347.4,972.5 347.5,971.0 347.6,969.8 347.7,968.5 347.7,967.2 347.8,966.2 347.8,965.9 347.9,964.5 348.0,963.1 348.1,961.7 348.1,960.3 348.2,959.2 348.2,958.9 348.3,957.4 348.4,955.9 348.5,954.3 348.5,952.8 348.6,951.6 348.6,951.2 348.7,949.5 348.8,947.8 348.9,946.1 348.9,944.3 349.0,943.0 349.0,942.5 349.1,940.7 349.2,938.8 349.3,936.8 349.3,934.8 349.4,933.3 349.4,932.7 349.5,930.6 349.6,928.4 349.7,926.3 349.7,924.1 349.8,922.4 349.8,921.8 349.9,919.5 350.0,917.2 350.1,914.7 350.1,912.1 350.2,910.1 350.2,909.4 350.3,906.7 350.4,903.9 350.5,901.1 350.5,898.2 350.6,896.1 350.6,895.3 350.7,892.3 350.8,889.3 350.9,886.1 350.9,882.7 351.0,880.2 351.0,879.3 351.1,875.8 351.2,872.1 351.3,868.4 351.3,864.6 351.4,861.7 351.4,860.7 351.5,856.6 351.6,852.5 351.7,848.2 351.7,843.7 351.8,840.3 351.8,839.2 351.9,834.5 352.0,829.6 352.1,824.6 352.1,819.4 352.2,815.4 352.2,814.1 352.3,808.6 352.4,802.8 352.5,797.0 352.5,791.0 352.6,786.4 352.6,784.8 352.7,778.4 352.8,771.8 352.9,764.9 352.9,757.7 353.0,752.2 353.0,750.3 353.1,742.6 353.2,734.6 353.3,726.4 353.3,717.8 353.4,711.2 353.4,708.9 353.5,699.7 353.6,690.1 353.7,680.0 353.7,669.5 353.8,661.3 353.8,658.5 353.9,647.1 354.0,635.3 354.1,623.0 354.1,610.3 354.2,600.4 354.2,597.0 354.3,583.1 354.4,568.6 354.5,553.3 354.5,537.3 354.6,524.7 354.6,520.5 354.7,502.9 354.8,484.5 354.9,465.2 354.9,445.0 355.0,429.2 355.0,423.8 355.1,401.4 355.2,377.9 355.3,353.1 355.3,326.9 355.4,306.3 355.4,299.3 355.5,270.1 355.6,239.3 355.7,206.8 355.7,172.4 355.8,145.3 355.8,136.0 355.9,97.3 356.0,56.2 356.1,12.5 356.1,-34.1 356.2,-50.0 356.2,-50.0 356.3,-50.0 356.4,-50.0 356.5,-50.0 356.5,-50.0 356.6,-50.0 356.6,-50.0 356.7,-50.0 356.8,-50.0 356.9,-50.0 356.9,-50.0 357.0,-50.0 357.0,-50.0 357.1,-50.0 357.2,-50.0 357.3,-50.0 357.3,-50.0 357.4,-50.0 357.4,-50.0 357.5,-50.0 357.6,-50.0 357.7,-50.0 357.7,-50.0 357.8,-50.0 357.8,-50.0 357.9,-50.0 358.0,-50.0 358.1,-50.0 358.1,-50.0 358.2,-50.0 358.2,-50.0 358.3,-50.0 358.4,-50.0 358.5,-50.0 358.5,-50.0 358.6,-50.0 358.6,-50.0 358.7,-50.0 358.8,-50.0 358.9,-50.0 358.9,-50.0 359.0,-50.0 359.0,-50.0 359.1,-50.0 359.2,-50.0 359.3,-50.0 359.3,-50.0 359.4,-50.0 359.4,-50.0 359.5,-50.0 359.6,-50.0 359.7,-50.0 359.7,-50.0 359.8,-50.0 359.8,-50.0 359.9,-50.0 360.0,-50.0 360.1,-50.0 360.1,-50.0 360.2,-50.0 360.2,-50.0 360.3,-50.0 360.4,-50.0 360.5,-50.0 360.5,-50.0 360.6,-50.0 360.6,-50.0 360.7,-50.0 360.8,-50.0 360.9,-50.0 360.9,-50.0 361.0,-50.0 361.0,-50.0 361.1,-50.0 361.2,-50.0 361.3,-50.0 361.3,-50.0 361.4,-50.0 361.4,-50.0 361.5,-50.0 361.6,-50.0 361.7,-50.0 361.7,-50.0 361.8,-50.0 361.8,-50.0 361.9,-50.0 362.0,-50.0 362.1,-50.0 362.1,-50.0 362.2,-50.0 362.2,-50.0 362.3,-50.0 362.4,-50.0 362.5,-50.0 362.5,-50.0 362.6,-50.0 362.6,-50.0 362.7,-50.0 362.8,-50.0 362.9,-33.9 362.9,12.6 363.0,45.7 363.0,56.4 363.1,97.5 363.2,136.3 363.3,172.8 363.3,207.2 363.4,231.8 363.4,239.7 363.5,270.5 363.6,299.5 363.7,327.1 363.7,353.2 363.8,371.9 363.8,378.0 363.9,401.5 364.0,423.9 364.1,445.2 364.1,465.5 364.2,480.1 364.2,484.9 364.3,503.3 364.4,520.9 364.5,537.6 364.5,553.6 364.6,565.0 364.6,568.8 364.7,583.3 364.8,597.3 364.9,610.6 364.9,623.4 365.0,632.7 365.0,635.7 365.1,647.5 365.2,658.8 365.3,669.6 365.3,680.1 365.4,687.6 365.4,690.1 365.5,699.7 365.6,709.0 365.7,718.0 365.7,726.6 365.8,732.8 365.8,734.9 365.9,742.9 366.0,750.6 366.1,758.1 366.1,765.3 366.2,770.6 366.2,772.3 366.3,779.0 366.4,785.6 366.5,791.8 366.5,797.9 366.6,802.3 366.6,803.7 366.7,809.4 366.8,814.9 366.9,820.1 366.9,825.3 367.0,829.0 367.0,830.2 367.1,835.0 367.2,839.7 367.3,844.2 367.3,848.6 367.4,851.8 367.4,852.9 367.5,857.0 367.6,861.1 367.7,865.0 367.7,868.8 367.8,871.5 367.8,872.5 367.9,876.0 368.0,879.5 368.1,882.9 368.1,886.2 368.2,888.6 368.2,889.4 368.3,892.5 368.4,895.5 368.5,898.5 368.5,901.5 368.6,903.7 368.6,904.4 368.7,907.2 368.8,909.9 368.9,912.5 368.9,915.1 369.0,916.9 369.0,917.5 369.1,919.9 369.2,922.3 369.3,924.6 369.3,926.9 369.4,928.6 369.4,929.1 369.5,931.3 369.6,933.5 369.7,935.5 369.7,937.4 369.8,938.8 369.8,939.3 369.9,941.1 370.0,942.9 370.1,944.7 370.1,946.5 370.2,947.8 370.2,948.3 370.3,950.0 370.4,951.7 370.5,953.4 370.5,955.0 370.6,956.2 370.6,956.6 370.7,958.1 370.8,959.6 370.9,961.1 370.9,962.5 371.0,963.5 371.0,963.9 371.1,965.2 371.2,966.5 371.3,967.8 371.3,969.1 371.4,970.0 371.4,970.3 371.8,976.0 372.2,981.5 372.6,986.6 373.0,991.2 373.4,995.4 373.8,999.4 374.2,1002.9 374.6,1006.0 375.0,1008.9 375.4,1011.8 375.8,1014.7 376.2,1017.0 376.6,1019.1 377.0,1021.2 377.4,1022.6 377.8,1024.3 378.2,1026.8 378.6,1028.9 379.0,1030.6 379.4,1031.7 379.8,1032.6 380.2,1034.2 380.6,1035.3 381.0,1035.5 381.4,1036.1 381.8,1037.5 382.2,1038.2 382.6,1039.4 383.0,1041.3 383.4,1041.6 383.8,1042.8 384.2,1043.5 384.6,1043.1 385.0,1043.8 385.4,1044.4 385.8,1045.6 386.2,1046.8 386.6,1048.1 387.0,1048.9 387.4,1048.7 387.8,1048.6 388.2,1047.8 388.6,1048.1 389.0,1048.8 389.4,1049.8 389.8,1050.6 390.2,1051.4 390.6,1052.3 391.0,1052.3 391.4,1052.5 391.8,1052.7 392.2,1053.5 392.6,1054.4 393.0,1054.0 393.4,1054.0 393.8,1055.9 394.2,1055.7 394.6,1054.3 395.0,1054.1 395.4,1053.5 395.8,1054.7 396.2,1055.6 396.6,1055.2 397.0,1056.5 397.4,1057.9 397.8,1056.6 398.2,1056.3 398.6,1057.6 399.0,1057.5 399.4,1057.6 399.8,1057.4 400.2,1058.1 400.6,1058.5 401.0,1057.9 401.4,1058.5 401.8,1059.1 402.2,1058.9 402.6,1058.9 403.0,1059.9 403.4,1060.1 403.8,1059.0 404.2,1058.2 404.6,1058.1 405.0,1058.0 405.4,1058.4 405.8,1059.3 406.2,1058.2 406.6,1058.2 407.0,1060.2 407.4,1060.5 407.8,1059.7 408.2,1060.6 408.6,1060.8 409.0,1059.3 409.4,1059.0 409.8,1059.7 410.2,1061.0 410.6,1061.9 411.0,1061.6 411.4,1060.4 411.8,1060.0 412.2,1060.2 412.6,1060.5 413.0,1059.7 413.4,1059.7 413.8,1061.0 414.2,1060.8 414.6,1060.7 415.0,1060.3 415.4,1059.3 415.8,1059.7 416.2,1061.5 416.6,1062.6 417.0,1061.6 417.4,1061.6 417.8,1061.6 418.2,1061.8 418.6,1062.2 419.0,1061.0 419.4,1061.2 419.8,1061.0 420.2,1059.9 420.6,1059.5 421.0,1060.2 421.4,1061.0 421.8,1060.8 422.2,1060.6 422.6,1061.7 423.0,1061.8 423.4,1060.6 423.8,1061.7 424.2,1063.2 424.6,1062.6 425.0,1060.5 425.4,1059.9 425.8,1061.4 426.2,1062.0 426.6,1062.8 427.0,1062.1 427.4,1061.6 427.8,1062.2 428.2,1062.7 428.6,1063.0 429.0,1062.8 429.4,1062.3 429.8,1060.7 430.2,1060.4 430.6,1060.9 431.0,1061.1 431.4,1062.3 431.8,1063.9 432.2,1063.3 432.6,1061.7 433.0,1061.3 433.4,1061.5 433.8,1062.6 434.2,1063.3 434.6,1062.7 435.0,1062.3 435.4,1060.7 435.8,1060.4 436.2,1060.8 436.6,1061.5 437.0,1062.1 437.4,1061.3 437.8,1060.9 438.2,1062.5 438.6,1062.1 439.0,1060.6 439.4,1061.2 439.8,1061.4 440.2,1061.3 440.6,1062.0 441.0,1063.3 441.4,1061.7 441.8,1060.6 442.2,1061.8 442.6,1061.9 443.0,1061.8 443.4,1061.8 443.8,1062.7 444.2,1062.7 444.6,1062.0 445.0,1062.4 445.4,1062.5 445.8,1062.3 446.2,1062.8 446.6,1062.8 447.0,1062.2 447.4,1062.1 447.8,1061.5 448.2,1061.2 448.6,1061.4 449.0,1062.3 449.4,1062.6 449.8,1061.8 450.2,1062.5 450.6,1063.6 451.0,1062.3 451.4,1063.1 451.8,1064.2 452.2,1062.9 452.6,1063.3 453.0,1063.1 453.4,1061.8 453.8,1063.1 454.2,1062.9 454.6,1061.5 455.0,1063.0 455.4,1062.5 455.8,1061.9 456.2,1062.8 456.6,1064.3 457.0,1063.3 457.4,1061.8 457.8,1062.8 458.2,1062.9 458.6,1061.7 459.0,1061.9 459.4,1062.8 459.8,1062.9 460.2,1063.6 460.6,1064.1 461.0,1063.5 461.4,1063.0 461.8,1061.9 462.2,1061.7 462.6,1062.7 463.0,1062.7 463.4,1062.9 463.8,1062.7 464.2,1063.7 464.6,1065.5 465.0,1064.0 465.4,1062.6 465.8,1062.6 466.2,1063.1 466.6,1063.7 467.0,1063.1 467.4,1062.8 467.8,1062.9 468.2,1062.4 468.6,1062.8 469.0,1063.0 469.4,1063.1 469.8,1063.9 470.2,1064.6 470.6,1064.7 471.0,1064.8 471.4,1064.2 471.8,1063.8 472.2,1064.0 472.6,1063.4 473.0,1063.4 473.4,1063.8 473.8,1062.3 474.2,1061.9 474.6,1062.3 475.0,1063.0 475.4,1062.8 475.8,1061.4 476.2,1061.8 476.6,1063.6 477.0,1063.9 477.4,1062.8 477.8,1063.2 478.2,1061.8 478.6,1061.8 479.0,1063.4 479.4,1063.5 479.8,1063.8 480.2,1063.8 480.6,1063.2 481.0,1063.2 481.4,1063.4 481.8,1064.9 482.2,1064.8 482.6,1063.6 483.0,1062.9 483.4,1062.2 483.8,1063.5 484.2,1063.3 484.6,1061.7 485.0,1062.5 485.4,1062.9 485.8,1064.4 486.2,1063.4 486.6,1062.5 487.0,1064.4 487.4,1063.4 487.8,1062.4 488.2,1063.3 488.6,1064.8 489.0,1063.9 489.4,1061.8 489.8,1063.0 490.2,1065.1 490.6,1064.3 491.0,1061.9 491.4,1063.1 491.8,1064.5 492.2,1064.4 492.6,1064.5 493.0,1063.5 493.4,1063.2 493.8,1064.3 494.2,1065.5 494.6,1063.2 495.0,1061.6 495.4,1064.3 495.8,1064.8 496.2,1062.8 496.6,1063.1 497.0,1063.8 497.4,1063.7 497.8,1063.4 498.2,1063.3 498.6,1063.4 499.0,1063.8 499.4,1063.5 499.8,1063.1 500.2,1063.5 500.6,1064.5 501.0,1065.0 501.4,1064.2 501.8,1064.4 502.2,1064.8 502.6,1065.1 503.0,1065.1 503.4,1065.3 503.8,1065.7 504.2,1064.2 504.6,1062.9 505.0,1063.3 505.4,1063.8 505.8,1063.0 506.2,1061.5 506.6,1060.4 507.0,1061.7 507.4,1063.6 507.8,1064.1 508.2,1063.0 508.6,1063.4 509.0,1064.2 509.4,1064.0 509.8,1064.8 510.2,1064.1 510.6,1063.4 511.0,1062.5 511.4,1062.0 511.8,1061.8 512.2,1062.4 512.6,1063.4 513.0,1063.7 513.4,1063.9 513.8,1063.0 514.2,1063.2 514.6,1063.6 515.0,1063.8 515.4,1064.3 515.8,1063.2 516.2,1063.0 516.6,1063.7 517.0,1063.6 517.4,1064.3 517.8,1065.7 518.2,1065.0 518.6,1063.7 519.0,1062.4 519.4,1062.5 519.8,1063.4 520.2,1061.8 520.6,1062.1 521.0,1063.8 521.4,1063.0 521.8,1062.4 522.2,1062.4 522.6,1063.2 523.0,1062.9 523.4,1062.2 523.8,1064.4 524.2,1064.5 524.6,1063.4 525.0,1063.1 525.4,1061.9 525.8,1062.0 526.2,1063.1 526.6,1062.6 527.0,1062.7 527.4,1064.5 527.8,1065.2 528.2,1063.5 528.6,1062.2 529.0,1062.2 529.4,1063.4 529.8,1064.7 530.2,1064.3 530.6,1063.3 531.0,1062.1 531.4,1062.9 531.8,1064.1 532.2,1063.8 532.6,1064.2 533.0,1065.4 533.4,1065.5 533.8,1064.4 534.2,1062.7 534.6,1063.1 535.0,1064.4 535.4,1064.3 535.8,1063.8 536.2,1063.6 536.6,1064.5 537.0,1065.1 537.4,1064.8 537.8,1064.3 538.2,1063.8 538.6,1064.6 539.0,1064.3 539.4,1063.3 539.8,1063.8 540.2,1065.5 540.6,1065.9 541.0,1066.1 541.4,1065.8 541.8,1064.5 542.2,1063.6 542.6,1063.4 543.0,1065.3 543.4,1066.0 543.8,1065.5 544.2,1065.8 544.6,1065.2 545.0,1064.5 545.4,1064.5 545.8,1064.9 546.2,1065.1 546.6,1065.0 547.0,1064.9 547.4,1064.3 547.8,1064.2 548.2,1064.3 548.6,1065.3 549.0,1064.7 549.4,1064.0 549.8,1066.8 550.2,1066.7 550.6,1064.5 551.0,1064.7 551.4,1066.2 551.8,1066.0 552.2,1065.4 552.6,1065.5 553.0,1064.7 553.4,1066.1 553.8,1066.5 554.2,1064.8 554.6,1064.5 555.0,1065.1 555.4,1065.6 555.8,1065.8 556.2,1065.6 556.6,1064.2 557.0,1064.5 557.4,1065.2 557.8,1064.7 558.2,1064.0 558.6,1063.9 559.0,1064.6 559.4,1065.2 559.8,1064.9 560.2,1065.1 560.6,1066.0 561.0,1065.1 561.4,1064.4 561.8,1064.2 562.2,1064.9 562.6,1063.7 563.0,1062.6 563.4,1062.6 563.8,1062.3 564.2,1063.5 564.6,1063.0 565.0,1062.1 565.4,1061.6 565.6,1060.7 565.7,1061.3 565.8,1061.9 565.8,1062.2 565.8,1062.5 565.9,1063.1 566.0,1063.7 566.1,1063.3 566.2,1063.0 566.2,1062.8 566.2,1062.7 566.3,1062.3 566.4,1062.0 566.5,1062.0 566.6,1061.9 566.6,1061.9 566.6,1061.9 566.7,1061.9 566.8,1061.8 566.9,1061.2 567.0,1060.5 567.0,1060.2 567.0,1059.9 567.1,1059.2 567.2,1058.6 567.3,1058.6 567.4,1058.6 567.4,1058.5 567.4,1058.5 567.5,1058.5 567.6,1058.5 567.7,1058.9 567.8,1059.4 567.8,1059.6 567.8,1059.8 567.9,1060.2 568.0,1060.6 568.1,1060.2 568.2,1059.8 568.2,1059.6 568.2,1059.4 568.3,1059.0 568.4,1058.6 568.5,1058.5 568.6,1058.3 568.6,1058.2 568.6,1058.2 568.6,1058.2 568.7,1058.1 568.7,1058.0 568.8,1057.9 568.8,1057.8 568.8,1057.8 568.9,1057.8 568.9,1057.8 569.0,1057.8 569.0,1057.8 569.0,1057.8 569.0,1057.8 569.1,1057.8 569.1,1057.7 569.2,1057.7 569.2,1057.7 569.2,1057.4 569.3,1057.1 569.3,1056.9 569.4,1056.6 569.4,1056.3 569.4,1056.3 569.4,1056.1 569.5,1055.8 569.5,1055.5 569.6,1055.2 569.6,1054.9 569.6,1055.1 569.7,1055.2 569.7,1055.3 569.8,1055.4 569.8,1055.5 569.8,1055.5 569.8,1055.6 569.9,1055.7 569.9,1055.8 570.0,1055.9 570.0,1056.0 570.0,1055.8 570.1,1055.5 570.1,1055.3 570.2,1055.1 570.2,1054.9 570.2,1054.9 570.2,1054.6 570.3,1054.4 570.3,1054.2 570.4,1054.0 570.4,1053.7 570.4,1053.6 570.5,1053.5 570.5,1053.4 570.6,1053.2 570.6,1053.1 570.6,1053.1 570.6,1053.0 570.7,1052.8 570.7,1052.7 570.8,1052.6 570.8,1052.4 570.8,1052.1 570.9,1051.8 570.9,1051.4 571.0,1051.1 571.0,1050.8 571.0,1050.8 571.0,1050.4 571.1,1050.1 571.1,1049.8 571.2,1049.4 571.2,1049.1 571.2,1048.9 571.3,1048.8 571.3,1048.7 571.4,1048.5 571.4,1048.3 571.4,1048.3 571.4,1048.2 571.5,1048.0 571.5,1047.8 571.6,1047.6 571.6,1047.4 571.6,1047.0 571.7,1046.5 571.7,1046.1 571.8,1045.6 571.8,1045.1 571.8,1045.1 571.8,1044.6 571.9,1044.1 571.9,1043.6 572.0,1043.1 572.0,1042.6 572.0,1042.3 572.1,1042.0 572.1,1041.6 572.2,1041.2 572.2,1040.9 572.2,1040.9 572.2,1040.5 572.3,1040.0 572.3,1039.6 572.4,1039.1 572.4,1038.6 572.4,1037.9 572.5,1037.2 572.5,1036.5 572.6,1035.8 572.6,1035.0 572.6,1035.0 572.6,1034.1 572.7,1033.3 572.7,1032.4 572.8,1031.5 572.8,1030.5 572.8,1029.5 572.9,1028.4 572.9,1027.2 573.0,1026.1 573.0,1024.8 573.0,1024.8 573.0,1023.5 573.1,1022.2 573.1,1020.8 573.2,1019.4 573.2,1017.9 573.2,1016.3 573.3,1014.6 573.3,1012.9 573.4,1011.2 573.4,1009.3 573.4,1009.3 573.4,1007.4 573.5,1005.4 573.5,1003.3 573.6,1001.1 573.6,998.9 573.6,996.6 573.7,994.2 573.7,991.7 573.8,989.1 573.8,986.5 573.8,986.5 573.8,983.7 573.9,980.8 573.9,977.8 574.0,974.7 574.0,971.5 574.0,968.1 574.1,964.6 574.1,961.0 574.2,957.3 574.2,953.4 574.2,953.4 574.2,949.5 574.3,945.3 574.3,941.1 574.4,936.7 574.4,932.2 574.4,927.7 574.5,923.0 574.5,918.1 574.6,913.2 574.6,908.1 574.6,908.1 574.6,902.8 574.7,897.4 574.7,891.8 574.8,886.2 574.8,880.3 574.8,874.3 574.9,868.1 574.9,861.8 575.0,855.3 575.0,848.7 575.0,848.7 575.0,841.9 575.1,835.0 575.1,828.0 575.2,820.8 575.2,813.5 575.2,806.1 575.3,798.6 575.3,790.9 575.4,783.1 575.4,775.2 575.4,775.2 575.4,767.2 575.5,759.0 575.5,750.8 575.6,742.5 575.6,734.0 575.6,725.5 575.7,716.8 575.7,708.1 575.8,699.4 575.8,690.5 575.8,690.5 575.8,681.6 575.9,672.7 575.9,663.7 576.0,654.7 576.0,645.6 576.0,636.6 576.1,627.5 576.1,618.4 576.2,609.4 576.2,600.4 576.2,600.4 576.2,591.4 576.3,582.4 576.3,573.5 576.4,564.7 576.4,556.0 576.4,547.4 576.5,538.9 576.5,530.5 576.6,522.3 576.6,514.2 576.6,514.2 576.6,506.3 576.7,498.5 576.7,491.0 576.8,483.6 576.8,476.5 576.8,469.6 576.9,462.9 576.9,456.6 577.0,450.5 577.0,444.6 577.0,444.6 577.0,439.1 577.1,433.9 577.1,429.1 577.2,424.6 577.2,420.4 577.2,416.6 577.3,413.1 577.3,410.1 577.4,407.4 577.4,405.2 577.4,405.2 577.4,403.3 577.5,401.9 577.5,400.8 577.6,400.2 577.6,400.0 577.6,400.2 577.7,400.8 577.7,401.8 577.8,403.3 577.8,405.1 577.8,405.1 577.8,407.4 577.9,410.0 577.9,413.1 578.0,416.5 578.0,420.3 578.0,424.5 578.1,429.0 578.1,433.9 578.2,439.1 578.2,444.6 578.2,444.6 578.2,450.5 578.3,456.6 578.3,463.0 578.4,469.6 578.4,476.6 578.4,483.7 578.5,491.1 578.5,498.7 578.6,506.5 578.6,514.5 578.6,514.5 578.6,522.7 578.7,530.9 578.7,539.4 578.8,547.9 578.8,556.6 578.8,565.2 578.9,574.0 578.9,582.9 579.0,591.8 579.0,600.7 579.0,600.7 579.0,609.7 579.1,618.7 579.1,627.7 579.2,636.7 579.2,645.8 579.2,654.8 579.3,663.9 579.3,672.9 579.4,681.9 579.4,690.8 579.4,690.8 579.4,699.7 579.5,708.5 579.5,717.3 579.6,725.9 579.6,734.5 579.6,742.9 579.7,751.3 579.7,759.5 579.8,767.6 579.8,775.6 579.8,775.6 579.8,783.5 579.9,791.3 579.9,798.9 580.0,806.4 580.0,813.8 580.0,821.1 580.1,828.3 580.1,835.3 580.2,842.1 580.2,848.9 580.2,848.9 580.2,855.4 580.3,861.9 580.3,868.2 580.4,874.3 580.4,880.3 580.4,886.2 580.5,892.0 580.5,897.6 580.6,903.1 580.6,908.4 580.6,908.4 580.6,913.6 580.7,918.6 580.7,923.5 580.8,928.3 580.8,932.9 580.8,937.4 580.9,941.8 580.9,946.0 581.0,950.0 581.0,954.0 581.0,954.0 581.0,957.8 581.1,961.5 581.1,965.1 581.2,968.5 581.2,971.9 581.2,975.1 581.3,978.1 581.3,981.1 581.4,983.9 581.4,986.7 581.4,986.7 581.4,989.3 581.5,991.9 581.5,994.3 581.6,996.7 581.6,998.9 581.6,1001.2 581.7,1003.4 581.7,1005.5 581.8,1007.5 581.8,1009.5 581.8,1009.5 581.8,1011.4 581.9,1013.3 581.9,1015.1 582.0,1016.9 582.0,1018.6 582.0,1020.1 582.1,1021.4 582.1,1022.7 582.2,1024.0 582.2,1025.2 582.2,1025.2 582.2,1026.3 582.3,1027.3 582.3,1028.3 582.4,1029.3 582.4,1030.2 582.4,1031.3 582.5,1032.4 582.5,1033.4 582.6,1034.4 582.6,1035.3 582.6,1035.3 582.6,1036.3 582.7,1037.2 582.7,1038.0 582.8,1038.9 582.8,1039.7 582.8,1040.2 582.9,1040.7 582.9,1041.2 583.0,1041.6 583.0,1042.0 583.0,1042.0 583.0,1042.4 583.1,1042.8 583.1,1043.1 583.2,1043.4 583.2,1043.7 583.2,1044.0 583.3,1044.4 583.3,1044.7 583.4,1044.9 583.4,1045.2 583.4,1045.2 583.4,1045.5 583.5,1045.7 583.5,1045.9 583.6,1046.2 583.6,1046.4 583.6,1046.9 583.7,1047.4 583.7,1047.9 583.8,1048.4 583.8,1048.8 583.8,1048.8 583.8,1049.3 583.9,1049.8 583.9,1050.2 584.0,1050.7 584.0,1051.2 584.0,1051.4 584.1,1051.7 584.1,1052.0 584.2,1052.3 584.2,1052.5 584.2,1052.5 584.2,1052.8 584.3,1053.1 584.3,1053.3 584.4,1053.6 584.4,1053.8 584.4,1054.1 584.5,1054.4 584.5,1054.8 584.6,1055.1 584.6,1055.4 584.6,1055.4 584.6,1055.7 584.7,1056.0 584.7,1056.3 584.8,1056.6 584.8,1056.9 584.8,1057.0 584.9,1057.1 584.9,1057.2 585.0,1057.4 585.0,1057.5 585.0,1057.5 585.0,1057.6 585.1,1057.7 585.1,1057.8 585.2,1057.9 585.2,1058.0 585.2,1058.1 585.3,1058.1 585.3,1058.1 585.4,1058.2 585.4,1058.2 585.4,1058.2 585.4,1058.2 585.5,1058.2 585.5,1058.2 585.6,1058.2 585.6,1058.2 585.6,1058.2 585.7,1058.2 585.7,1058.3 585.8,1058.3 585.8,1058.3 585.8,1058.3 585.8,1058.3 585.9,1058.3 585.9,1058.3 586.0,1058.3 586.0,1058.3 586.0,1058.3 586.1,1058.4 586.1,1058.4 586.2,1058.5 586.2,1058.5 586.2,1058.5 586.2,1058.5 586.3,1058.6 586.3,1058.6 586.4,1058.7 586.4,1058.7 586.4,1058.8 586.5,1058.9 586.5,1059.0 586.6,1059.0 586.6,1059.1 586.6,1059.1 586.6,1059.2 586.7,1059.3 586.7,1059.4 586.8,1059.4 586.8,1059.5 586.8,1059.5 586.9,1059.5 586.9,1059.5 587.0,1059.5 587.0,1059.4 587.0,1059.4 587.0,1059.4 587.1,1059.4 587.1,1059.4 587.2,1059.4 587.2,1059.3 587.2,1059.5 587.3,1059.6 587.3,1059.7 587.4,1059.8 587.4,1059.9 587.4,1059.9 587.4,1060.0 587.5,1060.1 587.5,1060.2 587.6,1060.3 587.6,1060.4 587.6,1060.2 587.7,1060.0 587.7,1059.8 587.8,1059.7 587.8,1059.5 587.8,1059.5 587.8,1059.3 587.9,1059.1 587.9,1059.0 588.0,1058.8 588.0,1058.6 588.0,1058.9 588.1,1059.3 588.1,1059.6 588.2,1059.9 588.2,1060.2 588.2,1060.2 588.2,1060.5 588.3,1060.9 588.3,1061.2 588.4,1061.5 588.4,1061.8 588.4,1061.9 588.5,1061.9 588.5,1061.9 588.6,1062.0 588.6,1062.0 588.6,1062.0 588.6,1062.0 588.7,1062.1 588.7,1062.1 588.8,1062.1 588.8,1062.1 588.8,1062.4 588.9,1062.8 588.9,1063.1 589.0,1063.4 589.0,1063.7 589.0,1063.7 589.0,1064.0 589.1,1064.3 589.1,1064.6 589.2,1064.9 589.2,1065.2 589.2,1065.1 589.3,1065.0 589.3,1064.9 589.4,1064.7 589.4,1064.6 589.4,1064.6 589.4,1064.5 589.5,1064.3 589.5,1064.2 589.6,1064.1 589.6,1063.8 589.7,1063.6 589.8,1063.4 589.8,1063.4 589.9,1063.1 590.0,1062.9 590.0,1062.9 590.1,1063.2 590.2,1063.5 590.2,1063.5 590.3,1063.7 590.4,1064.0 590.4,1064.0 590.5,1063.6 590.6,1063.2 590.6,1063.2 590.7,1062.8 590.8,1062.3 590.8,1062.2 590.9,1062.4 591.0,1062.6 591.0,1062.6 591.1,1062.7 591.2,1062.9 591.2,1062.9 591.3,1062.6 591.4,1062.3 591.4,1062.3 591.5,1062.0 591.6,1061.7 591.6,1062.0 591.7,1062.8 591.8,1063.7 591.8,1063.7 591.9,1064.5 592.0,1065.3 592.0,1065.6 592.1,1065.5 592.2,1065.3 592.2,1065.3 592.3,1065.1 592.4,1065.0 592.4,1064.7 592.5,1064.3 592.6,1063.9 593.0,1063.7 593.4,1065.0 593.8,1065.4 594.2,1065.2 594.6,1064.6 595.0,1064.2 595.4,1064.9 595.8,1066.1 596.2,1065.7 596.6,1064.5 597.0,1065.6 597.4,1065.5 597.8,1064.9 598.2,1065.1 598.6,1064.5 599.0,1065.0 599.4,1064.6 599.8,1063.8 600.2,1062.7 600.6,1061.7 601.0,1062.5 601.4,1063.6 601.8,1063.9 602.2,1064.1 602.6,1063.4 603.0,1062.1 603.4,1062.5 603.8,1062.2 604.2,1061.4 604.6,1060.6 605.0,1060.9 605.4,1060.6 605.8,1060.0 606.2,1059.5 606.6,1059.7 607.0,1059.8 607.4,1059.8 607.8,1059.6 608.2,1058.9 608.6,1060.5 609.0,1060.0 609.4,1059.0 609.8,1058.7 610.2,1056.9 610.6,1056.8 611.0,1057.8 611.4,1056.6 611.8,1056.3 612.2,1056.0 612.6,1054.7 613.0,1054.7 613.4,1054.5 613.8,1055.2 614.2,1054.2 614.6,1053.0 615.0,1053.9 615.4,1052.0 615.8,1050.2 616.2,1051.2 616.6,1051.3 617.0,1050.7 617.4,1050.9 617.8,1049.7 618.2,1047.8 618.6,1046.1 619.0,1045.8 619.4,1045.6 619.8,1044.8 620.2,1044.5 620.6,1042.8 621.0,1042.6 621.4,1042.7 621.8,1041.2 622.2,1039.1 622.6,1037.3 623.0,1036.3 623.4,1035.0 623.8,1033.4 624.2,1032.3 624.6,1031.3 625.0,1029.8 625.4,1027.9 625.8,1026.7 626.2,1025.3 626.6,1022.7 627.0,1020.9 627.4,1019.8 627.8,1018.5 628.2,1016.6 628.6,1014.5 629.0,1012.5 629.4,1010.7 629.8,1008.7 630.2,1006.5 630.6,1004.5 631.0,1002.6 631.4,1000.6 631.8,998.3 632.2,996.4 632.6,994.3 633.0,992.2 633.4,990.2 633.8,988.3 634.2,986.3 634.6,984.2 635.0,982.3 635.4,980.3 635.8,978.6 636.2,977.0 636.6,975.2 637.0,973.5 637.4,971.7 637.8,970.4 638.2,969.2 638.6,967.9 639.0,966.9 639.4,966.0 639.8,965.2 640.2,964.4 640.6,964.0 641.0,963.7 641.4,963.4 641.8,963.6 642.2,963.7 642.6,963.8 643.0,963.8 643.4,964.2 643.8,964.8 644.2,965.3 644.6,965.8 645.0,966.4 645.4,967.2 645.8,968.1 646.2,969.1 646.6,970.1 647.0,971.0 647.4,972.1 647.8,973.3 648.2,974.5 648.6,975.7 649.0,977.2 649.4,978.6 649.8,979.9 650.2,981.3 650.6,982.8 651.0,984.2 651.4,985.7 651.8,987.4 652.2,989.1 652.6,990.7 653.0,992.2 653.4,993.7 653.8,995.2 654.2,996.8 654.6,998.5 655.0,1000.1 655.4,1001.7 655.8,1003.3 656.2,1004.5 656.6,1006.0 657.0,1007.6 657.4,1009.1 657.8,1011.1 658.2,1012.8 658.6,1014.1 659.0,1015.7 659.4,1017.3 659.8,1018.2 660.2,1019.5 660.6,1020.9 661.0,1021.8 661.4,1023.0 661.8,1023.8 662.2,1024.5 662.6,1025.9 663.0,1027.4 663.4,1028.3 663.8,1028.9 664.2,1030.2 664.6,1031.6 665.0,1032.3 665.4,1033.1 665.8,1033.5 666.2,1033.7 666.6,1034.8 667.0,1035.5 667.4,1035.8 667.8,1037.1 668.2,1037.8 668.6,1037.3 669.0,1038.1 669.4,1039.8 669.8,1040.0 670.2,1040.1 670.6,1040.2 671.0,1039.6 671.4,1039.5 671.8,1039.8 672.2,1040.9 672.6,1040.6 673.0,1040.5 673.4,1040.7 673.8,1040.0 674.2,1040.9 674.6,1041.2 675.0,1040.9 675.4,1039.7 675.8,1039.5 676.2,1039.4 676.6,1039.8 677.0,1039.9 677.4,1038.7 677.8,1037.9 678.2,1037.2 678.6,1036.7 679.0,1036.7 679.4,1036.4 679.8,1035.5 680.2,1034.5 680.6,1033.3 681.0,1033.2 681.4,1032.0 681.8,1029.9 682.2,1029.3 682.6,1028.4 683.0,1027.0 683.4,1026.6 683.8,1025.3 684.2,1024.0 684.6,1022.7 685.0,1021.3 685.4,1020.2 685.8,1017.9 686.2,1015.6 686.6,1013.6 687.0,1011.6 687.4,1009.7 687.8,1006.9 688.2,1004.3 688.6,1001.5 689.0,998.3 689.4,995.1 689.8,991.8 690.2,988.2 690.6,984.0 691.0,979.6 691.4,974.9 691.8,969.7 692.2,964.1 692.6,958.3 693.0,951.6 693.4,944.2 693.8,936.3 694.0,932.0 694.1,930.2 694.2,928.3 694.2,927.4 694.2,926.4 694.3,924.5 694.4,922.5 694.5,920.6 694.6,918.6 694.6,917.6 694.6,916.6 694.7,914.5 694.8,912.4 694.9,910.2 695.0,908.0 695.0,906.9 695.0,905.8 695.1,903.5 695.2,901.1 695.3,898.7 695.4,896.2 695.4,894.9 695.4,893.6 695.5,891.0 695.6,888.3 695.7,885.6 695.8,882.8 695.8,881.4 695.8,880.0 695.9,877.1 696.0,874.1 696.1,871.0 696.2,867.9 696.2,866.3 696.2,864.7 696.3,861.4 696.4,858.0 696.5,854.6 696.6,851.1 696.6,849.3 696.6,847.5 696.7,843.8 696.8,840.1 696.9,836.2 697.0,832.2 697.0,830.1 697.0,828.1 697.1,823.8 697.2,819.5 697.3,815.1 697.4,810.6 697.4,808.3 697.4,806.0 697.5,801.2 697.6,796.3 697.7,791.2 697.8,786.0 697.8,783.3 697.8,780.6 697.9,775.1 698.0,769.4 698.1,763.5 698.2,757.4 698.2,754.3 698.2,751.2 698.3,744.8 698.4,738.2 698.5,731.4 698.6,724.3 698.6,720.7 698.6,717.1 698.7,709.6 698.8,701.8 698.9,694.0 699.0,685.9 699.0,681.7 699.0,677.5 699.1,668.9 699.2,659.9 699.3,650.6 699.4,640.9 699.4,636.0 699.4,630.9 699.5,620.6 699.6,609.9 699.7,598.8 699.8,587.2 699.8,581.3 699.8,575.3 699.9,562.9 700.0,550.0 700.1,536.7 700.2,522.9 700.2,515.7 700.2,508.5 700.3,493.5 700.4,478.0 700.5,461.9 700.6,445.1 700.6,436.5 700.6,427.7 700.7,409.5 700.8,390.5 700.9,370.8 701.0,350.2 701.0,339.5 701.0,328.7 701.1,306.2 701.2,282.7 701.3,258.0 701.4,232.2 701.4,218.8 701.4,205.2 701.5,176.9 701.6,147.2 701.7,116.1 701.8,83.5 701.8,66.6 701.8,49.2 701.9,13.2 702.0,-24.7 702.1,-50.0 702.2,-50.0 702.2,-50.0 702.2,-50.0 702.3,-50.0 702.4,-50.0 702.5,-50.0 702.6,-50.0 702.6,-50.0 702.6,-50.0 702.7,-50.0 702.8,-50.0 702.9,-50.0 703.0,-50.0 703.0,-50.0 703.0,-50.0 703.1,-50.0 703.2,-50.0 703.3,-50.0 703.4,-50.0 703.4,-50.0 703.4,-50.0 703.5,-50.0 703.6,-50.0 703.7,-50.0 703.8,-50.0 703.8,-50.0 703.8,-50.0 703.9,-50.0 704.0,-50.0 704.1,-50.0 704.2,-50.0 704.2,-50.0 704.2,-50.0 704.3,-50.0 704.4,-50.0 704.5,-50.0 704.6,-50.0 704.6,-50.0 704.6,-50.0 704.7,-50.0 704.8,-50.0 704.9,-50.0 705.0,-50.0 705.0,-50.0 705.0,-50.0 705.1,-50.0 705.2,-50.0 705.3,-50.0 705.4,-50.0 705.4,-50.0 705.4,-50.0 705.5,-50.0 705.6,-50.0 705.7,-50.0 705.8,-50.0 705.8,-50.0 705.8,-50.0 705.9,-50.0 706.0,-50.0 706.1,-50.0 706.2,-50.0 706.2,-50.0 706.2,-50.0 706.3,-50.0 706.4,-50.0 706.5,-50.0 706.6,-50.0 706.6,-50.0 706.6,-50.0 706.7,-50.0 706.8,-50.0 706.9,-50.0 707.0,-50.0 707.0,-50.0 707.0,-50.0 707.1,-50.0 707.2,-50.0 707.3,-50.0 707.4,-50.0 707.4,-50.0 707.4,-50.0 707.5,-50.0 707.6,-50.0 707.7,-50.0 707.8,-50.0 707.8,-50.0 707.8,-50.0 707.9,-50.0 708.0,-50.0 708.1,-50.0 708.2,-50.0 708.2,-50.0 708.2,-50.0 708.3,-50.0 708.4,-50.0 708.5,-50.0 708.6,-50.0 708.6,-50.0 708.6,-50.0 708.7,-50.0 708.8,-50.0 708.9,-50.0 709.0,-50.0 709.0,-50.0 709.0,-50.0 709.1,-50.0 709.2,-50.0 709.3,-50.0 709.4,-50.0 709.4,-50.0 709.4,-50.0 709.5,-50.0 709.6,-50.0 709.7,-50.0 709.8,-50.0 709.8,-50.0 709.8,-50.0 709.9,-50.0 710.0,-24.2 710.1,13.6 710.2,49.6 710.2,66.9 710.2,83.8 710.3,116.3 710.4,147.3 710.5,177.0 710.6,205.3 710.6,219.0 710.6,232.3 710.7,258.1 710.8,282.8 710.9,306.4 711.0,328.9 711.0,339.9 711.0,350.6 711.1,371.3 711.2,391.1 711.3,410.1 711.4,428.3 711.4,437.1 711.4,445.7 711.5,462.5 711.6,478.6 711.7,494.1 711.8,509.0 711.8,516.2 711.8,523.3 711.9,537.1 712.0,550.4 712.1,563.2 712.2,575.5 712.2,581.5 712.2,587.4 712.3,598.9 712.4,610.0 712.5,620.7 712.6,631.1 712.6,636.2 712.6,641.2 712.7,650.9 712.8,660.2 712.9,669.3 713.0,678.0 713.0,682.3 713.0,686.5 713.1,694.7 713.2,702.6 713.3,710.3 713.4,717.8 713.4,721.4 713.4,725.0 713.5,732.0 713.6,738.8 713.7,745.4 713.8,751.7 713.8,754.8 713.8,757.9 713.9,763.9 714.0,769.7 714.1,775.4 714.2,781.0 714.2,783.7 714.2,786.4 714.3,791.7 714.4,796.8 714.5,801.7 714.6,806.4 714.6,808.7 714.6,811.0 714.7,815.5 714.8,819.9 714.9,824.3 715.0,828.5 715.0,830.6 715.0,832.7 715.1,836.7 715.2,840.6 715.3,844.4 715.4,848.1 715.4,849.9 715.4,851.7 715.5,855.2 715.6,858.6 715.7,862.0 715.8,865.3 715.8,866.9 715.8,868.5 715.9,871.6 716.0,874.7 716.1,877.7 716.2,880.6 716.2,882.1 716.2,883.5 716.3,886.3 716.4,889.0 716.5,891.7 716.6,894.3 716.6,895.6 716.6,896.9 716.7,899.4 716.8,901.8 716.9,904.1 717.0,906.4 717.0,907.5 717.0,908.6 717.1,910.8 717.2,912.9 717.3,915.1 717.4,917.3 717.4,918.4 717.4,919.4 717.5,921.5 717.6,923.5 717.7,925.4 717.8,927.2 717.8,928.2 717.8,929.1 717.9,930.8 718.2,936.8 718.6,944.9 719.0,952.2 719.4,958.9 719.8,965.1 720.2,970.7 720.6,975.9 721.0,980.6 721.4,985.0 721.8,989.0 722.2,992.7 722.6,996.3 723.0,999.5 723.4,1002.6 723.8,1005.6 724.2,1008.0 724.6,1010.2 725.0,1012.7 725.4,1015.4 725.8,1017.6 726.2,1019.6 726.6,1021.7 727.0,1023.3 727.4,1024.5 727.8,1025.6 728.2,1026.7 728.6,1028.2 729.0,1029.9 729.4,1031.4 729.8,1032.5 730.2,1033.5 730.6,1034.8 731.0,1036.0 731.4,1036.9 731.8,1038.0 732.2,1038.6 732.6,1039.0 733.0,1040.4 733.4,1042.0 733.8,1042.5 734.2,1042.9 734.6,1044.7 735.0,1045.2 735.4,1044.6 735.8,1045.6 736.2,1045.7 736.6,1046.1 737.0,1048.2 737.4,1049.1 737.8,1049.0 738.2,1049.1 738.6,1049.2 739.0,1049.7 739.4,1049.9 739.8,1049.6 740.2,1050.2 740.6,1051.5 741.0,1052.1 741.4,1052.4 741.8,1051.5 742.2,1052.1 742.6,1054.7 743.0,1055.0 743.4,1053.9 743.8,1052.9 744.2,1053.3 744.6,1053.4 745.0,1053.8 745.4,1054.3 745.8,1054.7 746.2,1056.1 746.6,1054.7 747.0,1054.3 747.4,1055.3 747.8,1054.5 748.2,1054.6 748.6,1055.4 749.0,1056.4 749.4,1055.7 749.8,1055.9 750.2,1058.2 750.6,1058.3 751.0,1057.8 751.4,1057.9 751.8,1057.3 752.2,1057.9 752.6,1059.0 753.0,1059.3 753.4,1060.5 753.8,1060.6 754.2,1059.7 754.6,1060.3 755.0,1059.4 755.4,1057.9 755.8,1058.5 756.2,1058.9 756.6,1059.5 757.0,1059.7 757.4,1060.4 757.8,1061.6 758.2,1061.1 758.6,1060.1 759.0,1060.2 759.4,1061.1 759.8,1060.1 760.2,1060.0 760.6,1061.1 761.0,1061.1 761.4,1061.8 761.8,1062.5 762.2,1061.3 762.6,1060.9 763.0,1061.1 763.4,1061.7 763.8,1061.9 764.2,1062.3 764.6,1063.1 765.0,1063.1 765.4,1062.6 765.8,1060.9 766.2,1062.0 766.6,1062.8 767.0,1062.5 767.4,1062.9 767.8,1062.5 768.2,1063.4 768.6,1063.0 769.0,1062.6 769.4,1061.3 769.8,1060.9 770.2,1061.7 770.6,1061.1 771.0,1061.4 771.4,1061.9 771.8,1063.1 772.2,1061.9 772.6,1061.0 773.0,1061.7 773.4,1062.4 773.8,1062.5 774.2,1061.9 774.6,1061.8 775.0,1061.7 775.4,1062.6 775.8,1062.1 776.2,1061.7 776.6,1061.4 777.0,1061.8 777.4,1063.6 777.8,1063.2 778.2,1063.4 778.6,1062.5 779.0,1060.6 779.4,1061.0 779.8,1061.9 780.2,1063.0 780.6,1063.4 781.0,1063.6 781.4,1064.3 781.8,1064.2 782.2,1063.0 782.6,1062.4 783.0,1064.4 783.4,1063.6 783.8,1062.0 784.2,1064.4 784.6,1064.8 785.0,1063.5 785.4,1063.3 785.8,1064.5 786.2,1065.2 786.6,1064.0 787.0,1063.6 787.4,1064.2 787.8,1064.4 788.2,1065.0 788.6,1064.1 789.0,1062.2 789.4,1062.7 789.8,1064.6 790.2,1064.8 790.6,1063.7 791.0,1064.9 791.4,1064.4 791.8,1063.9 792.2,1064.3 792.6,1063.8 793.0,1064.2 793.4,1064.9 793.8,1064.0 794.2,1062.4 794.6,1062.0 795.0,1062.6 795.4,1063.4 795.8,1063.5 796.2,1063.2 796.6,1062.7 797.0,1064.2 797.4,1064.3 797.8,1063.9 798.2,1064.2 798.6,1063.3 799.0,1061.6 799.4,1062.2 799.8,1063.2 800.2,1063.2 800.6,1062.0 801.0,1060.5 801.4,1060.8 801.8,1061.7 802.2,1064.1 802.6,1065.4 803.0,1064.9 803.4,1064.7 803.8,1065.2 804.2,1064.9 804.6,1064.5 805.0,1064.7 805.4,1062.9 805.8,1062.4 806.2,1064.6 806.6,1064.5 807.0,1063.4 807.4,1063.2 807.8,1062.9 808.2,1064.0 808.6,1064.1 809.0,1062.7 809.4,1061.4 809.8,1061.8 810.2,1062.1 810.6,1061.5 811.0,1063.5 811.4,1065.4 811.8,1063.7 812.2,1063.9 812.6,1065.4 813.0,1064.2 813.4,1064.3 813.8,1063.6 814.2,1062.2 814.6,1062.3 815.0,1062.4 815.4,1064.0 815.8,1064.0 816.2,1062.7 816.6,1062.9 817.0,1063.9 817.4,1064.3 817.8,1064.9 818.2,1064.7 818.6,1063.5 819.0,1063.9 819.4,1065.0 819.8,1064.8 820.2,1065.0 820.6,1066.8 821.0,1066.3 821.4,1065.1 821.8,1066.4 822.2,1066.0 822.6,1064.5 823.0,1064.1 823.4,1064.8 823.8,1065.6 824.2,1064.9 824.6,1064.4 825.0,1065.3 825.4,1065.8 825.8,1064.1 826.2,1063.5 826.6,1064.5 827.0,1064.9 827.4,1064.6 827.8,1063.6 828.2,1063.4 828.6,1062.6 829.0,1062.9 829.4,1063.8 829.8,1064.4 830.2,1064.3 830.6,1063.9 831.0,1064.1 831.4,1063.8 831.8,1064.9 832.2,1065.2 832.6,1064.9 833.0,1064.4 833.4,1064.1 833.8,1063.6 834.2,1063.2 834.6,1064.0 835.0,1064.8 835.4,1065.3 835.8,1064.8 836.2,1065.2 836.6,1065.3 837.0,1065.0 837.4,1065.3 837.8,1064.8 838.2,1064.0 838.6,1064.3 839.0,1064.3 839.4,1064.4 839.8,1065.4 840.2,1065.6 840.6,1064.5 841.0,1062.8 841.4,1062.8 841.8,1063.4 842.2,1064.1 842.6,1064.1 843.0,1063.5 843.4,1064.6 843.8,1064.6 844.2,1064.2 844.6,1065.7 845.0,1066.8 845.4,1066.1 845.8,1065.3 846.2,1064.4 846.6,1064.7 847.0,1065.6 847.4,1065.6 847.8,1065.5 848.2,1065.5 848.6,1065.7 849.0,1066.0 849.4,1067.0 849.8,1066.8 850.2,1064.5 850.6,1063.3 851.0,1063.1 851.4,1063.0 851.8,1064.2 852.2,1064.9 852.6,1064.0 853.0,1063.9 853.4,1063.9 853.8,1063.0 854.2,1062.8 854.6,1063.3 855.0,1065.3 855.4,1065.1 855.8,1064.9 856.2,1066.6 856.6,1065.5 857.0,1064.6 857.4,1064.3 857.8,1064.3 858.2,1065.1 858.6,1065.0 859.0,1064.9 859.4,1065.5 859.8,1064.9 860.2,1064.2 860.6,1064.0 861.0,1064.1 861.4,1063.6 861.8,1063.7 862.2,1064.6 862.6,1063.8 863.0,1065.1 863.4,1065.1 863.8,1063.1 864.2,1064.0 864.6,1063.2 865.0,1062.3 865.4,1062.4 865.8,1062.1 866.2,1063.0 866.6,1063.8 867.0,1064.6 867.4,1065.0 867.8,1065.1 868.2,1065.0 868.6,1063.9 869.0,1064.2 869.4,1064.2 869.8,1063.1 870.2,1064.5 870.6,1065.4 871.0,1064.5 871.4,1064.4 871.8,1064.7 872.2,1063.2 872.6,1062.4 873.0,1062.4 873.4,1062.5 873.8,1062.9 874.2,1063.9 874.6,1064.9 875.0,1063.6 875.4,1063.4 875.8,1063.3 876.2,1063.4 876.6,1064.7 877.0,1064.9 877.4,1063.3 877.8,1063.0 878.2,1064.8 878.6,1065.2 879.0,1065.5 879.4,1064.3 879.8,1063.7 880.2,1063.8 880.6,1063.4 881.0,1063.9 881.4,1064.0 881.8,1063.2 882.2,1062.8 882.6,1062.2 883.0,1061.0 883.4,1062.0 883.8,1062.8 884.2,1061.3 884.6,1060.9 885.0,1062.2 885.4,1064.1 885.8,1065.0 886.2,1064.7 886.6,1062.8 887.0,1062.1 887.4,1063.4 887.8,1063.5 888.2,1063.4 888.6,1063.0 889.0,1063.9 889.4,1065.3 889.8,1064.2 890.2,1062.6 890.6,1063.9 891.0,1064.0 891.4,1063.1 891.8,1064.4 892.2,1062.6 892.6,1061.3 893.0,1061.7 893.4,1061.9 893.8,1062.6 894.2,1063.7 894.6,1064.0 895.0,1062.8 895.4,1063.3 895.8,1063.1 896.2,1062.1 896.6,1063.8 897.0,1063.4 897.4,1061.5 897.8,1062.0 898.2,1061.6 898.6,1060.1 899.0,1061.7 899.4,1062.8 899.8,1062.0 900.2,1062.5 900.6,1062.3 901.0,1062.0 901.4,1062.7 901.8,1064.7 902.2,1064.8 902.6,1063.5 903.0,1061.7 903.4,1060.9 903.8,1061.0 904.2,1061.4 904.6,1062.1 905.0,1061.7 905.4,1061.8 905.8,1061.4 906.2,1060.4 906.6,1061.2 907.0,1061.4 907.4,1060.3 907.8,1061.1 908.2,1061.6 908.6,1062.0 909.0,1063.1 909.4,1063.0 909.8,1062.2 910.2,1061.7 910.6,1061.8 911.0,1060.2 911.4,1059.6 911.8,1060.1 912.2,1059.1 912.6,1059.8 913.0,1060.6 913.4,1061.2 913.8,1062.3 914.2,1060.5 914.6,1059.8 915.0,1062.5 915.4,1063.1 915.8,1062.7 916.2,1062.1 916.6,1060.1 917.0,1059.2 917.4,1060.5 917.8,1061.9 918.2,1060.9 918.6,1060.2 919.0,1060.9 919.4,1059.8 919.8,1059.3 920.2,1061.5 920.6,1063.2 921.0,1062.1 921.4,1061.9 921.8,1061.6 922.2,1060.0 922.6,1059.0 923.0,1060.3 923.4,1061.6 923.8,1062.6 924.2,1063.2 924.6,1061.9 925.0,1060.4 925.4,1061.2 925.8,1062.0 926.2,1060.8 926.6,1059.6 927.0,1060.3 927.4,1062.5 927.8,1061.6 928.2,1061.0 928.6,1061.5 929.0,1061.9 929.4,1061.5 929.8,1061.9 930.2,1061.6 930.6,1060.1 931.0,1060.1 931.4,1059.3 931.8,1059.2 932.2,1061.5 932.6,1062.3 933.0,1061.1 933.4,1061.1 933.8,1060.0 934.2,1059.3 934.6,1060.6 935.0,1060.8 935.4,1059.7 935.8,1059.7 936.2,1061.6 936.6,1060.9 937.0,1060.4 937.4,1059.9 937.8,1058.4 938.2,1060.1 938.6,1061.6 939.0,1061.4 939.4,1061.0 939.8,1060.5 940.2,1061.2 940.6,1062.3 941.0,1061.4 941.4,1059.0 941.8,1059.9 942.2,1061.4 942.6,1061.0 943.0,1060.8 943.4,1061.8 943.8,1061.7 944.2,1060.5 944.6,1059.1 945.0,1058.2 945.4,1058.9 945.8,1059.3 946.2,1060.1 946.6,1059.8 947.0,1060.8 947.4,1060.6 947.8,1059.1 948.2,1059.9 948.6,1059.3 949.0,1059.4 949.4,1060.7 949.8,1060.1 950.2,1060.9 950.6,1061.0 951.0,1059.8 951.4,1058.8 951.8,1057.4 952.2,1057.6 952.6,1058.7 953.0,1059.1 953.4,1060.1 953.8,1059.2 954.2,1057.9 954.6,1058.1 955.0,1059.7 955.4,1060.6 955.8,1059.4 956.2,1059.1 956.6,1060.1 957.0,1060.5 957.4,1059.9 957.8,1058.6 958.2,1059.2 958.6,1060.8 959.0,1060.7 959.4,1061.6 959.8,1061.4 960.2,1060.5 960.6,1061.1 961.0,1061.3 961.4,1060.3 961.8,1059.8 962.2,1059.4 962.6,1059.6 963.0,1060.5 963.4,1060.0 963.8,1060.6 964.2,1059.7 964.6,1058.4 965.0,1060.7 965.4,1060.6 965.8,1058.3 966.2,1059.3 966.6,1060.5 967.0,1058.5 967.4,1058.5 967.8,1058.5 968.2,1056.9 968.6,1057.4 969.0,1057.9 969.4,1057.1 969.8,1057.1 970.2,1057.0 970.6,1057.2 971.0,1057.8 971.4,1058.3 971.8,1058.1 972.2,1056.9 972.6,1056.7 973.0,1057.8 973.4,1059.9 973.8,1060.8 974.2,1059.4 974.6,1059.3 975.0,1058.9 975.4,1058.8 975.8,1059.3 976.2,1059.2 976.6,1060.0 977.0,1059.4 977.4,1059.1 977.8,1058.5 978.2,1058.0 978.6,1059.2 979.0,1060.6 979.4,1060.3 979.8,1058.8 980.2,1057.6 980.6,1058.3 981.0,1057.8 981.4,1056.6 981.8,1058.0 982.2,1057.8 982.6,1058.7 983.0,1060.4 983.4,1059.1 983.8,1058.0 984.2,1057.4 984.6,1056.7 985.0,1057.7 985.4,1058.9 985.8,1058.8 986.2,1058.4 986.6,1057.7 987.0,1057.7 987.4,1057.0 987.8,1056.8 988.2,1058.9 988.6,1059.9 989.0,1058.8 989.4,1057.9 989.8,1059.3 990.2,1060.8 990.6,1058.8 991.0,1057.3 991.4,1058.6 991.8,1059.8 992.2,1059.2 992.6,1058.8 993.0,1059.1 993.4,1060.0 993.8,1060.3 994.2,1058.4 994.6,1057.6 995.0,1058.2 995.4,1058.8 995.8,1057.4 996.2,1057.3 996.6,1057.4 997.0,1057.1 997.4,1057.3 997.8,1057.1 998.2,1057.6 998.6,1057.8 999.0,1058.6 999.4,1059.8 999.8,1059.3 1000.2,1057.9 1000.6,1058.4 1001.0,1057.4 1001.4,1055.1 1001.8,1056.5 1002.2,1057.8 1002.6,1057.7 1003.0,1056.9 1003.4,1055.4 1003.8,1055.3 1004.2,1056.7 1004.6,1056.8 1005.0,1056.2 1005.4,1056.1 1005.8,1056.1 1006.2,1057.9 1006.6,1059.2 1007.0,1057.9 1007.4,1056.8 1007.8,1057.1 1008.2,1057.9 1008.6,1057.3 1009.0,1056.6 1009.4,1055.8 1009.8,1054.9 1010.2,1056.5 1010.6,1057.8 1011.0,1056.6 1011.4,1055.4 1011.8,1056.8 1012.2,1057.2 1012.6,1056.5 1013.0,1057.2 1013.4,1057.7 1013.8,1058.0 1014.2,1058.2 1014.6,1056.8 1015.0,1056.0 1015.4,1056.3 1015.8,1055.7 1016.2,1055.4 1016.6,1057.3 1017.0,1057.1 1017.4,1057.3 1017.8,1058.5 1018.2,1057.6 1018.6,1057.6 1019.0,1057.8 1019.4,1058.1 1019.8,1057.5 1020.2,1056.6 1020.6,1056.8 1021.0,1058.2 1021.4,1058.9 1021.8,1056.9 1022.2,1055.8 1022.6,1055.7 1023.0,1055.7 1023.4,1056.0 1023.8,1057.3 1024.2,1055.8 1024.6,1054.9 1025.0,1056.5 1025.4,1055.4 1025.8,1055.2 1026.2,1055.5 1026.6,1055.7 1027.0,1056.7 1027.4,1055.6 1027.8,1055.8 1028.2,1056.5 1028.6,1056.6 1029.0,1057.3 1029.4,1057.3 1029.8,1057.8 1030.2,1058.0 1030.6,1057.9 1031.0,1056.6 1031.4,1057.0 1031.8,1057.9 1032.2,1058.7 1032.6,1056.7 1033.0,1055.0 1033.4,1056.9 1033.8,1056.1 1034.2,1055.2 1034.6,1057.6 1035.0,1058.8 1035.4,1057.0 1035.8,1057.1 1036.2,1058.5 1036.6,1058.0 1037.0,1057.2 1037.4,1056.7 1037.8,1055.6 1038.2,1055.0 1038.6,1056.0 1039.0,1056.4 1039.4,1057.2 1039.8,1057.0 1040.2,1054.6 1040.6,1054.9 1041.0,1056.7 1041.4,1057.4 1041.8,1057.3 1042.2,1056.5 1042.6,1057.3 1043.0,1057.0 1043.4,1056.2 1043.8,1056.1 1044.2,1054.6 1044.6,1055.6 1045.0,1055.0 1045.4,1053.7 1045.8,1055.5 1046.2,1056.0 1046.6,1056.2 1047.0,1056.3 1047.4,1055.3 1047.8,1056.7 1048.2,1056.8 1048.6,1055.2 1049.0,1054.7 1049.4,1054.4 1049.8,1055.7 1050.2,1056.6 1050.6,1056.2 1051.0,1055.3 1051.4,1055.6 1051.8,1054.9 1052.2,1054.1 1052.6,1055.2 1053.0,1055.0 1053.4,1055.6 1053.8,1056.0 1054.2,1055.5 1054.6,1057.2 1055.0,1058.0 1055.4,1057.3 1055.8,1056.5 1056.2,1055.9 1056.6,1056.0 1057.0,1055.8 1057.4,1056.6 1057.8,1055.5 1058.2,1054.2 1058.6,1054.4 1059.0,1052.9 1059.4,1052.1 1059.8,1053.5 1060.2,1054.8 1060.6,1054.3 1061.0,1054.6 1061.4,1055.8 1061.8,1054.8 1062.2,1055.1 1062.6,1056.6 1063.0,1056.1 1063.4,1054.4 1063.8,1055.0 1064.2,1055.3 1064.6,1054.0 1065.0,1053.9 1065.4,1053.6 1065.8,1054.0 1066.2,1054.7 1066.6,1054.6 1067.0,1054.3 1067.4,1052.8 1067.8,1052.2 1068.0,1052.4 1068.1,1052.7 1068.2,1052.9 1068.2,1053.0 1068.2,1053.1 1068.3,1053.3 1068.4,1053.5 1068.5,1053.1 1068.6,1052.8 1068.6,1052.6 1068.6,1052.4 1068.7,1052.0 1068.8,1051.7 1068.9,1052.3 1069.0,1052.9 1069.0,1053.2 1069.0,1053.4 1069.1,1054.0 1069.2,1054.6 1069.3,1053.9 1069.4,1053.2 1069.4,1052.9 1069.4,1052.6 1069.5,1051.9 1069.6,1051.2 1069.7,1051.0 1069.8,1050.9 1069.8,1050.8 1069.8,1050.7 1069.9,1050.5 1070.0,1050.3 1070.1,1050.6 1070.2,1051.0 1070.2,1051.1 1070.2,1051.3 1070.3,1051.6 1070.4,1051.9 1070.5,1051.7 1070.6,1051.5 1070.6,1051.4 1070.6,1051.3 1070.7,1051.1 1070.8,1050.9 1070.9,1050.6 1071.0,1050.3 1071.0,1050.1 1071.0,1050.0 1071.1,1049.7 1071.2,1049.4 1071.3,1049.2 1071.4,1049.0 1071.4,1048.9 1071.4,1048.9 1071.5,1048.7 1071.6,1048.5 1071.7,1048.6 1071.8,1048.6 1071.8,1048.6 1071.8,1048.7 1071.9,1048.7 1072.0,1048.7 1072.1,1048.7 1072.2,1048.7 1072.2,1048.7 1072.2,1048.7 1072.3,1048.7 1072.4,1048.7 1072.5,1048.6 1072.6,1048.4 1072.6,1048.4 1072.6,1048.3 1072.7,1048.2 1072.8,1048.1 1072.9,1047.8 1073.0,1047.4 1073.0,1047.2 1073.0,1047.1 1073.1,1046.7 1073.2,1046.4 1073.3,1046.4 1073.4,1046.5 1073.4,1046.5 1073.4,1046.6 1073.5,1046.6 1073.6,1046.7 1073.7,1046.7 1073.8,1046.7 1073.8,1046.7 1073.8,1046.6 1073.9,1046.6 1074.0,1046.6 1074.1,1046.4 1074.2,1046.3 1074.2,1046.2 1074.2,1046.1 1074.3,1046.0 1074.4,1045.8 1074.5,1045.0 1074.6,1044.2 1074.6,1043.8 1074.6,1043.4 1074.7,1042.6 1074.8,1041.8 1074.9,1041.9 1075.0,1042.1 1075.0,1042.1 1075.0,1042.2 1075.1,1042.3 1075.2,1042.4 1075.3,1042.3 1075.4,1042.1 1075.4,1042.0 1075.4,1041.9 1075.5,1041.7 1075.6,1041.5 1075.7,1041.4 1075.8,1041.3 1075.8,1041.2 1075.8,1041.2 1075.9,1041.0 1076.0,1040.8 1076.1,1040.6 1076.2,1040.3 1076.2,1040.2 1076.2,1040.1 1076.3,1039.7 1076.4,1039.4 1076.5,1039.1 1076.6,1038.7 1076.6,1038.5 1076.6,1038.3 1076.7,1037.9 1076.8,1037.4 1076.9,1036.7 1077.0,1035.9 1077.0,1035.4 1077.0,1035.0 1077.1,1034.1 1077.2,1033.1 1077.3,1032.0 1077.4,1030.7 1077.4,1030.1 1077.4,1029.5 1077.5,1028.1 1077.6,1026.6 1077.7,1025.2 1077.8,1023.7 1077.8,1022.9 1077.8,1022.1 1077.9,1020.4 1078.0,1018.6 1078.1,1017.0 1078.2,1015.1 1078.2,1014.2 1078.2,1013.2 1078.3,1011.1 1078.4,1008.9 1078.5,1006.2 1078.6,1003.5 1078.6,1002.1 1078.6,1000.7 1078.7,998.0 1078.8,995.2 1078.9,992.6 1079.0,989.9 1079.0,988.6 1079.0,987.2 1079.1,984.6 1079.2,982.0 1079.3,979.5 1079.3,978.9 1079.4,977.1 1079.4,976.5 1079.4,975.9 1079.4,974.8 1079.5,974.3 1079.5,972.7 1079.5,972.2 1079.6,970.8 1079.6,970.4 1079.7,969.1 1079.7,968.7 1079.8,967.7 1079.8,967.4 1079.8,967.1 1079.8,966.5 1079.9,966.3 1079.9,965.7 1079.9,965.6 1080.0,965.2 1080.0,965.1 1080.1,965.0 1080.1,965.0 1080.2,965.1 1080.2,965.2 1080.2,965.3 1080.2,965.6 1080.3,965.7 1080.3,966.3 1080.3,966.5 1080.4,967.3 1080.4,967.6 1080.5,968.7 1080.5,969.0 1080.6,970.2 1080.6,970.7 1080.6,971.1 1080.6,972.0 1080.7,972.4 1080.7,973.9 1080.7,974.4 1080.8,975.9 1080.8,976.3 1080.9,977.8 1080.9,978.3 1081.0,979.8 1081.0,980.4 1081.0,980.9 1081.0,981.9 1081.1,982.4 1081.1,983.9 1081.1,984.4 1081.2,985.9 1081.2,986.4 1081.3,987.9 1081.3,988.4 1081.4,989.9 1081.4,990.3 1081.4,990.8 1081.4,991.7 1081.5,992.2 1081.5,993.5 1081.5,994.0 1081.6,995.3 1081.6,995.7 1081.7,996.9 1081.7,997.3 1081.8,998.5 1081.8,998.9 1081.8,999.2 1081.8,1000.0 1081.9,1000.3 1081.9,1001.3 1081.9,1001.6 1082.0,1002.6 1082.0,1002.8 1082.1,1003.6 1082.1,1003.8 1082.2,1004.4 1082.2,1004.6 1082.2,1004.8 1082.2,1005.2 1082.3,1005.3 1082.3,1005.8 1082.3,1005.9 1082.4,1006.3 1082.4,1006.4 1082.5,1006.6 1082.5,1006.7 1082.6,1006.8 1082.6,1006.9 1082.6,1006.9 1082.6,1006.9 1082.7,1007.0 1082.7,1006.9 1082.7,1006.9 1082.8,1006.8 1082.8,1006.8 1082.9,1006.8 1082.9,1006.7 1083.0,1006.6 1083.0,1006.5 1083.0,1006.5 1083.0,1006.3 1083.1,1006.2 1083.1,1005.9 1083.1,1005.8 1083.2,1005.4 1083.2,1005.2 1083.3,1004.6 1083.3,1004.4 1083.4,1003.7 1083.4,1003.5 1083.4,1003.2 1083.4,1002.7 1083.5,1002.4 1083.5,1001.6 1083.5,1001.3 1083.6,1000.3 1083.6,1000.0 1083.7,998.9 1083.7,998.5 1083.8,997.4 1083.8,997.0 1083.8,996.5 1083.8,995.7 1083.9,995.2 1083.9,993.8 1083.9,993.4 1084.0,991.8 1084.0,991.3 1084.1,989.6 1084.1,989.1 1084.2,987.3 1084.2,986.6 1084.2,986.0 1084.2,984.7 1084.3,984.0 1084.3,981.9 1084.3,981.1 1084.4,978.8 1084.4,978.0 1084.5,975.5 1084.5,974.6 1084.6,971.9 1084.6,970.9 1084.6,970.0 1084.6,968.0 1084.7,966.9 1084.7,963.7 1084.7,962.6 1084.8,959.1 1084.8,957.9 1084.9,954.1 1084.9,952.8 1085.0,948.7 1085.0,947.3 1085.0,945.8 1085.0,942.8 1085.1,941.3 1085.1,936.5 1085.1,934.9 1085.2,929.7 1085.2,927.9 1085.3,922.3 1085.3,920.4 1085.4,914.4 1085.4,912.3 1085.4,910.2 1085.4,905.8 1085.5,903.6 1085.5,896.6 1085.5,894.2 1085.6,886.7 1085.6,884.2 1085.7,876.1 1085.7,873.3 1085.8,864.7 1085.8,861.7 1085.8,858.7 1085.8,852.5 1085.9,849.3 1085.9,839.4 1085.9,835.9 1086.0,825.3 1086.0,821.7 1086.1,810.3 1086.1,806.4 1086.2,794.3 1086.2,790.1 1086.2,785.8 1086.2,777.1 1086.3,772.7 1086.3,758.9 1086.3,754.2 1086.4,739.5 1086.4,734.5 1086.5,719.0 1086.5,713.6 1086.6,697.1 1086.6,691.5 1086.6,685.7 1086.6,674.0 1086.7,668.0 1086.7,649.5 1086.7,643.2 1086.8,623.6 1086.8,617.0 1086.9,596.4 1086.9,589.4 1087.0,567.7 1087.0,560.3 1087.0,552.8 1087.0,537.5 1087.1,529.7 1087.1,505.8 1087.1,497.6 1087.2,472.5 1087.2,463.9 1087.3,437.5 1087.3,428.5 1087.4,400.8 1087.4,391.4 1087.4,381.9 1087.4,362.6 1087.5,352.8 1087.5,322.7 1087.5,312.5 1087.6,281.2 1087.6,270.6 1087.7,238.1 1087.7,227.0 1087.8,193.3 1087.8,181.9 1087.8,170.3 1087.8,146.9 1087.9,135.1 1087.9,98.9 1087.9,86.7 1088.0,49.4 1088.0,36.8 1088.1,-1.7 1088.1,-14.7 1088.2,-50.0 1088.2,-50.0 1088.2,-50.0 1088.2,-50.0 1088.3,-50.0 1088.3,-50.0 1088.3,-50.0 1088.4,-50.0 1088.4,-50.0 1088.5,-50.0 1088.5,-50.0 1088.6,-50.0 1088.6,-50.0 1088.6,-50.0 1088.6,-50.0 1088.7,-50.0 1088.7,-50.0 1088.7,-50.0 1088.8,-50.0 1088.8,-50.0 1088.9,-50.0 1088.9,-50.0 1089.0,-50.0 1089.0,-50.0 1089.0,-50.0 1089.0,-50.0 1089.1,-50.0 1089.1,-50.0 1089.1,-50.0 1089.2,-50.0 1089.2,-50.0 1089.3,-50.0 1089.3,-50.0 1089.4,-50.0 1089.4,-50.0 1089.4,-50.0 1089.4,-50.0 1089.5,-50.0 1089.5,-50.0 1089.5,-50.0 1089.6,-50.0 1089.6,-50.0 1089.7,-50.0 1089.7,-50.0 1089.8,-50.0 1089.8,-50.0 1089.8,-50.0 1089.8,-50.0 1089.9,-50.0 1089.9,-50.0 1089.9,-50.0 1090.0,-50.0 1090.0,-50.0 1090.1,-50.0 1090.1,-50.0 1090.2,-50.0 1090.2,-50.0 1090.2,-50.0 1090.2,-50.0 1090.3,-50.0 1090.3,-50.0 1090.3,-50.0 1090.4,-50.0 1090.4,-50.0 1090.5,-50.0 1090.5,-50.0 1090.6,-50.0 1090.6,-50.0 1090.6,-50.0 1090.6,-50.0 1090.7,-50.0 1090.7,-50.0 1090.7,-50.0 1090.8,-50.0 1090.8,-50.0 1090.9,-50.0 1090.9,-50.0 1091.0,-50.0 1091.0,-50.0 1091.0,-50.0 1091.0,-50.0 1091.1,-50.0 1091.1,-50.0 1091.1,-50.0 1091.2,-50.0 1091.2,-50.0 1091.3,-50.0 1091.3,-50.0 1091.4,-50.0 1091.4,-50.0 1091.4,-50.0 1091.4,-50.0 1091.5,-50.0 1091.5,-50.0 1091.5,-50.0 1091.6,-50.0 1091.6,-50.0 1091.7,-50.0 1091.7,-50.0 1091.8,-50.0 1091.8,-50.0 1091.8,-50.0 1091.8,-50.0 1091.9,-50.0 1091.9,-50.0 1091.9,-50.0 1092.0,-50.0 1092.1,-50.0 1092.2,-50.0 1092.2,-50.0 1092.3,-50.0 1092.3,-50.0 1092.4,-50.0 1092.5,-50.0 1092.6,-50.0 1092.6,-50.0 1092.7,-50.0 1092.7,-50.0 1092.8,-50.0 1092.9,-50.0 1093.0,-50.0 1093.0,-50.0 1093.1,-50.0 1093.1,-50.0 1093.2,-50.0 1093.3,-50.0 1093.4,-50.0 1093.4,-50.0 1093.5,-50.0 1093.5,-50.0 1093.6,-50.0 1093.7,-50.0 1093.8,-50.0 1093.8,-50.0 1093.9,-50.0 1093.9,-50.0 1094.0,-50.0 1094.1,-50.0 1094.2,-50.0 1094.2,-50.0 1094.3,-50.0 1094.3,-50.0 1094.4,-50.0 1094.5,-14.1 1094.6,37.4 1094.6,50.0 1094.7,87.3 1094.7,135.6 1094.8,182.4 1094.9,227.7 1095.0,271.3 1095.0,281.9 1095.1,313.3 1095.1,353.6 1095.2,392.3 1095.3,429.3 1095.4,464.7 1095.4,473.3 1095.5,498.5 1095.5,530.7 1095.6,561.4 1095.7,590.6 1095.8,618.3 1095.8,625.0 1095.9,644.6 1095.9,669.5 1096.0,693.0 1096.1,715.2 1096.2,736.2 1096.2,741.2 1096.3,755.9 1096.3,774.4 1096.4,791.8 1096.5,808.1 1096.6,823.4 1096.6,827.0 1096.7,837.7 1096.7,851.0 1096.8,863.5 1096.9,875.3 1097.0,886.3 1097.0,888.9 1097.1,896.5 1097.1,906.0 1097.2,914.8 1097.3,922.9 1097.4,930.4 1097.4,932.2 1097.5,937.4 1097.5,943.8 1097.6,949.8 1097.7,955.4 1097.8,960.5 1097.8,961.8 1097.9,965.3 1097.9,969.7 1098.0,973.8 1098.1,977.6 1098.2,981.1 1098.2,982.0 1098.3,984.4 1098.3,987.4 1098.4,990.1 1098.5,992.8 1098.6,995.4 1098.6,996.0 1098.7,997.9 1098.7,1000.3 1098.8,1002.4 1098.9,1004.1 1099.0,1005.7 1099.0,1006.1 1099.1,1007.1 1099.1,1008.4 1099.2,1009.7 1099.3,1010.9 1099.4,1012.0 1099.4,1012.3 1099.5,1013.1 1099.5,1014.1 1099.6,1015.1 1099.7,1016.0 1099.8,1016.9 1099.8,1017.1 1099.9,1017.8 1099.9,1018.6 1100.0,1019.3 1100.1,1020.0 1100.2,1020.7 1100.2,1020.9 1100.3,1021.3 1100.3,1022.0 1100.4,1022.7 1100.5,1023.6 1100.6,1024.6 1100.6,1024.9 1100.7,1025.6 1100.7,1026.6 1100.8,1027.4 1100.9,1027.7 1101.0,1027.9 1101.0,1028.0 1101.1,1028.2 1101.1,1028.5 1101.2,1028.8 1101.3,1029.6 1101.4,1030.4 1101.4,1030.6 1101.5,1031.1 1101.5,1031.9 1101.6,1032.4 1101.7,1032.5 1101.8,1032.5 1101.8,1032.5 1101.9,1032.5 1101.9,1032.5 1102.0,1032.5 1102.1,1032.5 1102.2,1032.4 1102.2,1032.4 1102.3,1032.3 1102.3,1032.3 1102.4,1032.4 1102.5,1033.3 1102.6,1034.2 1102.6,1034.4 1102.7,1035.0 1102.7,1035.9 1102.8,1036.6 1102.9,1036.7 1103.0,1036.7 1103.0,1036.7 1103.1,1036.7 1103.1,1036.8 1103.2,1036.9 1103.4,1037.5 1103.8,1039.8 1104.2,1040.8 1104.6,1041.6 1105.0,1042.6 1105.4,1042.3 1105.8,1043.4 1106.2,1044.2 1106.6,1045.3 1107.0,1046.9 1107.4,1046.8 1107.8,1047.1 1108.2,1047.7 1108.6,1047.5 1109.0,1047.9 1109.4,1048.2 1109.8,1048.4 1110.2,1048.4 1110.6,1048.5 1111.0,1049.9 1111.4,1049.9 1111.8,1049.9 1112.2,1050.5 1112.6,1051.6 1113.0,1051.9 1113.4,1052.0 1113.8,1053.7 1114.2,1053.9 1114.6,1052.1 1115.0,1052.1 1115.4,1053.8 1115.8,1053.6 1116.2,1053.6 1116.6,1054.2 1117.0,1053.7 1117.4,1053.2 1117.8,1052.5 1118.2,1052.5 1118.6,1052.8 1119.0,1053.3 1119.4,1053.6 1119.8,1053.1 1120.2,1053.0 1120.6,1053.5 1121.0,1052.5 1121.4,1051.8 1121.8,1052.5 1122.2,1053.0 1122.6,1053.4 1123.0,1053.6 1123.4,1053.3 1123.8,1054.0 1124.2,1054.8 1124.6,1053.4 1125.0,1053.3 1125.4,1053.7 1125.8,1055.0 1126.2,1055.5 1126.6,1054.3 1127.0,1054.7 1127.4,1054.9 1127.8,1054.8 1128.2,1056.0 1128.6,1056.2 1129.0,1055.8 1129.4,1056.4 1129.8,1055.2 1130.2,1055.5 1130.6,1056.4 1131.0,1055.8 1131.4,1054.5 1131.8,1054.3 1132.2,1055.0 1132.6,1054.0 1133.0,1055.3 1133.4,1056.1 1133.8,1054.7 1134.2,1054.6 1134.6,1055.5 1135.0,1056.3 1135.4,1056.2 1135.8,1056.4 1136.2,1057.0 1136.6,1055.5 1137.0,1054.3 1137.4,1054.7 1137.8,1055.2 1138.2,1056.8 1138.6,1057.3 1139.0,1055.5 1139.4,1054.8 1139.8,1056.0 1140.2,1055.7 1140.6,1054.9 1141.0,1055.5 1141.4,1054.4 1141.8,1054.8 1142.2,1056.3 1142.6,1056.2 1143.0,1055.3 1143.4,1054.5 1143.8,1054.7 1144.2,1055.3 1144.6,1055.7 1145.0,1055.5 1145.4,1056.5 1145.8,1057.2 1146.2,1055.6 1146.6,1054.4 1147.0,1056.2 1147.4,1056.5 1147.8,1056.4 1148.2,1057.6 1148.6,1056.2 1149.0,1054.9 1149.4,1055.2 1149.8,1054.9 1150.2,1054.4 1150.6,1055.0 1151.0,1056.5 1151.4,1056.7 1151.8,1056.1 1152.2,1056.2 1152.6,1055.4 1153.0,1056.6 1153.4,1055.8 1153.8,1054.1 1154.2,1055.7 1154.6,1055.0 1155.0,1054.9 1155.4,1056.6 1155.8,1055.5 1156.2,1054.8 1156.6,1054.6 1157.0,1054.9 1157.4,1055.7 1157.8,1055.6 1158.2,1056.5 1158.6,1056.8 1159.0,1056.8 1159.4,1057.0 1159.8,1055.3 1160.2,1055.0 1160.6,1056.0 1161.0,1054.9 1161.4,1055.4 1161.8,1056.4 1162.2,1055.9 1162.6,1055.3 1163.0,1055.1 1163.4,1056.0 1163.8,1055.7 1164.2,1055.5 1164.6,1054.3 1165.0,1055.2 1165.4,1056.0 1165.8,1053.8 1166.2,1054.1 1166.6,1055.2 1167.0,1056.3 1167.4,1056.3 1167.8,1056.1 1168.2,1056.0 1168.6,1057.1 1169.0,1057.7 1169.4,1057.3 1169.8,1055.9 1170.2,1054.9 1170.6,1054.8 1171.0,1054.8 1171.4,1056.0 1171.8,1054.8 1172.2,1053.7 1172.6,1054.0 1173.0,1053.8 1173.4,1054.0 1173.8,1054.3 1174.2,1053.8 1174.6,1054.5 1175.0,1055.8 1175.4,1054.8 1175.8,1054.1 1176.2,1054.9 1176.6,1055.0 1177.0,1054.5 1177.4,1055.3 1177.8,1056.4 1178.2,1056.5 1178.6,1056.0 1179.0,1057.1 1179.4,1058.5 1179.8,1056.9 1180.2,1055.6 1180.6,1056.5 1181.0,1055.9 1181.4,1055.2 1181.8,1055.7 1182.2,1055.0 1182.6,1054.9 1183.0,1054.4 1183.4,1054.3 1183.8,1054.1 1184.2,1055.9 1184.6,1058.4 1185.0,1057.8 1185.4,1057.2 1185.8,1057.2 1186.2,1057.9 1186.6,1058.0 1187.0,1057.8 1187.4,1056.6 1187.8,1056.3 1188.2,1056.5 1188.6,1055.4 1189.0,1055.0 1189.4,1055.9 1189.8,1057.2 1190.2,1055.8 1190.6,1056.0 1191.0,1057.6 1191.4,1056.0 1191.8,1054.5 1192.2,1054.5 1192.6,1055.3 1193.0,1055.1 1193.4,1053.7 1193.8,1054.1 1194.2,1053.4 1194.6,1053.1 1195.0,1054.9 1195.4,1054.8 1195.8,1054.3 1196.2,1054.1 1196.6,1053.8 1196.7,1053.9 1196.8,1053.9 1196.9,1053.7 1196.9,1053.5 1197.0,1053.4 1197.0,1053.3 1197.1,1053.1 1197.2,1052.9 1197.3,1052.7 1197.3,1052.4 1197.4,1052.2 1197.4,1052.1 1197.5,1051.8 1197.6,1051.5 1197.7,1051.4 1197.7,1051.5 1197.8,1051.6 1197.8,1051.6 1197.9,1051.7 1198.0,1051.8 1198.1,1051.8 1198.1,1051.7 1198.2,1051.7 1198.2,1051.7 1198.3,1051.6 1198.4,1051.6 1198.5,1051.8 1198.5,1052.0 1198.6,1052.2 1198.6,1052.3 1198.7,1052.5 1198.8,1052.7 1198.9,1052.8 1198.9,1052.8 1199.0,1052.8 1199.0,1052.8 1199.1,1052.8 1199.2,1052.8 1199.3,1052.5 1199.3,1052.1 1199.4,1051.8 1199.4,1051.7 1199.5,1051.4 1199.6,1051.0 1199.7,1050.6 1199.7,1050.2 1199.8,1049.9 1199.8,1049.8 1199.9,1049.4 1200.0,1049.0 1200.1,1048.9 1200.1,1048.8 1200.2,1048.7 1200.2,1048.7 1200.3,1048.6 1200.4,1048.5 1200.5,1048.5 1200.5,1048.5 1200.6,1048.5 1200.6,1048.5 1200.7,1048.5 1200.8,1048.5 1200.9,1048.6 1200.9,1048.9 1201.0,1049.0 1201.0,1049.1 1201.1,1049.3 1201.2,1049.5 1201.3,1049.2 1201.3,1048.8 1201.4,1048.5 1201.4,1048.4 1201.5,1048.0 1201.6,1047.5 1201.7,1047.2 1201.7,1046.9 1201.8,1046.7 1201.8,1046.6 1201.9,1046.3 1202.0,1046.0 1202.1,1045.6 1202.1,1045.2 1202.2,1044.9 1202.2,1044.8 1202.3,1044.4 1202.4,1044.0 1202.5,1044.0 1202.5,1044.1 1202.6,1044.1 1202.6,1044.2 1202.7,1044.2 1202.8,1044.3 1202.9,1044.0 1202.9,1043.5 1203.0,1043.2 1203.0,1043.2 1203.0,1043.0 1203.1,1042.7 1203.1,1042.6 1203.2,1042.2 1203.2,1042.1 1203.2,1041.7 1203.3,1041.6 1203.3,1041.3 1203.3,1041.2 1203.4,1040.8 1203.4,1040.8 1203.4,1040.7 1203.5,1040.4 1203.5,1040.2 1203.6,1039.9 1203.6,1039.8 1203.6,1039.4 1203.7,1039.3 1203.7,1039.0 1203.7,1038.9 1203.8,1038.6 1203.8,1038.6 1203.8,1038.5 1203.9,1038.2 1203.9,1038.1 1204.0,1037.7 1204.0,1037.6 1204.0,1037.4 1204.1,1037.3 1204.1,1037.2 1204.1,1037.1 1204.2,1036.9 1204.2,1036.9 1204.2,1036.9 1204.3,1036.7 1204.3,1036.6 1204.4,1036.4 1204.4,1036.3 1204.4,1035.8 1204.5,1035.5 1204.5,1034.8 1204.5,1034.5 1204.6,1033.8 1204.6,1033.8 1204.6,1033.5 1204.7,1032.8 1204.7,1032.5 1204.8,1031.7 1204.8,1031.5 1204.8,1031.0 1204.9,1030.9 1204.9,1030.6 1204.9,1030.5 1205.0,1030.2 1205.0,1030.2 1205.0,1030.1 1205.1,1029.7 1205.1,1029.6 1205.2,1029.2 1205.2,1029.1 1205.2,1028.5 1205.3,1028.3 1205.3,1027.5 1205.3,1027.3 1205.4,1026.6 1205.4,1026.6 1205.4,1026.3 1205.5,1025.6 1205.5,1025.3 1205.6,1024.5 1205.6,1024.3 1205.6,1023.5 1205.7,1023.2 1205.7,1022.3 1205.7,1022.0 1205.8,1021.1 1205.8,1021.1 1205.8,1020.8 1205.9,1019.9 1205.9,1019.6 1206.0,1018.7 1206.0,1018.4 1206.0,1017.6 1206.1,1017.3 1206.1,1016.6 1206.1,1016.4 1206.2,1015.6 1206.2,1015.6 1206.2,1015.4 1206.3,1014.6 1206.3,1014.3 1206.4,1013.5 1206.4,1013.3 1206.4,1012.4 1206.5,1012.1 1206.5,1011.1 1206.5,1010.8 1206.6,1009.9 1206.6,1009.9 1206.6,1009.5 1206.7,1008.6 1206.7,1008.3 1206.8,1007.4 1206.8,1007.1 1206.8,1006.2 1206.9,1005.9 1206.9,1005.0 1206.9,1004.7 1207.0,1003.8 1207.0,1003.8 1207.0,1003.5 1207.1,1002.7 1207.1,1002.4 1207.2,1001.6 1207.2,1001.3 1207.2,1000.6 1207.3,1000.4 1207.3,999.7 1207.3,999.5 1207.4,998.8 1207.4,998.8 1207.4,998.6 1207.5,998.0 1207.5,997.8 1207.6,997.2 1207.6,997.0 1207.6,996.5 1207.7,996.3 1207.7,995.8 1207.7,995.6 1207.8,995.1 1207.8,995.1 1207.8,995.0 1207.9,994.6 1207.9,994.4 1208.0,994.1 1208.0,994.0 1208.0,993.8 1208.1,993.7 1208.1,993.6 1208.1,993.6 1208.2,993.5 1208.2,993.5 1208.2,993.5 1208.3,993.5 1208.3,993.5 1208.4,993.6 1208.4,993.6 1208.4,993.8 1208.5,993.8 1208.5,994.0 1208.5,994.0 1208.6,994.2 1208.6,994.2 1208.6,994.3 1208.7,994.6 1208.7,994.7 1208.8,995.1 1208.8,995.2 1208.8,995.7 1208.9,995.8 1208.9,996.4 1208.9,996.5 1209.0,997.1 1209.0,997.1 1209.0,997.3 1209.1,997.9 1209.1,998.2 1209.2,998.8 1209.2,999.1 1209.2,999.8 1209.3,1000.0 1209.3,1000.8 1209.3,1001.0 1209.4,1001.8 1209.4,1001.8 1209.4,1002.1 1209.5,1002.9 1209.5,1003.2 1209.6,1004.0 1209.6,1004.3 1209.6,1005.0 1209.7,1005.2 1209.7,1005.8 1209.7,1006.1 1209.8,1006.7 1209.8,1006.7 1209.8,1006.9 1209.9,1007.5 1209.9,1007.7 1210.0,1008.3 1210.0,1008.5 1210.0,1009.4 1210.1,1009.7 1210.1,1010.8 1210.1,1011.1 1210.2,1012.2 1210.2,1012.2 1210.2,1012.6 1210.3,1013.6 1210.3,1014.0 1210.4,1015.1 1210.4,1015.4 1210.4,1016.2 1210.5,1016.4 1210.5,1017.1 1210.5,1017.3 1210.6,1017.8 1210.6,1017.8 1210.6,1018.0 1210.7,1018.6 1210.7,1018.8 1210.8,1019.3 1210.8,1019.5 1210.8,1020.3 1210.9,1020.7 1210.9,1021.6 1210.9,1021.9 1211.0,1022.9 1211.0,1022.9 1211.0,1023.2 1211.1,1024.1 1211.1,1024.5 1211.2,1025.4 1211.2,1025.7 1211.2,1026.4 1211.3,1026.5 1211.3,1027.1 1211.3,1027.2 1211.4,1027.7 1211.4,1027.7 1211.4,1027.9 1211.5,1028.4 1211.5,1028.5 1211.6,1029.0 1211.6,1029.2 1211.6,1029.8 1211.7,1030.0 1211.7,1030.7 1211.7,1030.9 1211.8,1031.6 1211.8,1031.6 1211.8,1031.8 1211.9,1032.4 1211.9,1032.7 1212.0,1033.3 1212.0,1033.5 1212.0,1034.1 1212.1,1034.3 1212.1,1035.0 1212.1,1035.2 1212.2,1035.8 1212.2,1035.8 1212.2,1036.0 1212.3,1036.6 1212.3,1036.8 1212.4,1037.4 1212.4,1037.6 1212.4,1037.8 1212.5,1037.8 1212.5,1037.7 1212.5,1037.6 1212.6,1037.5 1212.6,1037.5 1212.6,1037.5 1212.7,1037.4 1212.7,1037.3 1212.8,1037.2 1212.8,1037.1 1212.8,1037.4 1212.9,1037.6 1212.9,1038.2 1212.9,1038.4 1213.0,1039.0 1213.0,1039.0 1213.0,1039.2 1213.1,1039.8 1213.1,1040.0 1213.2,1040.6 1213.2,1040.7 1213.2,1041.1 1213.3,1041.2 1213.3,1041.4 1213.3,1041.4 1213.4,1041.6 1213.4,1041.6 1213.4,1041.7 1213.5,1041.9 1213.5,1042.0 1213.6,1042.1 1213.6,1042.2 1213.6,1042.2 1213.7,1042.2 1213.7,1042.1 1213.7,1042.1 1213.8,1042.0 1213.8,1042.0 1213.8,1042.0 1213.9,1041.9 1213.9,1041.9 1214.0,1041.8 1214.0,1041.7 1214.0,1042.1 1214.1,1042.3 1214.1,1042.9 1214.1,1043.2 1214.2,1043.8 1214.2,1043.8 1214.2,1044.0 1214.3,1044.6 1214.3,1044.9 1214.4,1045.5 1214.4,1045.7 1214.4,1046.0 1214.5,1046.0 1214.5,1046.1 1214.5,1046.1 1214.6,1046.2 1214.6,1046.2 1214.6,1046.3 1214.7,1046.3 1214.7,1046.4 1214.8,1046.4 1214.8,1046.5 1214.8,1046.6 1214.9,1046.6 1214.9,1046.7 1214.9,1046.7 1215.0,1046.8 1215.0,1046.8 1215.0,1046.9 1215.1,1047.0 1215.1,1047.0 1215.2,1047.1 1215.2,1047.1 1215.2,1047.2 1215.3,1047.3 1215.3,1047.4 1215.3,1047.5 1215.4,1047.6 1215.4,1047.6 1215.4,1047.6 1215.5,1047.8 1215.5,1047.8 1215.6,1047.9 1215.6,1048.0 1215.6,1048.5 1215.7,1048.7 1215.7,1049.4 1215.7,1049.6 1215.8,1050.3 1215.8,1050.3 1215.8,1050.5 1215.9,1051.2 1215.9,1051.4 1216.0,1052.1 1216.0,1052.4 1216.0,1052.4 1216.1,1052.2 1216.1,1051.9 1216.1,1051.8 1216.2,1051.4 1216.2,1051.4 1216.2,1051.3 1216.3,1051.0 1216.3,1050.8 1216.4,1050.5 1216.4,1050.4 1216.4,1050.2 1216.5,1050.1 1216.5,1050.0 1216.5,1049.9 1216.6,1049.8 1216.6,1049.8 1216.6,1049.7 1216.7,1049.5 1216.7,1049.5 1216.8,1049.3 1216.8,1049.3 1216.8,1049.4 1216.9,1049.4 1216.9,1049.7 1216.9,1049.8 1217.0,1050.0 1217.0,1050.0 1217.0,1050.1 1217.1,1050.3 1217.1,1050.4 1217.2,1050.7 1217.2,1050.7 1217.2,1050.9 1217.3,1051.0 1217.3,1051.2 1217.3,1051.2 1217.4,1051.4 1217.4,1051.4 1217.4,1051.5 1217.5,1051.7 1217.5,1051.7 1217.6,1051.9 1217.6,1052.0 1217.6,1052.1 1217.7,1052.1 1217.7,1052.2 1217.7,1052.2 1217.8,1052.2 1217.8,1052.2 1217.8,1052.3 1217.9,1052.3 1217.9,1052.4 1218.0,1052.4 1218.0,1052.4 1218.0,1052.5 1218.1,1052.6 1218.1,1052.7 1218.1,1052.7 1218.2,1052.9 1218.2,1052.9 1218.2,1052.9 1218.3,1053.0 1218.3,1053.0 1218.4,1053.2 1218.4,1053.2 1218.4,1053.2 1218.5,1053.1 1218.5,1053.0 1218.5,1052.9 1218.6,1052.8 1218.6,1052.8 1218.6,1052.7 1218.7,1052.6 1218.7,1052.6 1218.8,1052.4 1218.8,1052.4 1218.8,1052.6 1218.9,1052.7 1218.9,1053.0 1218.9,1053.1 1219.0,1053.5 1219.0,1053.5 1219.0,1053.6 1219.1,1053.9 1219.1,1054.0 1219.2,1054.4 1219.2,1054.5 1219.2,1054.5 1219.3,1054.5 1219.3,1054.3 1219.3,1054.2 1219.4,1054.1 1219.4,1054.1 1219.4,1054.0 1219.5,1053.9 1219.5,1053.8 1219.6,1053.6 1219.6,1053.6 1219.6,1053.4 1219.7,1053.4 1219.7,1053.2 1219.7,1053.2 1219.8,1053.1 1219.8,1053.1 1219.8,1053.0 1219.9,1052.9 1219.9,1052.8 1220.0,1052.7 1220.0,1052.6 1220.0,1052.7 1220.1,1052.7 1220.1,1052.8 1220.1,1052.9 1220.2,1053.0 1220.2,1053.0 1220.2,1053.0 1220.3,1053.2 1220.3,1053.2 1220.4,1053.3 1220.4,1053.4 1220.4,1053.5 1220.5,1053.5 1220.5,1053.6 1220.5,1053.6 1220.6,1053.7 1220.6,1053.7 1220.6,1053.8 1220.7,1053.9 1220.8,1054.0 1220.8,1054.3 1220.9,1054.6 1221.0,1055.0 1221.0,1055.0 1221.1,1055.3 1221.2,1055.7 1221.2,1055.8 1221.3,1055.8 1221.4,1055.7 1221.4,1055.7 1221.5,1055.6 1221.6,1055.6 1221.6,1055.5 1221.7,1055.3 1221.8,1055.1 1221.8,1055.1 1221.9,1054.9 1222.0,1054.8 1222.0,1054.7 1222.1,1054.8 1222.2,1055.0 1222.2,1055.0 1222.3,1055.1 1222.4,1055.2 1222.4,1055.3 1222.5,1055.4 1222.6,1055.4 1222.6,1055.4 1222.7,1055.5 1222.8,1055.5 1222.8,1055.8 1222.9,1056.3 1223.0,1056.8 1223.0,1056.8 1223.1,1057.3 1223.2,1057.8 1223.2,1057.7 1223.3,1057.0 1223.4,1056.3 1223.4,1056.3 1223.5,1055.6 1223.6,1054.9 1223.6,1054.7 1223.7,1055.0 1223.8,1055.3 1223.8,1055.3 1223.9,1055.6 1224.0,1055.9 1224.0,1056.0 1224.1,1056.1 1224.2,1056.2 1224.2,1056.2 1224.3,1056.2 1224.4,1056.3 1224.4,1056.1 1224.5,1055.7 1224.6,1055.3 1224.6,1055.3 1224.7,1054.8 1224.8,1054.4 1224.8,1054.3 1224.9,1054.6 1225.0,1054.9 1225.0,1054.9 1225.1,1055.3 1225.2,1055.6 1225.2,1055.8 1225.3,1055.8 1225.4,1055.9 1225.4,1055.9 1225.5,1055.9 1225.6,1055.9 1225.6,1055.9 1225.7,1055.8 1225.8,1055.7 1225.8,1055.7 1225.9,1055.6 1226.0,1055.4 1226.0,1055.6 1226.1,1055.9 1226.2,1056.2 1226.2,1056.2 1226.3,1056.5 1226.4,1056.9 1226.4,1057.1 1226.5,1057.3 1226.6,1057.5 1226.6,1057.5 1226.7,1057.6 1226.8,1057.8 1226.8,1057.9 1226.9,1058.0 1227.0,1058.0 1227.4,1057.3 1227.8,1056.7 1228.2,1058.3 1228.6,1057.4 1229.0,1056.2 1229.4,1057.7 1229.8,1057.8 1230.2,1057.7 1230.6,1057.8 1231.0,1057.8 1231.4,1058.4 1231.8,1057.6 1232.2,1056.7 1232.6,1056.7 1233.0,1056.2 1233.4,1056.2 1233.8,1055.7 1234.2,1056.3 1234.6,1058.2 1235.0,1058.8 1235.4,1058.5 1235.8,1056.7 1236.2,1056.7 1236.6,1056.8 1237.0,1055.7 1237.4,1057.5 1237.8,1057.0 1238.2,1056.4 1238.6,1057.4 1239.0,1056.8 1239.4,1056.1 1239.8,1056.5 1240.2,1056.8 1240.6,1057.3 1241.0,1058.5 1241.4,1057.0 1241.8,1055.9 1242.2,1056.7 1242.6,1056.4 1243.0,1056.0 1243.4,1056.9 1243.8,1057.5 1244.2,1056.5 1244.6,1056.3 1245.0,1057.9 1245.4,1057.5 1245.8,1056.6 1246.2,1058.5 1246.6,1060.0 1247.0,1057.8 1247.4,1055.9 1247.8,1057.1 1248.2,1057.2 1248.6,1056.8 1249.0,1057.3 1249.4,1058.0 1249.8,1056.9 1250.2,1055.2 1250.6,1056.1 1251.0,1058.3 1251.4,1059.1 1251.8,1057.2 1252.2,1057.5 1252.6,1059.0 1253.0,1058.3 1253.4,1057.4 1253.8,1057.8 1254.2,1058.9 1254.6,1058.7 1255.0,1058.4 1255.4,1058.2 1255.8,1057.6 1256.2,1056.9 1256.6,1057.2 1257.0,1057.5 1257.4,1057.0 1257.8,1057.8 1258.2,1058.2 1258.6,1058.1 1259.0,1056.6 1259.4,1056.3 1259.8,1056.9 1260.2,1056.0 1260.6,1055.9 1261.0,1057.3 1261.4,1058.5 1261.8,1057.3 1262.2,1056.1 1262.6,1056.6 1263.0,1057.1 1263.4,1058.1 1263.8,1057.3 1264.2,1054.9 1264.6,1055.5 1265.0,1056.7 1265.4,1056.9 1265.8,1057.4 1266.2,1058.8 1266.6,1058.3 1267.0,1056.8 1267.4,1056.1 1267.8,1057.0 1268.2,1059.0 1268.6,1058.7 1269.0,1058.9 1269.4,1059.0 1269.8,1059.1 1270.2,1059.1 1270.6,1057.3 1271.0,1056.7 1271.4,1056.5 1271.8,1055.9 1272.2,1057.2 1272.6,1059.0 1273.0,1060.2 1273.4,1059.6 1273.8,1058.2 1274.2,1057.5 1274.6,1058.2 1275.0,1059.2 1275.4,1058.0 1275.8,1058.1 1276.2,1058.8 1276.6,1057.1 1277.0,1057.2 1277.4,1058.6 1277.8,1057.8 1278.2,1057.5 1278.6,1059.0 1279.0,1060.3 1279.4,1060.3 1279.8,1058.5 1280.2,1056.8 1280.6,1058.1 1281.0,1057.8 1281.4,1056.6 1281.8,1056.1 1282.2,1057.7 1282.6,1059.4 1283.0,1058.3 1283.4,1057.7 1283.8,1057.1 1284.2,1056.9 1284.6,1057.9 1285.0,1057.9 1285.4,1058.4 1285.8,1058.5 1286.2,1057.0 1286.6,1058.1 1287.0,1058.6 1287.4,1058.1 1287.8,1058.0 1288.2,1056.2 1288.6,1056.9 1289.0,1057.4 1289.4,1057.6 1289.8,1057.3 1290.2,1055.2 1290.6,1056.2 1291.0,1057.6 1291.4,1057.3 1291.8,1056.1 1292.2,1056.5 1292.6,1056.4 1293.0,1055.6 1293.4,1056.1 1293.8,1056.3 1294.2,1057.5 1294.6,1057.4 1295.0,1057.3 1295.4,1058.4 1295.8,1057.0 1296.2,1056.0 1296.6,1057.0 1297.0,1057.5 1297.4,1057.9 1297.8,1056.9 1298.2,1057.0 1298.6,1058.7 1299.0,1057.9 1299.4,1056.4 1299.8,1056.5 1300.2,1057.0 1300.6,1057.5 1301.0,1057.8 1301.4,1058.0 1301.8,1057.8 1302.2,1058.2 1302.6,1057.0 1303.0,1055.2 1303.4,1056.9 1303.8,1056.4 1304.2,1056.5 1304.6,1056.6 1305.0,1056.1 1305.4,1056.3 1305.8,1055.9 1306.2,1056.7 1306.6,1057.0 1307.0,1056.8 1307.4,1058.6 1307.8,1059.1 1308.2,1057.2 1308.6,1058.0 1309.0,1059.4 1309.4,1059.6 1309.8,1060.2 1310.2,1058.7 1310.6,1058.1 1311.0,1059.4 1311.4,1058.6 1311.8,1057.9 1312.2,1056.4 1312.6,1055.8 1313.0,1058.5 1313.4,1057.8 1313.8,1056.4 1314.2,1057.8 1314.6,1058.5 1315.0,1059.3 1315.4,1057.6 1315.8,1056.4 1316.2,1058.0 1316.6,1057.1 1317.0,1056.5 1317.4,1058.7 1317.8,1059.6 1318.2,1058.8 1318.6,1056.5 1319.0,1056.0 1319.4,1057.6 1319.8,1057.3 1320.2,1056.8 1320.6,1058.3 1321.0,1058.0 1321.4,1055.8 1321.8,1056.1 1322.2,1056.5 1322.6,1056.2 1323.0,1056.4 1323.4,1057.1 1323.8,1057.3 1324.2,1056.0 1324.6,1055.8 1325.0,1057.1 1325.4,1056.9 1325.8,1057.5 1326.2,1058.3 1326.6,1056.8 1327.0,1056.4 1327.4,1058.3 1327.8,1059.1 1328.2,1057.7 1328.6,1057.2 1329.0,1056.8 1329.4,1055.2 1329.8,1056.0 1330.2,1057.2 1330.6,1057.2 1331.0,1057.1 1331.4,1057.1 1331.8,1056.9 1332.2,1056.9 1332.6,1057.7 1333.0,1057.3 1333.4,1057.2 1333.8,1055.9 1334.2,1054.9 1334.6,1057.1 1335.0,1058.9 1335.4,1058.3 1335.8,1057.2 1336.2,1056.3 1336.6,1056.6 1337.0,1057.8 1337.4,1056.5 1337.8,1056.3 1338.2,1057.7 1338.6,1057.6 1339.0,1056.5 1339.4,1056.5 1339.8,1056.1 1340.2,1056.5 1340.6,1057.3 1341.0,1055.3 1341.4,1055.9 1341.8,1057.4 1342.2,1056.0 1342.6,1056.7 1343.0,1056.4 1343.4,1055.2 1343.8,1056.7 1344.2,1055.1 1344.6,1055.1 1345.0,1056.7 1345.4,1056.2 1345.8,1055.7 1346.2,1056.0 1346.6,1056.1 1347.0,1055.2 1347.4,1055.6 1347.8,1055.4 1348.2,1056.7 1348.6,1056.6 1349.0,1055.1 1349.4,1055.8 1349.8,1056.3 1350.2,1057.1 1350.6,1057.5 1351.0,1056.7 1351.4,1055.9 1351.8,1056.3 1352.2,1057.3 1352.6,1057.9 1353.0,1057.2 1353.4,1055.4 1353.8,1057.0 1354.2,1058.7 1354.6,1057.2 1355.0,1056.5 1355.4,1055.8 1355.8,1054.8 1356.2,1055.2 1356.6,1055.9 1357.0,1055.9 1357.4,1055.1 1357.8,1055.1 1358.2,1056.2 1358.6,1055.8 1359.0,1055.1 1359.4,1053.8 1359.8,1053.5 1360.2,1054.8 1360.6,1054.2 1361.0,1053.2 1361.4,1054.4 1361.8,1055.1 1362.2,1055.2 1362.6,1055.6 1363.0,1055.7 1363.4,1055.8 1363.8,1054.3 1364.2,1054.4 1364.6,1055.1 1365.0,1055.4 1365.4,1055.2 1365.8,1054.4 1366.2,1055.2 1366.6,1056.3 1367.0,1056.3 1367.4,1056.3 1367.8,1056.2 1368.2,1056.1 1368.6,1056.5 1369.0,1056.3 1369.4,1055.8 1369.8,1055.6 1370.2,1057.1 1370.6,1057.2 1371.0,1055.7 1371.4,1055.5 1371.8,1055.6 1372.2,1055.9 1372.6,1055.0 1373.0,1053.4 1373.4,1054.4 1373.8,1054.7 1374.2,1055.0 1374.6,1056.5 1375.0,1057.4 1375.4,1058.5 1375.8,1057.9 1376.2,1056.3 1376.6,1055.1 1377.0,1054.8 1377.4,1055.4 1377.8,1054.5 1378.2,1054.5 1378.6,1056.0 1379.0,1056.5 1379.4,1056.3 1379.8,1056.0 1380.2,1055.7 1380.6,1055.2 1381.0,1054.4 1381.4,1054.7 1381.8,1056.7 1382.2,1056.6 1382.6,1055.9 1383.0,1055.2 1383.4,1056.0 1383.8,1056.3 1384.2,1056.2 1384.6,1057.1 1385.0,1056.2 1385.4,1056.9 1385.8,1057.6 1386.2,1057.0 1386.6,1057.1 1387.0,1056.8 1387.4,1056.0 1387.8,1056.2 1388.2,1056.1 1388.6,1055.9 1389.0,1055.8 1389.4,1054.9 1389.8,1055.1 1390.2,1056.0 1390.6,1056.8 1391.0,1058.1 1391.4,1057.2 1391.8,1056.6 1392.2,1056.4 1392.6,1055.6 1393.0,1056.7 1393.4,1056.0 1393.8,1055.1 1394.2,1056.7 1394.6,1057.9 1395.0,1057.6 1395.4,1056.9 1395.8,1058.1 1396.2,1058.3 1396.6,1056.0 1397.0,1057.3 1397.4,1058.3 1397.8,1057.2 1398.2,1057.8 1398.6,1058.3 1399.0,1058.1 1399.4,1058.1 1399.8,1056.8 1400.2,1057.1 1400.6,1057.8 1401.0,1056.3 1401.4,1055.6 1401.8,1056.8 1402.2,1057.1 1402.6,1056.5 1403.0,1057.3 1403.4,1057.4 1403.8,1056.1 1404.2,1056.4 1404.6,1058.1 1405.0,1058.2 1405.4,1058.7 1405.8,1058.5 1406.2,1058.1 1406.6,1059.1 1407.0,1058.7 1407.4,1059.0 1407.8,1060.5 1408.2,1059.8 1408.6,1059.8 1409.0,1059.8 1409.4,1058.0 1409.8,1058.3 1410.2,1059.2 1410.6,1058.7 1411.0,1058.7 1411.4,1059.4 1411.8,1059.7 1412.2,1058.3 1412.6,1058.4 1413.0,1059.5 1413.4,1058.8 1413.8,1058.0 1414.2,1058.2 1414.6,1058.0 1415.0,1058.4 1415.4,1059.4 1415.8,1060.3 1416.2,1060.3 1416.6,1059.6 1417.0,1059.4 1417.4,1059.5 1417.8,1058.6 1418.2,1058.3 1418.6,1059.0 1419.0,1058.7 1419.4,1058.4 1419.8,1058.3 1420.2,1058.5 1420.6,1058.0 1421.0,1058.6 1421.4,1059.4 1421.8,1059.2 1422.2,1059.5 1422.6,1059.9 1423.0,1059.1 1423.4,1058.4 1423.8,1057.6 1424.2,1056.0 1424.6,1055.7 1425.0,1058.1 1425.4,1058.1 1425.8,1057.4 1426.2,1059.6 1426.6,1059.0 1427.0,1059.2 1427.4,1060.9 1427.8,1060.5 1428.2,1060.7 1428.6,1060.4 1429.0,1058.3 1429.4,1058.2 1429.8,1058.3 1430.2,1057.1 1430.6,1056.7 1431.0,1059.2 1431.4,1059.8 1431.8,1058.3 1432.2,1058.2 1432.6,1058.2 1433.0,1058.3 1433.4,1057.7 1433.8,1056.9 1434.2,1056.2 1434.6,1056.5 1435.0,1057.7 1435.4,1059.8 1435.8,1060.4 1436.2,1060.3 1436.6,1059.8 1437.0,1058.3 1437.4,1056.9 1437.8,1056.7 1438.2,1056.0 1438.6,1055.8 1439.0,1058.6 1439.4,1059.4 1439.8,1059.4 1440.2,1059.1 1440.6,1057.5 1441.0,1057.3 1441.4,1057.8 1441.8,1058.8 1442.2,1060.3 1442.6,1059.1 1443.0,1057.6 1443.4,1058.1 1443.8,1058.1 1444.2,1057.3 1444.6,1057.5 1445.0,1058.5 1445.4,1058.7 1445.8,1057.6 1446.2,1057.3 1446.6,1057.0 1447.0,1057.6 1447.4,1058.0 1447.8,1057.0 1448.2,1057.2 1448.6,1056.8 1449.0,1056.4 1449.4,1055.6 1449.8,1057.6 1450.2,1059.0 1450.6,1058.1 1451.0,1059.4 1451.4,1059.2 1451.8,1058.2 1452.2,1058.4 1452.6,1059.0 1453.0,1059.5 1453.4,1059.0 1453.8,1058.5 1454.2,1058.5 1454.6,1059.5 1455.0,1057.9 1455.4,1057.0 1455.8,1058.0 1456.2,1057.7 1456.6,1056.5 1457.0,1057.1 1457.4,1057.7 1457.8,1056.8 1458.2,1056.9 1458.6,1055.7 1459.0,1055.5 1459.4,1055.2 1459.8,1054.7 1460.2,1055.6 1460.6,1056.3 1461.0,1056.7 1461.4,1056.7 1461.8,1058.3 1462.2,1058.9 1462.6,1056.8 1463.0,1056.2 1463.4,1056.5 1463.8,1056.8 1464.2,1056.7 1464.6,1056.0 1465.0,1057.3 1465.4,1057.7 1465.8,1056.3 1466.2,1056.1 1466.6,1056.2 1467.0,1057.3 1467.4,1057.8 1467.8,1057.6 1468.2,1055.8 1468.6,1055.2 1469.0,1057.4 1469.4,1058.7 1469.8,1058.2 1470.2,1056.0 1470.6,1056.6 1471.0,1057.5 1471.4,1055.7 1471.8,1055.5 1472.2,1057.0 1472.6,1057.8 1473.0,1057.3 1473.4,1055.6 1473.8,1056.7 1474.2,1056.7 1474.6,1055.4 1475.0,1055.4 1475.4,1056.5 1475.8,1057.8 1476.2,1057.7 1476.6,1057.5 1477.0,1056.9 1477.4,1057.0 1477.8,1055.7 1478.2,1056.2 1478.6,1057.9 1479.0,1056.9 1479.4,1056.2 1479.8,1056.5 1480.2,1057.4 1480.6,1057.3 1481.0,1056.1 1481.4,1055.4 1481.8,1054.4 1482.2,1054.7 1482.6,1056.0 1483.0,1056.6 1483.4,1056.8 1483.8,1057.6 1484.2,1057.9 1484.6,1057.4 1485.0,1057.3 1485.4,1057.0 1485.8,1056.4 1486.2,1056.5 1486.6,1055.3 1487.0,1055.9 1487.4,1056.2 1487.8,1056.0 1488.2,1056.9 1488.6,1057.0 1489.0,1057.0 1489.4,1055.6 1489.8,1056.3 1490.2,1057.0 1490.6,1056.5 1491.0,1056.5 1491.4,1057.1 1491.8,1057.7 1492.2,1057.2 1492.6,1055.6 1493.0,1055.1 1493.4,1056.1 1493.8,1057.5 1494.2,1057.7 1494.6,1056.7 1495.0,1057.4 1495.4,1057.6 1495.8,1056.8 1496.2,1056.9 1496.6,1055.6 1497.0,1055.8 1497.4,1056.6 1497.8,1055.6 1498.2,1054.4 1498.6,1054.7 1499.0,1056.4 1499.4,1055.8 1499.8,1054.2 1500.2,1054.8 1500.6,1054.3 1501.0,1052.4 1501.4,1053.1 1501.8,1054.0 1502.2,1054.1 1502.6,1054.2 1503.0,1054.7 1503.4,1055.0 1503.8,1054.4 1504.2,1054.2 1504.6,1054.9 1505.0,1055.7 1505.4,1055.8 1505.8,1055.6 1506.2,1053.7 1506.6,1052.8 1507.0,1054.3 1507.4,1055.1 1507.8,1054.3 1508.2,1054.9 1508.6,1055.9 1509.0,1054.3 1509.4,1054.1 1509.8,1054.2 1510.2,1053.7 1510.6,1054.4 1511.0,1054.7 1511.4,1053.5 1511.8,1053.4 1512.2,1054.1 1512.6,1053.8 1513.0,1054.5 1513.4,1054.4 1513.8,1054.6 1514.2,1055.7 1514.6,1053.8 1515.0,1053.0 1515.4,1054.1 1515.8,1053.7 1516.2,1052.0 1516.6,1052.0 1517.0,1053.8 1517.4,1052.5 1517.8,1051.4 1518.2,1052.1 1518.6,1051.6 1519.0,1051.3 1519.4,1051.4 1519.8,1052.6 1520.2,1053.4 1520.6,1052.3 1521.0,1052.9 1521.4,1052.6 1521.8,1051.8 1522.2,1052.3 1522.6,1052.2 1523.0,1052.0 1523.4,1051.6 1523.8,1051.0 1524.2,1050.7 1524.6,1050.7 1525.0,1051.2 1525.4,1050.4 1525.8,1049.7 1526.2,1050.3 1526.6,1049.6 1527.0,1048.9 1527.4,1049.0 1527.8,1048.4 1528.2,1047.2 1528.6,1048.3 1529.0,1048.0 1529.4,1048.1 1529.8,1048.6 1530.2,1047.5 1530.6,1047.4 1531.0,1047.2 1531.4,1046.8 1531.8,1046.1 1532.2,1046.0 1532.6,1046.7 1533.0,1047.2 1533.4,1047.0 1533.8,1046.1 1534.2,1044.8 1534.6,1043.2 1535.0,1043.2 1535.4,1044.1 1535.8,1043.1 1536.2,1042.8 1536.6,1043.3 1537.0,1042.6 1537.4,1042.0 1537.8,1041.7 1538.2,1039.8 1538.6,1038.9 1539.0,1039.1 1539.4,1039.1 1539.8,1038.4 1540.2,1037.3 1540.6,1036.6 1541.0,1036.1 1541.4,1035.9 1541.8,1035.6 1542.2,1035.1 1542.6,1033.8 1543.0,1032.6 1543.4,1031.6 1543.8,1030.5 1544.2,1030.0 1544.6,1027.9 1545.0,1026.1 1545.4,1026.0 1545.8,1025.3 1546.2,1023.5 1546.6,1021.7 1547.0,1020.8 1547.4,1018.8 1547.8,1016.1 1548.2,1014.2 1548.6,1012.5 1549.0,1010.8 1549.4,1008.9 1549.8,1006.9 1550.2,1004.7 1550.6,1001.5 1551.0,998.5 1551.4,995.3 1551.8,992.0 1552.2,988.4 1552.6,984.3 1553.0,979.8 1553.4,974.9 1553.8,969.5 1554.2,963.9 1554.6,957.3 1555.0,950.1 1555.4,942.3 1555.4,942.3 1555.5,940.6 1555.6,938.8 1555.6,937.0 1555.7,935.0 1555.8,933.0 1555.8,933.0 1555.9,931.0 1556.0,928.9 1556.0,926.8 1556.1,924.7 1556.2,922.5 1556.2,922.5 1556.3,920.2 1556.4,917.9 1556.4,915.5 1556.5,913.0 1556.6,910.4 1556.6,910.4 1556.7,907.7 1556.8,904.9 1556.8,902.0 1556.9,899.0 1557.0,895.8 1557.0,895.8 1557.1,892.5 1557.2,889.0 1557.2,885.3 1557.3,881.4 1557.4,877.2 1557.4,877.2 1557.5,872.8 1557.6,868.2 1557.6,863.3 1557.7,858.1 1557.8,852.6 1557.8,852.6 1557.9,846.7 1558.0,840.4 1558.0,833.6 1558.1,826.4 1558.2,818.7 1558.2,818.7 1558.3,810.3 1558.4,801.4 1558.4,791.7 1558.5,781.3 1558.6,770.0 1558.6,770.0 1558.7,757.8 1558.8,744.6 1558.8,730.3 1558.9,714.9 1559.0,698.2 1559.0,698.2 1559.1,680.2 1559.2,660.6 1559.2,639.3 1559.3,616.3 1559.4,591.4 1559.4,591.4 1559.5,564.5 1559.6,535.2 1559.6,503.7 1559.7,469.5 1559.8,432.6 1559.8,432.6 1559.9,392.7 1560.0,349.6 1560.0,303.0 1560.1,252.7 1560.2,198.5 1560.2,198.5 1560.3,140.2 1560.4,77.4 1560.4,10.0 1560.5,-50.0 1560.6,-50.0 1560.6,-50.0 1560.7,-50.0 1560.8,-50.0 1560.8,-50.0 1560.9,-50.0 1561.0,-50.0 1561.0,-50.0 1561.1,-50.0 1561.2,-50.0 1561.2,-50.0 1561.3,-50.0 1561.4,-50.0 1561.4,-50.0 1561.5,-50.0 1561.6,-50.0 1561.6,-50.0 1561.7,-50.0 1561.8,-50.0 1561.8,-50.0 1561.9,-50.0 1562.0,-50.0 1562.0,-50.0 1562.1,-50.0 1562.2,-50.0 1562.2,-50.0 1562.3,-50.0 1562.4,-50.0 1562.4,-50.0 1562.5,-50.0 1562.6,-50.0 1562.6,-50.0 1562.7,-50.0 1562.8,-50.0 1562.8,-50.0 1562.9,-50.0 1563.0,-50.0 1563.0,-50.0 1563.1,-50.0 1563.2,-50.0 1563.2,-50.0 1563.3,-50.0 1563.4,-50.0 1563.4,-50.0 1563.5,-50.0 1563.6,-50.0 1563.6,-50.0 1563.7,-50.0 1563.8,-50.0 1563.8,-50.0 1563.9,-50.0 1564.0,-50.0 1564.0,-50.0 1564.1,-50.0 1564.2,-50.0 1564.2,-50.0 1564.3,-50.0 1564.4,-50.0 1564.4,-50.0 1564.5,-50.0 1564.6,-50.0 1564.6,-50.0 1564.7,-50.0 1564.8,-50.0 1564.8,-50.0 1564.9,-50.0 1565.0,-50.0 1565.0,-50.0 1565.1,-50.0 1565.2,-50.0 1565.2,-50.0 1565.3,-50.0 1565.4,-50.0 1565.4,-50.0 1565.5,-50.0 1565.6,-50.0 1565.6,-50.0 1565.7,-50.0 1565.8,-50.0 1565.8,-50.0 1565.9,-50.0 1566.0,-50.0 1566.0,-50.0 1566.1,-50.0 1566.2,-50.0 1566.2,-50.0 1566.3,-50.0 1566.4,-50.0 1566.4,-50.0 1566.5,-50.0 1566.6,-50.0 1566.6,-50.0 1566.7,-50.0 1566.8,-50.0 1566.8,-50.0 1566.9,-50.0 1567.0,-50.0 1567.0,-50.0 1567.1,-50.0 1567.2,-50.0 1567.2,-50.0 1567.3,-50.0 1567.4,-50.0 1567.4,-50.0 1567.5,-50.0 1567.6,-50.0 1567.6,-50.0 1567.7,-50.0 1567.8,-50.0 1567.8,-50.0 1567.9,-50.0 1568.0,-50.0 1568.0,-50.0 1568.1,-50.0 1568.2,-50.0 1568.2,-50.0 1568.3,-50.0 1568.4,-50.0 1568.4,-50.0 1568.5,-50.0 1568.6,-50.0 1568.6,-50.0 1568.7,-50.0 1568.8,-50.0 1568.8,-50.0 1568.9,-50.0 1569.0,-50.0 1569.0,-50.0 1569.1,-50.0 1569.2,-50.0 1569.2,-50.0 1569.3,-50.0 1569.4,-50.0 1569.4,-50.0 1569.5,-50.0 1569.6,-50.0 1569.6,-50.0 1569.7,-50.0 1569.8,-50.0 1569.8,-50.0 1569.9,-50.0 1570.0,-50.0 1570.0,-50.0 1570.1,-50.0 1570.2,-50.0 1570.2,-50.0 1570.3,-50.0 1570.4,-50.0 1570.4,-50.0 1570.5,-50.0 1570.6,-50.0 1570.6,-50.0 1570.7,-50.0 1570.8,-50.0 1570.8,-50.0 1570.9,-50.0 1571.0,-50.0 1571.0,-50.0 1571.1,-50.0 1571.2,-50.0 1571.2,-50.0 1571.3,-50.0 1571.4,-50.0 1571.4,-50.0 1571.5,-50.0 1571.6,-50.0 1571.6,-50.0 1571.7,-50.0 1571.8,-50.0 1571.8,-50.0 1571.9,-50.0 1572.0,-50.0 1572.0,-50.0 1572.1,-50.0 1572.2,-50.0 1572.2,-50.0 1572.3,-50.0 1572.4,-50.0 1572.4,-26.0 1572.5,43.9 1572.6,109.0 1572.6,109.0 1572.7,169.5 1572.8,225.7 1572.8,277.9 1572.9,326.3 1573.0,371.2 1573.0,371.2 1573.1,412.7 1573.2,451.2 1573.2,486.7 1573.3,519.5 1573.4,549.8 1573.4,549.8 1573.5,577.8 1573.6,603.6 1573.6,627.6 1573.7,649.7 1573.8,670.1 1573.8,670.1 1573.9,689.0 1574.0,706.5 1574.0,722.5 1574.1,737.4 1574.2,751.1 1574.2,751.1 1574.3,763.8 1574.4,775.6 1574.4,786.4 1574.5,796.5 1574.6,805.8 1574.6,805.8 1574.7,814.4 1574.8,822.4 1574.8,829.9 1574.9,836.9 1575.0,843.4 1575.0,843.4 1575.1,849.5 1575.2,855.2 1575.2,860.6 1575.3,865.7 1575.4,870.5 1575.4,870.5 1575.5,875.0 1575.6,879.3 1575.6,883.4 1575.7,887.2 1575.8,890.7 1575.8,890.7 1575.9,894.2 1576.0,897.4 1576.0,900.5 1576.1,903.5 1576.2,906.3 1576.2,906.3 1576.3,909.0 1576.4,911.6 1576.4,914.2 1576.5,916.7 1576.6,919.1 1576.6,919.1 1576.7,921.4 1576.8,923.7 1576.8,925.9 1576.9,927.9 1577.0,930.0 1577.0,930.0 1577.1,931.9 1577.2,933.9 1577.2,935.7 1577.3,937.5 1577.4,939.2 1577.4,939.2 1577.5,940.8 1577.6,942.5 1577.6,944.1 1577.7,945.8 1577.8,947.5 1577.8,947.5 1577.9,949.1 1578.0,950.7 1578.0,952.2 1578.1,953.6 1578.2,954.9 1578.2,954.9 1578.3,956.2 1578.4,957.5 1578.4,958.8 1578.5,960.1 1578.6,961.4 1578.6,961.4 1578.7,962.7 1578.8,964.0 1578.8,965.2 1578.9,966.3 1579.0,967.5 1579.0,967.5 1579.1,968.6 1579.2,969.7 1579.2,970.8 1579.3,971.9 1579.4,973.0 1579.8,978.0 1580.2,982.6 1580.6,986.9 1581.0,990.8 1581.4,994.3 1581.8,997.7 1582.2,1000.7 1582.6,1003.3 1583.0,1006.0 1583.4,1008.2 1583.8,1010.5 1584.2,1012.6 1584.6,1014.6 1585.0,1016.3 1585.4,1017.9 1585.8,1019.9 1586.2,1021.6 1586.6,1022.3 1587.0,1023.3 1587.4,1024.6 1587.8,1026.1 1588.2,1027.6 1588.6,1028.8 1589.0,1029.5 1589.4,1030.4 1589.8,1031.1 1590.2,1030.9 1590.6,1032.4 1591.0,1033.4 1591.4,1033.7 1591.8,1034.5 1592.2,1035.9 1592.6,1036.5 1593.0,1037.0 1593.4,1037.9 1593.8,1037.8 1594.2,1037.7 1594.6,1039.1 1595.0,1040.5 1595.4,1041.1 1595.8,1042.2 1596.2,1042.4 1596.6,1042.0 1597.0,1042.2 1597.4,1042.6 1597.8,1042.9 1598.2,1042.7 1598.6,1044.2 1599.0,1043.8 1599.4,1043.0 1599.8,1044.5 1600.2,1044.7 1600.6,1044.1 1601.0,1044.3 1601.4,1045.0 1601.8,1044.9 1602.2,1045.5 1602.6,1046.2 1603.0,1046.3 1603.4,1047.2 1603.8,1047.1 1604.2,1047.1 1604.6,1047.5 1605.0,1047.7 1605.4,1048.3 1605.8,1048.4 1606.2,1048.0 1606.6,1047.6 1607.0,1047.8 1607.4,1048.4 1607.8,1049.5 1608.2,1050.2 1608.6,1049.5 1609.0,1049.1 1609.4,1048.6 1609.8,1047.4 1610.2,1048.1 1610.6,1049.3 1611.0,1049.2 1611.4,1048.8 1611.8,1050.3 1612.2,1051.1 1612.6,1049.7 1613.0,1051.4 1613.4,1052.4 1613.8,1050.6 1614.2,1050.9 1614.6,1050.7 1615.0,1051.4 1615.4,1051.2 1615.8,1049.6 1616.2,1050.7 1616.6,1051.1 1617.0,1052.1 1617.4,1051.6 1617.8,1050.3 1618.2,1051.5 1618.6,1052.3 1619.0,1052.8 1619.4,1052.7 1619.8,1053.5 1620.2,1053.1 1620.6,1052.1 1621.0,1053.2 1621.4,1053.3 1621.8,1052.9 1622.2,1053.1 1622.6,1053.0 1623.0,1052.7 1623.4,1052.8 1623.8,1052.6 1624.2,1053.3 1624.6,1053.4 1625.0,1054.5 1625.4,1056.6 1625.8,1055.9 1626.2,1054.5 1626.6,1053.3 1627.0,1054.1 1627.4,1054.5 1627.8,1054.0 1628.2,1053.4 1628.6,1053.5 1629.0,1053.3 1629.4,1052.4 1629.8,1051.6 1630.2,1051.0 1630.6,1052.4 1631.0,1052.7 1631.4,1052.2 1631.8,1053.2 1632.2,1053.7 1632.6,1054.2 1633.0,1053.1 1633.4,1052.9 1633.8,1054.9 1634.2,1053.8 1634.6,1053.0 1635.0,1054.7 1635.4,1054.9 1635.8,1053.9 1636.2,1054.9 1636.6,1055.0 1637.0,1054.9 1637.4,1054.5 1637.8,1054.4 1638.2,1055.6 1638.6,1055.6 1639.0,1053.4 1639.4,1053.4 1639.8,1054.6 1640.2,1053.4 1640.6,1054.2 1641.0,1053.5 1641.4,1053.8 1641.8,1054.5 1642.2,1054.3 1642.6,1054.8 1643.0,1053.0 1643.4,1053.3 1643.8,1054.5 1644.2,1054.8 1644.6,1055.3 1645.0,1054.2 1645.4,1053.7 1645.8,1054.7 1646.2,1054.1 1646.6,1053.1 1647.0,1052.8 1647.4,1054.2 1647.8,1055.5 1648.2,1054.6 1648.6,1053.3 1649.0,1054.7 1649.4,1054.6 1649.8,1053.9 1650.2,1054.4 1650.6,1053.2 1651.0,1053.8 1651.4,1054.9 1651.8,1055.9 1652.2,1057.5 1652.6,1056.4 1653.0,1055.6 1653.4,1056.4 1653.8,1055.4 1654.2,1054.2 1654.6,1055.7 1655.0,1056.2 1655.4,1055.1 1655.8,1055.2 1656.2,1055.2 1656.6,1054.9 1657.0,1055.5 1657.4,1056.6 1657.8,1055.7 1658.2,1053.8 1658.6,1053.9 1659.0,1053.7 1659.4,1053.1 1659.8,1054.9 1660.2,1056.7 1660.6,1056.1 1661.0,1053.9 1661.4,1054.2 1661.8,1053.6 1662.2,1052.7 1662.6,1055.3 1663.0,1056.4 1663.4,1054.4 1663.8,1052.8 1664.2,1054.2 1664.6,1055.2 1665.0,1054.3 1665.4,1054.5 1665.8,1054.4 1666.2,1052.8 1666.6,1053.5 1667.0,1054.1 1667.4,1052.8 1667.8,1052.2 1668.2,1053.1 1668.6,1053.5 1669.0,1053.8 1669.4,1054.3 1669.8,1054.7 1670.2,1054.7 1670.6,1053.7 1671.0,1052.8 1671.4,1052.7 1671.8,1054.6 1672.2,1056.9 1672.6,1055.7 1673.0,1053.7 1673.4,1054.8 1673.8,1055.8 1674.2,1055.1 1674.6,1054.7 1675.0,1054.0 1675.4,1053.6 1675.8,1055.1 1676.2,1056.3 1676.6,1055.4 1677.0,1054.0 1677.4,1054.4 1677.8,1055.3 1678.2,1055.4 1678.6,1054.2 1679.0,1054.1 1679.4,1055.2 1679.8,1054.3 1680.2,1052.6 1680.6,1053.2 1681.0,1054.1 1681.4,1054.4 1681.8,1054.2 1682.2,1053.3 1682.6,1053.1 1683.0,1053.1 1683.4,1053.0 1683.8,1053.5 1684.2,1053.9 1684.6,1055.0 1685.0,1054.4 1685.4,1053.6 1685.8,1053.9 1686.2,1054.8 1686.6,1055.3 1687.0,1054.0 1687.4,1054.5 1687.8,1054.9 1688.2,1054.1 1688.6,1055.0 1689.0,1055.7 1689.4,1055.7 1689.8,1055.9 1690.2,1055.1 1690.6,1054.4 1691.0,1053.2 1691.4,1053.7 1691.8,1054.5 1692.2,1054.6 1692.6,1054.6 1693.0,1053.8 1693.4,1053.2 1693.8,1054.1 1694.2,1055.7 1694.6,1055.1 1695.0,1054.5 1695.4,1055.5 1695.8,1054.5 1696.2,1053.3 1696.6,1053.0 1697.0,1053.8 1697.4,1054.7 1697.8,1053.6 1698.2,1052.4 1698.6,1052.8 1699.0,1054.8 1699.4,1055.0 1699.8,1054.2 1700.2,1055.0 1700.6,1054.4 1701.0,1054.0 1701.4,1055.1 1701.8,1054.5 1702.2,1053.5 1702.6,1054.2 1703.0,1054.8 1703.4,1054.6 1703.8,1054.8 1704.2,1055.1 1704.6,1054.2 1705.0,1053.5 1705.4,1054.2 1705.8,1055.2 1706.2,1055.6 1706.6,1054.0 1707.0,1053.7 1707.4,1054.6 1707.8,1053.9 1708.2,1053.9 1708.6,1054.7 1709.0,1055.9 1709.4,1055.0 1709.8,1054.6 1710.2,1055.3 1710.6,1054.8 1711.0,1055.5 1711.4,1056.0 1711.8,1054.4 1712.2,1053.5 1712.6,1054.2 1713.0,1053.3 1713.4,1053.7 1713.8,1054.6 1714.2,1054.1 1714.6,1054.3 1715.0,1055.3 1715.4,1055.0 1715.8,1053.5 1716.2,1054.6 1716.6,1054.5 1717.0,1053.0 1717.4,1052.3 1717.8,1053.3 1718.2,1054.3 1718.6,1053.9 1719.0,1053.8 1719.4,1053.5 1719.8,1053.0 1720.2,1052.7 1720.6,1053.7 1721.0,1054.4 1721.4,1055.2 1721.8,1054.6 1722.2,1053.1 1722.6,1052.9 1723.0,1054.1 1723.4,1053.9 1723.8,1053.5 1724.2,1055.3 1724.6,1054.7 1725.0,1054.3 1725.4,1053.0 1725.8,1052.3 1726.2,1052.7 1726.6,1053.2"/>
</g>
<g font-size="61.5"><text transform="translate(333.0 543.2) rotate(-90)">LAO (100)</text><text transform="translate(538.0 839.7) rotate(-90)">NTO (006)</text><text transform="translate(668.3 839.7) rotate(-90)">NTO (202)</text><text transform="translate(784.8 543.2) rotate(-90)">LAO (200)</text><text transform="translate(1064.8 543.2) rotate(-90)">LAO (300)</text><text transform="translate(1240.5 960.5) rotate(-90)">NTO (00 12)</text><text transform="translate(1401.0 1029.1) rotate(-90)">NTO (404)</text><text transform="translate(1647.6 543.2) rotate(-90)">LAO (400)</text></g>
<rect x="1136" y="80" width="538" height="147.8" fill="#fff" stroke="#000" stroke-width="2"/>
<path d="M1156.4 118.7H1292.6" stroke="#ff0000" stroke-width="7.2" stroke-linecap="round"/>
<path d="M1156.4 193.3H1292.6" stroke="#000" stroke-width="8" stroke-linecap="round"/>
<g font-size="61">
<text x="1310" y="138.4">Annealed</text>
<text x="1310" y="213.6">As deposited</text>
</g>
<path d="M311.5 1112.0v-21M311.5 23.0v21M453.1 1112.0v-10.5M453.1 23.0v10.5M594.6 1112.0v-21M594.6 23.0v21M736.2 1112.0v-10.5M736.2 23.0v10.5M877.7 1112.0v-21M877.7 23.0v21M1019.3 1112.0v-10.5M1019.3 23.0v10.5M1160.8 1112.0v-21M1160.8 23.0v21M1302.4 1112.0v-10.5M1302.4 23.0v10.5M1443.9 1112.0v-21M1443.9 23.0v21M1585.5 1112.0v-10.5M1585.5 23.0v10.5M1727.0 1112.0v-21M1727.0 23.0v21M170.0 105.0h21M1727.0 105.0h-21M170.0 187.5h10.5M1727.0 187.5h-10.5M170.0 270.0h21M1727.0 270.0h-21M170.0 352.5h10.5M1727.0 352.5h-10.5M170.0 435.0h21M1727.0 435.0h-21M170.0 517.5h10.5M1727.0 517.5h-10.5M170.0 600.0h21M1727.0 600.0h-21M170.0 682.5h10.5M1727.0 682.5h-10.5M170.0 765.0h21M1727.0 765.0h-21M170.0 847.5h10.5M1727.0 847.5h-10.5M170.0 930.0h21M1727.0 930.0h-21M170.0 1012.5h10.5M1727.0 1012.5h-10.5M170.0 1095.0h21M1727.0 1095.0h-21" stroke="#000" stroke-width="4" stroke-linecap="round" fill="none"/>
<rect x="170.0" y="23.0" width="1557.0" height="1089.0" fill="none" stroke="#000" stroke-width="4" stroke-linejoin="round"/>
<g font-size="62"><text x="311.5" y="1182" text-anchor="middle">20</text><text x="594.6" y="1182" text-anchor="middle">40</text><text x="877.7" y="1182" text-anchor="middle">60</text><text x="1160.8" y="1182" text-anchor="middle">80</text><text x="1443.9" y="1182" text-anchor="middle">100</text><text x="1727.0" y="1182" text-anchor="middle">120</text></g>
<text transform="translate(74.8 857.8) rotate(-90)" font-size="66.4">Intensity (arb. units)</text>
<g font-size="67.5">
<text x="863.5" y="1281.5">2</text>
<text class="serif" x="901.5" y="1280.5" font-size="70.5">θ</text>
<text class="serif" x="959.5" y="1283.2" font-size="65.8">(</text>
<text class="serif2" x="982.6" y="1279.8" font-size="65">°</text>
<text class="serif" x="1009" y="1283.2" font-size="65.8">)</text>
</g>
</svg>
</body></html>
